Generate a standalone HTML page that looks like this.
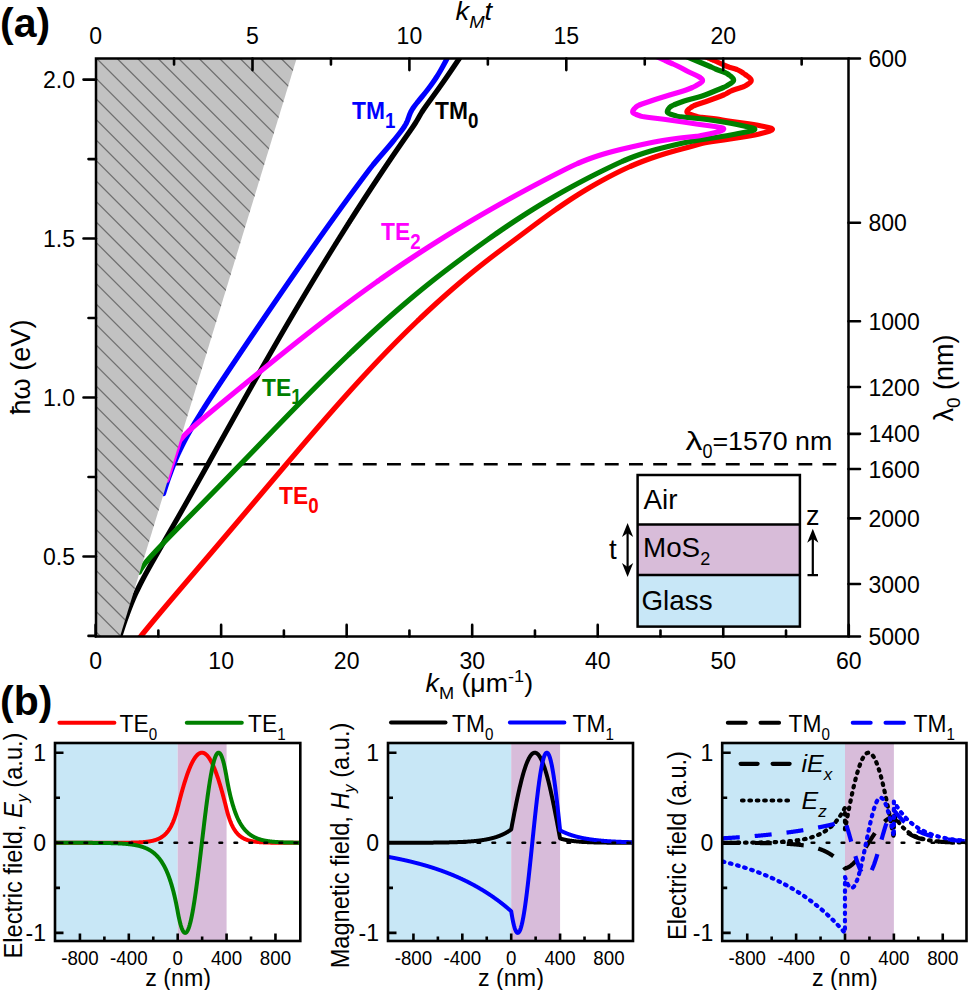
<!DOCTYPE html><html><head><meta charset="utf-8"><style>html,body{margin:0;padding:0;background:#fff;overflow:hidden;}svg{display:block;}text{font-family:"Liberation Sans",sans-serif;}</style></head><body>
<svg width="969" height="990" viewBox="0 0 969 990">
<defs><clipPath id="ca"><rect x="96.0" y="58.5" width="752.5" height="578.0"/></clipPath></defs>
<g clip-path="url(#ca)" fill="none" stroke-width="5.20" stroke-linejoin="round" stroke-linecap="round">
<path d="M96.6,464.2 L836.3,464.2" stroke="#000" stroke-width="2.6" stroke-dasharray="13.9 10.3" stroke-linecap="butt"/>
<path d="M118.71,640.00 L118.86,639.50 L119.02,639.00 L119.18,638.50 L119.33,638.00 L119.49,637.50 L119.65,637.00 L119.81,636.50 L119.96,636.00 L120.12,635.50 L120.28,635.00 L120.44,634.50 L120.60,634.00 L120.76,633.50 L120.92,633.00 L121.08,632.50 L121.24,632.00 L121.40,631.50 L121.57,631.00 L121.73,630.50 L121.89,630.00 L122.05,629.50 L122.22,629.00 L122.38,628.50 L122.54,628.00 L122.71,627.50 L122.87,627.00 L123.04,626.50 L123.21,626.00 L123.37,625.50 L123.54,625.00 L123.71,624.50 L123.88,624.00 L124.04,623.50 L124.21,623.00 L124.38,622.50 L124.55,622.00 L124.73,621.50 L124.90,621.00 L125.07,620.50 L125.24,620.00 L125.42,619.50 L125.59,619.00 L125.76,618.50 L125.94,618.00 L126.12,617.50 L126.29,617.00 L126.47,616.50 L126.65,616.00 L126.83,615.50 L127.01,615.00 L127.19,614.50 L127.37,614.00 L127.56,613.50 L127.74,613.00 L127.92,612.50 L128.11,612.00 L128.30,611.50 L128.48,611.00 L128.67,610.50 L128.86,610.00 L129.05,609.50 L129.24,609.00 L129.43,608.50 L129.63,608.00 L129.82,607.50 L130.02,607.00 L130.21,606.50 L130.41,606.00 L130.61,605.50 L130.81,605.00 L131.01,604.50 L131.21,604.00 L131.42,603.50 L131.62,603.00 L131.83,602.50 L132.03,602.00 L132.24,601.50 L132.45,601.00 L132.66,600.50 L132.87,600.00 L133.09,599.50 L133.30,599.00 L133.52,598.50 L133.74,598.00 L133.95,597.50 L134.17,597.00 L134.40,596.50 L134.62,596.00 L134.84,595.50 L135.07,595.00 L135.29,594.50 L135.52,594.00 L135.75,593.50 L135.98,593.00 L136.22,592.50 L136.45,592.00 L136.68,591.50 L136.92,591.00 L137.16,590.50 L137.40,590.00 L137.64,589.50 L137.88,589.00 L138.12,588.50 L138.36,588.00 L138.61,587.50 L138.85,587.00 L139.10,586.50 L139.35,586.00 L139.60,585.50 L139.85,585.00 L140.10,584.50 L140.36,584.00 L140.61,583.50 L140.87,583.00 L141.12,582.50 L141.38,582.00 L141.64,581.50 L141.90,581.00 L142.16,580.50 L142.42,580.00 L142.69,579.50 L142.95,579.00 L143.22,578.50 L143.48,578.00 L143.75,577.50 L144.01,577.00 L144.28,576.50 L144.55,576.00 L144.82,575.50 L145.09,575.00 L145.36,574.50 L145.64,574.00 L145.91,573.50 L146.18,573.00 L146.46,572.50 L146.73,572.00 L147.01,571.50 L147.28,571.00 L147.56,570.50 L147.84,570.00 L148.12,569.50 L148.39,569.00 L148.67,568.50 L148.95,568.00 L149.23,567.50 L149.51,567.00 L149.79,566.50 L150.07,566.00 L150.36,565.50 L150.64,565.00 L150.92,564.50 L151.20,564.00 L151.49,563.50 L151.77,563.00 L152.05,562.50 L152.34,562.00 L152.62,561.50 L152.91,561.00 L153.19,560.50 L153.48,560.00 L153.76,559.50 L154.05,559.00 L154.33,558.50 L154.62,558.00 L154.91,557.50 L155.19,557.00 L155.48,556.50 L155.77,556.00 L156.05,555.50 L156.34,555.00 L156.63,554.50 L156.92,554.00 L157.20,553.50 L157.49,553.00 L157.78,552.50 L158.07,552.00 L158.36,551.50 L158.64,551.00 L158.93,550.50 L159.22,550.00 L159.51,549.50 L159.80,549.00 L160.09,548.50 L160.37,548.00 L160.66,547.50 L160.95,547.00 L161.24,546.50 L161.53,546.00 L161.82,545.50 L162.11,545.00 L162.39,544.50 L162.68,544.00 L162.97,543.50 L163.26,543.00 L163.55,542.50 L163.84,542.00 L164.13,541.50 L164.42,541.00 L164.70,540.50 L164.99,540.00 L165.28,539.50 L165.57,539.00 L165.86,538.50 L166.15,538.00 L166.44,537.50 L166.72,537.00 L167.01,536.50 L167.30,536.00 L167.59,535.50 L167.88,535.00 L168.17,534.50 L168.45,534.00 L168.74,533.50 L169.03,533.00 L169.32,532.50 L169.61,532.00 L169.89,531.50 L170.18,531.00 L170.47,530.50 L170.76,530.00 L171.04,529.50 L171.33,529.00 L171.62,528.50 L171.91,528.00 L172.19,527.50 L172.48,527.00 L172.77,526.50 L173.05,526.00 L173.34,525.50 L173.63,525.00 L173.91,524.50 L174.20,524.00 L174.49,523.50 L174.77,523.00 L175.06,522.50 L175.35,522.00 L175.63,521.50 L175.92,521.00 L176.21,520.50 L176.49,520.00 L176.78,519.50 L177.06,519.00 L177.35,518.50 L177.64,518.00 L177.92,517.50 L178.21,517.00 L178.49,516.50 L178.78,516.00 L179.06,515.50 L179.35,515.00 L179.63,514.50 L179.92,514.00 L180.20,513.50 L180.49,513.00 L180.77,512.50 L181.06,512.00 L181.34,511.50 L181.63,511.00 L181.91,510.50 L182.20,510.00 L182.48,509.50 L182.77,509.00 L183.05,508.50 L183.33,508.00 L183.62,507.50 L183.90,507.00 L184.19,506.50 L184.47,506.00 L184.75,505.50 L185.04,505.00 L185.32,504.50 L185.60,504.00 L185.89,503.50 L186.17,503.00 L186.45,502.50 L186.74,502.00 L187.02,501.50 L187.30,501.00 L187.59,500.50 L187.87,500.00 L188.15,499.50 L188.43,499.00 L188.72,498.50 L189.00,498.00 L189.28,497.50 L189.57,497.00 L189.85,496.50 L190.13,496.00 L190.41,495.50 L190.69,495.00 L190.98,494.50 L191.26,494.00 L191.54,493.50 L191.82,493.00 L192.10,492.50 L192.39,492.00 L192.67,491.50 L192.95,491.00 L193.23,490.50 L193.51,490.00 L193.80,489.50 L194.08,489.00 L194.36,488.50 L194.64,488.00 L194.92,487.50 L195.20,487.00 L195.48,486.50 L195.76,486.00 L196.05,485.50 L196.33,485.00 L196.61,484.50 L196.89,484.00 L197.17,483.50 L197.45,483.00 L197.73,482.50 L198.01,482.00 L198.29,481.50 L198.57,481.00 L198.85,480.50 L199.13,480.00 L199.41,479.50 L199.69,479.00 L199.98,478.50 L200.26,478.00 L200.54,477.50 L200.82,477.00 L201.10,476.50 L201.38,476.00 L201.66,475.50 L201.94,475.00 L202.22,474.50 L202.50,474.00 L202.78,473.50 L203.06,473.00 L203.34,472.50 L203.62,472.00 L203.90,471.50 L204.18,471.00 L204.46,470.50 L204.74,470.00 L205.02,469.50 L205.30,469.00 L205.58,468.50 L205.85,468.00 L206.13,467.50 L206.41,467.00 L206.69,466.50 L206.97,466.00 L207.25,465.50 L207.53,465.00 L207.81,464.50 L208.09,464.00 L208.37,463.50 L208.65,463.00 L208.93,462.50 L209.21,462.00 L209.49,461.50 L209.77,461.00 L210.05,460.50 L210.33,460.00 L210.60,459.50 L210.88,459.00 L211.16,458.50 L211.44,458.00 L211.72,457.50 L212.00,457.00 L212.28,456.50 L212.56,456.00 L212.84,455.50 L213.12,455.00 L213.40,454.50 L213.68,454.00 L213.95,453.50 L214.23,453.00 L214.51,452.50 L214.79,452.00 L215.07,451.50 L215.35,451.00 L215.63,450.50 L215.91,450.00 L216.19,449.50 L216.47,449.00 L216.74,448.50 L217.02,448.00 L217.30,447.50 L217.58,447.00 L217.86,446.50 L218.14,446.00 L218.42,445.50 L218.70,445.00 L218.98,444.50 L219.25,444.00 L219.53,443.50 L219.81,443.00 L220.09,442.50 L220.37,442.00 L220.65,441.50 L220.93,441.00 L221.21,440.50 L221.49,440.00 L221.77,439.50 L222.04,439.00 L222.32,438.50 L222.60,438.00 L222.88,437.50 L223.16,437.00 L223.44,436.50 L223.72,436.00 L224.00,435.50 L224.28,435.00 L224.56,434.50 L224.83,434.00 L225.11,433.50 L225.39,433.00 L225.67,432.50 L225.95,432.00 L226.23,431.50 L226.51,431.00 L226.79,430.50 L227.07,430.00 L227.35,429.50 L227.63,429.00 L227.91,428.50 L228.18,428.00 L228.46,427.50 L228.74,427.00 L229.02,426.50 L229.30,426.00 L229.58,425.50 L229.86,425.00 L230.14,424.50 L230.42,424.00 L230.70,423.50 L230.98,423.00 L231.26,422.50 L231.54,422.00 L231.82,421.50 L232.10,421.00 L232.38,420.50 L232.66,420.00 L232.94,419.50 L233.21,419.00 L233.49,418.50 L233.77,418.00 L234.05,417.50 L234.33,417.00 L234.61,416.50 L234.89,416.00 L235.17,415.50 L235.45,415.00 L235.73,414.50 L236.01,414.00 L236.29,413.50 L236.57,413.00 L236.85,412.50 L237.13,412.00 L237.41,411.50 L237.69,411.00 L237.97,410.50 L238.25,410.00 L238.53,409.50 L238.81,409.00 L239.10,408.50 L239.38,408.00 L239.66,407.50 L239.94,407.00 L240.22,406.50 L240.50,406.00 L240.78,405.50 L241.06,405.00 L241.34,404.50 L241.62,404.00 L241.90,403.50 L242.18,403.00 L242.46,402.50 L242.74,402.00 L243.02,401.50 L243.31,401.00 L243.59,400.50 L243.87,400.00 L244.15,399.50 L244.43,399.00 L244.71,398.50 L244.99,398.00 L245.27,397.50 L245.55,397.00 L245.84,396.50 L246.12,396.00 L246.40,395.50 L246.68,395.00 L246.96,394.50 L247.24,394.00 L247.53,393.50 L247.81,393.00 L248.09,392.50 L248.37,392.00 L248.65,391.50 L248.93,391.00 L249.22,390.50 L249.50,390.00 L249.78,389.50 L250.06,389.00 L250.35,388.50 L250.63,388.00 L250.91,387.50 L251.19,387.00 L251.47,386.50 L251.76,386.00 L252.04,385.50 L252.32,385.00 L252.61,384.50 L252.89,384.00 L253.17,383.50 L253.45,383.00 L253.74,382.50 L254.02,382.00 L254.30,381.50 L254.59,381.00 L254.87,380.50 L255.15,380.00 L255.44,379.50 L255.72,379.00 L256.00,378.50 L256.29,378.00 L256.57,377.50 L256.85,377.00 L257.14,376.50 L257.42,376.00 L257.70,375.50 L257.99,375.00 L258.27,374.50 L258.56,374.00 L258.84,373.50 L259.12,373.00 L259.41,372.50 L259.69,372.00 L259.98,371.50 L260.26,371.00 L260.55,370.50 L260.83,370.00 L261.11,369.50 L261.40,369.00 L261.68,368.50 L261.97,368.00 L262.25,367.50 L262.54,367.00 L262.82,366.50 L263.11,366.00 L263.39,365.50 L263.68,365.00 L263.96,364.50 L264.25,364.00 L264.54,363.50 L264.82,363.00 L265.11,362.50 L265.39,362.00 L265.68,361.50 L265.96,361.00 L266.25,360.50 L266.54,360.00 L266.82,359.50 L267.11,359.00 L267.39,358.50 L267.68,358.00 L267.97,357.50 L268.25,357.00 L268.54,356.50 L268.83,356.00 L269.11,355.50 L269.40,355.00 L269.69,354.50 L269.97,354.00 L270.26,353.50 L270.55,353.00 L270.84,352.50 L271.12,352.00 L271.41,351.50 L271.70,351.00 L271.98,350.50 L272.27,350.00 L272.56,349.50 L272.85,349.00 L273.14,348.50 L273.42,348.00 L273.71,347.50 L274.00,347.00 L274.29,346.50 L274.58,346.00 L274.86,345.50 L275.15,345.00 L275.44,344.50 L275.73,344.00 L276.02,343.50 L276.31,343.00 L276.60,342.50 L276.89,342.00 L277.17,341.50 L277.46,341.00 L277.75,340.50 L278.04,340.00 L278.33,339.50 L278.62,339.00 L278.91,338.50 L279.20,338.00 L279.49,337.50 L279.78,337.00 L280.07,336.50 L280.36,336.00 L280.65,335.50 L280.94,335.00 L281.23,334.50 L281.52,334.00 L281.81,333.50 L282.10,333.00 L282.39,332.50 L282.68,332.00 L282.97,331.50 L283.27,331.00 L283.56,330.50 L283.85,330.00 L284.14,329.50 L284.43,329.00 L284.72,328.50 L285.01,328.00 L285.30,327.50 L285.60,327.00 L285.89,326.50 L286.18,326.00 L286.47,325.50 L286.76,325.00 L287.06,324.50 L287.35,324.00 L287.64,323.50 L287.93,323.00 L288.23,322.50 L288.52,322.00 L288.81,321.50 L289.10,321.00 L289.40,320.50 L289.69,320.00 L289.98,319.50 L290.28,319.00 L290.57,318.50 L290.86,318.00 L291.16,317.50 L291.45,317.00 L291.75,316.50 L292.04,316.00 L292.33,315.50 L292.63,315.00 L292.92,314.50 L293.22,314.00 L293.51,313.50 L293.81,313.00 L294.10,312.50 L294.39,312.00 L294.69,311.50 L294.98,311.00 L295.28,310.50 L295.57,310.00 L295.87,309.50 L296.17,309.00 L296.46,308.50 L296.76,308.00 L297.05,307.50 L297.35,307.00 L297.64,306.50 L297.94,306.00 L298.24,305.50 L298.53,305.00 L298.83,304.50 L299.13,304.00 L299.42,303.50 L299.72,303.00 L300.02,302.50 L300.31,302.00 L300.61,301.50 L300.91,301.00 L301.20,300.50 L301.50,300.00 L301.80,299.50 L302.10,299.00 L302.39,298.50 L302.69,298.00 L302.99,297.50 L303.29,297.00 L303.59,296.50 L303.88,296.00 L304.18,295.50 L304.48,295.00 L304.78,294.50 L305.08,294.00 L305.38,293.50 L305.68,293.00 L305.98,292.50 L306.27,292.00 L306.57,291.50 L306.87,291.00 L307.17,290.50 L307.47,290.00 L307.77,289.50 L308.07,289.00 L308.37,288.50 L308.67,288.00 L308.97,287.50 L309.27,287.00 L309.57,286.50 L309.87,286.00 L310.17,285.50 L310.47,285.00 L310.78,284.50 L311.08,284.00 L311.38,283.50 L311.68,283.00 L311.98,282.50 L312.28,282.00 L312.58,281.50 L312.89,281.00 L313.19,280.50 L313.49,280.00 L313.79,279.50 L314.09,279.00 L314.40,278.50 L314.70,278.00 L315.00,277.50 L315.30,277.00 L315.61,276.50 L315.91,276.00 L316.21,275.50 L316.52,275.00 L316.82,274.50 L317.12,274.00 L317.43,273.50 L317.73,273.00 L318.03,272.50 L318.34,272.00 L318.64,271.50 L318.95,271.00 L319.25,270.50 L319.55,270.00 L319.86,269.50 L320.16,269.00 L320.47,268.50 L320.77,268.00 L321.08,267.50 L321.38,267.00 L321.69,266.50 L322.00,266.00 L322.30,265.50 L322.61,265.00 L322.91,264.50 L323.22,264.00 L323.52,263.50 L323.83,263.00 L324.14,262.50 L324.44,262.00 L324.75,261.50 L325.06,261.00 L325.36,260.50 L325.67,260.00 L325.98,259.50 L326.29,259.00 L326.59,258.50 L326.90,258.00 L327.21,257.50 L327.52,257.00 L327.82,256.50 L328.13,256.00 L328.44,255.50 L328.75,255.00 L329.06,254.50 L329.36,254.00 L329.67,253.50 L329.98,253.00 L330.29,252.50 L330.60,252.00 L330.91,251.50 L331.22,251.00 L331.53,250.50 L331.84,250.00 L332.15,249.50 L332.46,249.00 L332.77,248.50 L333.08,248.00 L333.39,247.50 L333.70,247.00 L334.01,246.50 L334.32,246.00 L334.63,245.50 L334.94,245.00 L335.25,244.50 L335.56,244.00 L335.88,243.50 L336.19,243.00 L336.50,242.50 L336.81,242.00 L337.12,241.50 L337.43,241.00 L337.75,240.50 L338.06,240.00 L338.37,239.50 L338.68,239.00 L339.00,238.50 L339.31,238.00 L339.62,237.50 L339.94,237.00 L340.25,236.50 L340.56,236.00 L340.88,235.50 L341.19,235.00 L341.50,234.50 L341.82,234.00 L342.13,233.50 L342.45,233.00 L342.76,232.50 L343.08,232.00 L343.39,231.50 L343.71,231.00 L344.02,230.50 L344.34,230.00 L344.65,229.50 L344.97,229.00 L345.28,228.50 L345.60,228.00 L345.91,227.50 L346.23,227.00 L346.55,226.50 L346.86,226.00 L347.18,225.50 L347.49,225.00 L347.81,224.50 L348.13,224.00 L348.45,223.50 L348.76,223.00 L349.08,222.50 L349.40,222.00 L349.72,221.50 L350.03,221.00 L350.35,220.50 L350.67,220.00 L350.99,219.50 L351.31,219.00 L351.62,218.50 L351.94,218.00 L352.26,217.50 L352.58,217.00 L352.90,216.50 L353.22,216.00 L353.54,215.50 L353.86,215.00 L354.18,214.50 L354.50,214.00 L354.82,213.50 L355.14,213.00 L355.46,212.50 L355.78,212.00 L356.10,211.50 L356.42,211.00 L356.74,210.50 L357.06,210.00 L357.38,209.50 L357.70,209.00 L358.03,208.50 L358.35,208.00 L358.67,207.50 L358.99,207.00 L359.31,206.50 L359.64,206.00 L359.96,205.50 L360.28,205.00 L360.60,204.50 L360.93,204.00 L361.25,203.50 L361.57,203.00 L361.90,202.50 L362.22,202.00 L362.54,201.50 L362.87,201.00 L363.19,200.50 L363.52,200.00 L363.84,199.50 L364.16,199.00 L364.49,198.50 L364.81,198.00 L365.14,197.50 L365.46,197.00 L365.79,196.50 L366.11,196.00 L366.44,195.50 L366.77,195.00 L367.09,194.50 L367.42,194.00 L367.74,193.50 L368.07,193.00 L368.40,192.50 L368.72,192.00 L369.05,191.50 L369.38,191.00 L369.71,190.50 L370.03,190.00 L370.36,189.50 L370.69,189.00 L371.02,188.50 L371.34,188.00 L371.67,187.50 L372.00,187.00 L372.33,186.50 L372.66,186.00 L372.99,185.50 L373.32,185.00 L373.65,184.50 L373.98,184.00 L374.31,183.50 L374.64,183.00 L374.97,182.50 L375.30,182.00 L375.63,181.50 L375.96,181.00 L376.29,180.50 L376.62,180.00 L376.95,179.50 L377.28,179.00 L377.61,178.50 L377.94,178.00 L378.27,177.50 L378.61,177.00 L378.94,176.50 L379.27,176.00 L379.60,175.50 L379.94,175.00 L380.27,174.50 L380.60,174.00 L380.94,173.50 L381.27,173.00 L381.60,172.50 L381.94,172.00 L382.27,171.50 L382.60,171.00 L382.94,170.50 L383.27,170.00 L383.61,169.50 L383.94,169.00 L384.28,168.50 L384.61,168.00 L384.95,167.50 L385.29,167.00 L385.62,166.50 L385.96,166.00 L386.29,165.50 L386.63,165.00 L386.97,164.50 L387.30,164.00 L387.64,163.50 L387.98,163.00 L388.32,162.50 L388.65,162.00 L388.99,161.50 L389.33,161.00 L389.67,160.50 L390.01,160.00 L390.35,159.50 L390.68,159.00 L391.02,158.50 L391.36,158.00 L391.70,157.50 L392.04,157.00 L392.38,156.50 L392.72,156.00 L393.06,155.50 L393.41,155.00 L393.75,154.50 L394.09,154.00 L394.43,153.50 L394.77,153.00 L395.11,152.50 L395.45,152.00 L395.80,151.50 L396.14,151.00 L396.48,150.50 L396.83,150.00 L397.17,149.50 L397.51,149.00 L397.86,148.50 L398.20,148.00 L398.55,147.50 L398.89,147.00 L399.24,146.50 L399.58,146.00 L399.93,145.50 L400.27,145.00 L400.62,144.50 L400.96,144.00 L401.31,143.50 L401.66,143.00 L402.00,142.50 L402.35,142.00 L402.70,141.50 L403.05,141.00 L403.39,140.50 L403.74,140.00 L404.09,139.50 L404.44,139.00 L404.79,138.50 L405.14,138.00 L405.49,137.50 L405.83,137.00 L406.18,136.50 L406.53,136.00 L406.88,135.50 L407.23,135.00 L407.58,134.50 L407.93,134.00 L408.28,133.50 L408.63,133.00 L408.98,132.50 L409.33,132.00 L409.68,131.50 L410.03,131.00 L410.37,130.50 L410.72,130.00 L411.07,129.50 L411.41,129.00 L411.76,128.50 L412.10,128.00 L412.45,127.50 L412.79,127.00 L413.13,126.50 L413.46,126.00 L413.80,125.50 L414.13,125.00 L414.46,124.50 L414.78,124.00 L415.11,123.50 L415.43,123.00 L415.74,122.50 L416.06,122.00 L416.36,121.50 L416.67,121.00 L416.97,120.50 L417.26,120.00 L417.55,119.50 L417.84,119.00 L418.13,118.50 L418.41,118.00 L418.69,117.50 L418.98,117.00 L419.26,116.50 L419.54,116.00 L419.83,115.50 L420.11,115.00 L420.40,114.50 L420.70,114.00 L421.00,113.50 L421.30,113.00 L421.61,112.50 L421.93,112.00 L422.25,111.50 L422.57,111.00 L422.90,110.50 L423.23,110.00 L423.57,109.50 L423.91,109.00 L424.25,108.50 L424.60,108.00 L424.95,107.50 L425.30,107.00 L425.66,106.50 L426.01,106.00 L426.37,105.50 L426.73,105.00 L427.09,104.50 L427.45,104.00 L427.81,103.50 L428.17,103.00 L428.53,102.50 L428.90,102.00 L429.26,101.50 L429.62,101.00 L429.99,100.50 L430.35,100.00 L430.71,99.50 L431.08,99.00 L431.44,98.50 L431.80,98.00 L432.17,97.50 L432.53,97.00 L432.89,96.50 L433.25,96.00 L433.61,95.50 L433.98,95.00 L434.34,94.50 L434.70,94.00 L435.06,93.50 L435.42,93.00 L435.78,92.50 L436.14,92.00 L436.50,91.50 L436.86,91.00 L437.22,90.50 L437.58,90.00 L437.93,89.50 L438.29,89.00 L438.65,88.50 L439.01,88.00 L439.36,87.50 L439.72,87.00 L440.07,86.50 L440.43,86.00 L440.79,85.50 L441.14,85.00 L441.49,84.50 L441.85,84.00 L442.20,83.50 L442.55,83.00 L442.90,82.50 L443.26,82.00 L443.61,81.50 L443.96,81.00 L444.31,80.50 L444.66,80.00 L445.01,79.50 L445.35,79.00 L445.70,78.50 L446.05,78.00 L446.40,77.50 L446.74,77.00 L447.09,76.50 L447.43,76.00 L447.78,75.50 L448.12,75.00 L448.46,74.50 L448.81,74.00 L449.15,73.50 L449.49,73.00 L449.83,72.50 L450.17,72.00 L450.51,71.50 L450.85,71.00 L451.19,70.50 L451.53,70.00 L451.87,69.50 L452.21,69.00 L452.55,68.50 L452.88,68.00 L453.22,67.50 L453.56,67.00 L453.89,66.50 L454.23,66.00 L454.57,65.50 L454.90,65.00 L455.24,64.50 L455.58,64.00 L455.91,63.50 L456.25,63.00 L456.59,62.50 L456.92,62.00 L457.26,61.50 L457.60,61.00 L457.94,60.50 L458.27,60.00 L458.61,59.50 L458.95,59.00 L459.29,58.50 L459.63,58.00 L459.97,57.50 L460.31,57.00 L460.66,56.50 L461.00,56.00 L461.34,55.50 L461.69,55.00 L462.03,54.50" stroke="#000000"/>
<path d="M163.54,493.50 L163.69,493.00 L163.85,492.50 L164.00,492.00 L164.16,491.50 L164.31,491.00 L164.47,490.50 L164.63,490.00 L164.79,489.50 L164.95,489.00 L165.11,488.50 L165.27,488.00 L165.43,487.50 L165.59,487.00 L165.75,486.50 L165.91,486.00 L166.08,485.50 L166.24,485.00 L166.41,484.50 L166.57,484.00 L166.74,483.50 L166.90,483.00 L167.07,482.50 L167.24,482.00 L167.41,481.50 L167.58,481.00 L167.75,480.50 L167.92,480.00 L168.09,479.50 L168.27,479.00 L168.44,478.50 L168.61,478.00 L168.79,477.50 L168.96,477.00 L169.14,476.50 L169.32,476.00 L169.50,475.50 L169.68,475.00 L169.86,474.50 L170.04,474.00 L170.22,473.50 L170.40,473.00 L170.59,472.50 L170.77,472.00 L170.96,471.50 L171.14,471.00 L171.33,470.50 L171.52,470.00 L171.71,469.50 L171.90,469.00 L172.09,468.50 L172.28,468.00 L172.48,467.50 L172.67,467.00 L172.87,466.50 L173.06,466.00 L173.26,465.50 L173.46,465.00 L173.66,464.50 L173.86,464.00 L174.06,463.50 L174.27,463.00 L174.47,462.50 L174.68,462.00 L174.89,461.50 L175.09,461.00 L175.30,460.50 L175.51,460.00 L175.73,459.50 L175.94,459.00 L176.15,458.50 L176.37,458.00 L176.59,457.50 L176.80,457.00 L177.02,456.50 L177.24,456.00 L177.47,455.50 L177.69,455.00 L177.91,454.50 L178.14,454.00 L178.37,453.50 L178.60,453.00 L178.82,452.50 L179.06,452.00 L179.29,451.50 L179.52,451.00 L179.76,450.50 L180.00,450.00 L180.23,449.50 L180.47,449.00 L180.71,448.50 L180.96,448.00 L181.20,447.50 L181.44,447.00 L181.69,446.50 L181.94,446.00 L182.19,445.50 L182.44,445.00 L182.69,444.50 L182.94,444.00 L183.20,443.50 L183.45,443.00 L183.71,442.50 L183.97,442.00 L184.23,441.50 L184.49,441.00 L184.75,440.50 L185.02,440.00 L185.28,439.50 L185.55,439.00 L185.81,438.50 L186.08,438.00 L186.35,437.50 L186.62,437.00 L186.90,436.50 L187.17,436.00 L187.44,435.50 L187.72,435.00 L188.00,434.50 L188.28,434.00 L188.55,433.50 L188.84,433.00 L189.12,432.50 L189.40,432.00 L189.68,431.50 L189.97,431.00 L190.25,430.50 L190.54,430.00 L190.83,429.50 L191.12,429.00 L191.41,428.50 L191.70,428.00 L191.99,427.50 L192.28,427.00 L192.58,426.50 L192.87,426.00 L193.17,425.50 L193.47,425.00 L193.76,424.50 L194.06,424.00 L194.36,423.50 L194.66,423.00 L194.96,422.50 L195.26,422.00 L195.56,421.50 L195.87,421.00 L196.17,420.50 L196.48,420.00 L196.78,419.50 L197.09,419.00 L197.39,418.50 L197.70,418.00 L198.01,417.50 L198.32,417.00 L198.63,416.50 L198.94,416.00 L199.25,415.50 L199.56,415.00 L199.87,414.50 L200.18,414.00 L200.50,413.50 L200.81,413.00 L201.12,412.50 L201.44,412.00 L201.75,411.50 L202.07,411.00 L202.39,410.50 L202.70,410.00 L203.02,409.50 L203.34,409.00 L203.65,408.50 L203.97,408.00 L204.29,407.50 L204.61,407.00 L204.93,406.50 L205.25,406.00 L205.57,405.50 L205.89,405.00 L206.21,404.50 L206.53,404.00 L206.86,403.50 L207.18,403.00 L207.50,402.50 L207.82,402.00 L208.15,401.50 L208.47,401.00 L208.80,400.50 L209.12,400.00 L209.44,399.50 L209.77,399.00 L210.10,398.50 L210.42,398.00 L210.75,397.50 L211.07,397.00 L211.40,396.50 L211.73,396.00 L212.05,395.50 L212.38,395.00 L212.71,394.50 L213.03,394.00 L213.36,393.50 L213.69,393.00 L214.02,392.50 L214.35,392.00 L214.67,391.50 L215.00,391.00 L215.33,390.50 L215.66,390.00 L215.99,389.50 L216.32,389.00 L216.65,388.50 L216.98,388.00 L217.31,387.50 L217.64,387.00 L217.97,386.50 L218.30,386.00 L218.63,385.50 L218.96,385.00 L219.29,384.50 L219.63,384.00 L219.96,383.50 L220.29,383.00 L220.62,382.50 L220.95,382.00 L221.28,381.50 L221.62,381.00 L221.95,380.50 L222.28,380.00 L222.61,379.50 L222.94,379.00 L223.28,378.50 L223.61,378.00 L223.94,377.50 L224.28,377.00 L224.61,376.50 L224.94,376.00 L225.28,375.50 L225.61,375.00 L225.94,374.50 L226.28,374.00 L226.61,373.50 L226.94,373.00 L227.28,372.50 L227.61,372.00 L227.94,371.50 L228.28,371.00 L228.61,370.50 L228.95,370.00 L229.28,369.50 L229.62,369.00 L229.95,368.50 L230.28,368.00 L230.62,367.50 L230.95,367.00 L231.29,366.50 L231.62,366.00 L231.96,365.50 L232.29,365.00 L232.63,364.50 L232.96,364.00 L233.30,363.50 L233.63,363.00 L233.97,362.50 L234.31,362.00 L234.64,361.50 L234.98,361.00 L235.31,360.50 L235.65,360.00 L235.98,359.50 L236.32,359.00 L236.66,358.50 L236.99,358.00 L237.33,357.50 L237.66,357.00 L238.00,356.50 L238.34,356.00 L238.67,355.50 L239.01,355.00 L239.34,354.50 L239.68,354.00 L240.02,353.50 L240.35,353.00 L240.69,352.50 L241.03,352.00 L241.36,351.50 L241.70,351.00 L242.04,350.50 L242.37,350.00 L242.71,349.50 L243.05,349.00 L243.38,348.50 L243.72,348.00 L244.06,347.50 L244.40,347.00 L244.73,346.50 L245.07,346.00 L245.41,345.50 L245.74,345.00 L246.08,344.50 L246.42,344.00 L246.76,343.50 L247.09,343.00 L247.43,342.50 L247.77,342.00 L248.11,341.50 L248.45,341.00 L248.78,340.50 L249.12,340.00 L249.46,339.50 L249.80,339.00 L250.13,338.50 L250.47,338.00 L250.81,337.50 L251.15,337.00 L251.49,336.50 L251.83,336.00 L252.16,335.50 L252.50,335.00 L252.84,334.50 L253.18,334.00 L253.52,333.50 L253.86,333.00 L254.19,332.50 L254.53,332.00 L254.87,331.50 L255.21,331.00 L255.55,330.50 L255.89,330.00 L256.23,329.50 L256.57,329.00 L256.91,328.50 L257.24,328.00 L257.58,327.50 L257.92,327.00 L258.26,326.50 L258.60,326.00 L258.94,325.50 L259.28,325.00 L259.62,324.50 L259.96,324.00 L260.30,323.50 L260.64,323.00 L260.98,322.50 L261.32,322.00 L261.66,321.50 L262.00,321.00 L262.34,320.50 L262.68,320.00 L263.02,319.50 L263.36,319.00 L263.70,318.50 L264.04,318.00 L264.38,317.50 L264.72,317.00 L265.06,316.50 L265.40,316.00 L265.74,315.50 L266.08,315.00 L266.42,314.50 L266.76,314.00 L267.10,313.50 L267.44,313.00 L267.78,312.50 L268.13,312.00 L268.47,311.50 L268.81,311.00 L269.15,310.50 L269.49,310.00 L269.83,309.50 L270.17,309.00 L270.51,308.50 L270.86,308.00 L271.20,307.50 L271.54,307.00 L271.88,306.50 L272.22,306.00 L272.56,305.50 L272.91,305.00 L273.25,304.50 L273.59,304.00 L273.93,303.50 L274.27,303.00 L274.62,302.50 L274.96,302.00 L275.30,301.50 L275.64,301.00 L275.99,300.50 L276.33,300.00 L276.67,299.50 L277.01,299.00 L277.36,298.50 L277.70,298.00 L278.04,297.50 L278.38,297.00 L278.73,296.50 L279.07,296.00 L279.41,295.50 L279.76,295.00 L280.10,294.50 L280.44,294.00 L280.79,293.50 L281.13,293.00 L281.47,292.50 L281.82,292.00 L282.16,291.50 L282.51,291.00 L282.85,290.50 L283.19,290.00 L283.54,289.50 L283.88,289.00 L284.23,288.50 L284.57,288.00 L284.92,287.50 L285.26,287.00 L285.60,286.50 L285.95,286.00 L286.29,285.50 L286.64,285.00 L286.98,284.50 L287.33,284.00 L287.67,283.50 L288.02,283.00 L288.36,282.50 L288.71,282.00 L289.06,281.50 L289.40,281.00 L289.75,280.50 L290.09,280.00 L290.44,279.50 L290.78,279.00 L291.13,278.50 L291.48,278.00 L291.82,277.50 L292.17,277.00 L292.51,276.50 L292.86,276.00 L293.21,275.50 L293.55,275.00 L293.90,274.50 L294.25,274.00 L294.59,273.50 L294.94,273.00 L295.29,272.50 L295.63,272.00 L295.98,271.50 L296.33,271.00 L296.68,270.50 L297.02,270.00 L297.37,269.50 L297.72,269.00 L298.07,268.50 L298.41,268.00 L298.76,267.50 L299.11,267.00 L299.46,266.50 L299.81,266.00 L300.16,265.50 L300.50,265.00 L300.85,264.50 L301.20,264.00 L301.55,263.50 L301.90,263.00 L302.25,262.50 L302.60,262.00 L302.95,261.50 L303.29,261.00 L303.64,260.50 L303.99,260.00 L304.34,259.50 L304.69,259.00 L305.04,258.50 L305.39,258.00 L305.74,257.50 L306.09,257.00 L306.44,256.50 L306.79,256.00 L307.14,255.50 L307.49,255.00 L307.84,254.50 L308.19,254.00 L308.54,253.50 L308.90,253.00 L309.25,252.50 L309.60,252.00 L309.95,251.50 L310.30,251.00 L310.65,250.50 L311.00,250.00 L311.35,249.50 L311.71,249.00 L312.06,248.50 L312.41,248.00 L312.76,247.50 L313.11,247.00 L313.47,246.50 L313.82,246.00 L314.17,245.50 L314.52,245.00 L314.88,244.50 L315.23,244.00 L315.58,243.50 L315.93,243.00 L316.29,242.50 L316.64,242.00 L316.99,241.50 L317.35,241.00 L317.70,240.50 L318.06,240.00 L318.41,239.50 L318.76,239.00 L319.12,238.50 L319.47,238.00 L319.83,237.50 L320.18,237.00 L320.53,236.50 L320.89,236.00 L321.24,235.50 L321.60,235.00 L321.95,234.50 L322.31,234.00 L322.66,233.50 L323.02,233.00 L323.38,232.50 L323.73,232.00 L324.09,231.50 L324.44,231.00 L324.80,230.50 L325.15,230.00 L325.51,229.50 L325.87,229.00 L326.22,228.50 L326.58,228.00 L326.94,227.50 L327.29,227.00 L327.65,226.50 L328.01,226.00 L328.37,225.50 L328.72,225.00 L329.08,224.50 L329.44,224.00 L329.80,223.50 L330.15,223.00 L330.51,222.50 L330.87,222.00 L331.23,221.50 L331.59,221.00 L331.95,220.50 L332.30,220.00 L332.66,219.50 L333.02,219.00 L333.38,218.50 L333.74,218.00 L334.10,217.50 L334.46,217.00 L334.82,216.50 L335.18,216.00 L335.54,215.50 L335.90,215.00 L336.26,214.50 L336.62,214.00 L336.98,213.50 L337.34,213.00 L337.70,212.50 L338.06,212.00 L338.42,211.50 L338.79,211.00 L339.15,210.50 L339.51,210.00 L339.87,209.50 L340.23,209.00 L340.59,208.50 L340.96,208.00 L341.32,207.50 L341.68,207.00 L342.04,206.50 L342.41,206.00 L342.77,205.50 L343.13,205.00 L343.50,204.50 L343.86,204.00 L344.22,203.50 L344.59,203.00 L344.95,202.50 L345.31,202.00 L345.68,201.50 L346.04,201.00 L346.41,200.50 L346.77,200.00 L347.14,199.50 L347.50,199.00 L347.87,198.50 L348.23,198.00 L348.60,197.50 L348.96,197.00 L349.33,196.50 L349.70,196.00 L350.06,195.50 L350.43,195.00 L350.80,194.50 L351.16,194.00 L351.53,193.50 L351.90,193.00 L352.26,192.50 L352.63,192.00 L353.00,191.50 L353.37,191.00 L353.74,190.50 L354.10,190.00 L354.47,189.50 L354.84,189.00 L355.21,188.50 L355.58,188.00 L355.95,187.50 L356.32,187.00 L356.69,186.50 L357.06,186.00 L357.43,185.50 L357.80,185.00 L358.17,184.50 L358.54,184.00 L358.91,183.50 L359.28,183.00 L359.65,182.50 L360.02,182.00 L360.39,181.50 L360.77,181.00 L361.14,180.50 L361.51,180.00 L361.88,179.50 L362.26,179.00 L362.63,178.50 L363.00,178.00 L363.38,177.50 L363.75,177.00 L364.12,176.50 L364.50,176.00 L364.87,175.50 L365.25,175.00 L365.62,174.50 L366.00,174.00 L366.37,173.50 L366.75,173.00 L367.13,172.50 L367.50,172.00 L367.88,171.50 L368.25,171.00 L368.63,170.50 L369.01,170.00 L369.39,169.50 L369.77,169.00 L370.16,168.50 L370.54,168.00 L370.94,167.50 L371.33,167.00 L371.73,166.50 L372.13,166.00 L372.53,165.50 L372.93,165.00 L373.34,164.50 L373.75,164.00 L374.16,163.50 L374.57,163.00 L374.99,162.50 L375.40,162.00 L375.82,161.50 L376.24,161.00 L376.66,160.50 L377.09,160.00 L377.51,159.50 L377.94,159.00 L378.37,158.50 L378.79,158.00 L379.22,157.50 L379.65,157.00 L380.08,156.50 L380.52,156.00 L380.95,155.50 L381.38,155.00 L381.81,154.50 L382.25,154.00 L382.68,153.50 L383.11,153.00 L383.55,152.50 L383.98,152.00 L384.42,151.50 L384.85,151.00 L385.28,150.50 L385.72,150.00 L386.15,149.50 L386.58,149.00 L387.01,148.50 L387.44,148.00 L387.87,147.50 L388.30,147.00 L388.72,146.50 L389.15,146.00 L389.57,145.50 L390.00,145.00 L390.42,144.50 L390.84,144.00 L391.25,143.50 L391.67,143.00 L392.08,142.50 L392.49,142.00 L392.90,141.50 L393.31,141.00 L393.71,140.50 L394.12,140.00 L394.52,139.50 L394.92,139.00 L395.32,138.50 L395.72,138.00 L396.11,137.50 L396.51,137.00 L396.91,136.50 L397.31,136.00 L397.71,135.50 L398.11,135.00 L398.50,134.50 L398.89,134.00 L399.29,133.50 L399.68,133.00 L400.06,132.50 L400.45,132.00 L400.83,131.50 L401.21,131.00 L401.59,130.50 L401.96,130.00 L402.32,129.50 L402.68,129.00 L403.04,128.50 L403.38,128.00 L403.72,127.50 L404.06,127.00 L404.38,126.50 L404.70,126.00 L405.00,125.50 L405.30,125.00 L405.59,124.50 L405.86,124.00 L406.13,123.50 L406.38,123.00 L406.63,122.50 L406.86,122.00 L407.09,121.50 L407.30,121.00 L407.51,120.50 L407.70,120.00 L407.89,119.50 L408.08,119.00 L408.26,118.50 L408.43,118.00 L408.61,117.50 L408.78,117.00 L408.96,116.50 L409.13,116.00 L409.31,115.50 L409.50,115.00 L409.69,114.50 L409.89,114.00 L410.10,113.50 L410.31,113.00 L410.54,112.50 L410.78,112.00 L411.03,111.50 L411.29,111.00 L411.57,110.50 L411.86,110.00 L412.15,109.50 L412.46,109.00 L412.79,108.50 L413.12,108.00 L413.46,107.50 L413.81,107.00 L414.17,106.50 L414.53,106.00 L414.91,105.50 L415.29,105.00 L415.67,104.50 L416.07,104.00 L416.46,103.50 L416.86,103.00 L417.26,102.50 L417.67,102.00 L418.08,101.50 L418.48,101.00 L418.89,100.50 L419.31,100.00 L419.72,99.50 L420.13,99.00 L420.54,98.50 L420.95,98.00 L421.36,97.50 L421.77,97.00 L422.18,96.50 L422.59,96.00 L422.99,95.50 L423.40,95.00 L423.80,94.50 L424.21,94.00 L424.61,93.50 L425.01,93.00 L425.40,92.50 L425.80,92.00 L426.19,91.50 L426.58,91.00 L426.97,90.50 L427.36,90.00 L427.74,89.50 L428.13,89.00 L428.51,88.50 L428.89,88.00 L429.26,87.50 L429.64,87.00 L430.01,86.50 L430.38,86.00 L430.75,85.50 L431.11,85.00 L431.47,84.50 L431.83,84.00 L432.19,83.50 L432.55,83.00 L432.90,82.50 L433.25,82.00 L433.60,81.50 L433.94,81.00 L434.28,80.50 L434.62,80.00 L434.96,79.50 L435.29,79.00 L435.62,78.50 L435.95,78.00 L436.27,77.50 L436.60,77.00 L436.92,76.50 L437.23,76.00 L437.55,75.50 L437.86,75.00 L438.17,74.50 L438.48,74.00 L438.78,73.50 L439.08,73.00 L439.38,72.50 L439.68,72.00 L439.97,71.50 L440.26,71.00 L440.55,70.50 L440.84,70.00 L441.13,69.50 L441.41,69.00 L441.69,68.50 L441.97,68.00 L442.25,67.50 L442.53,67.00 L442.81,66.50 L443.08,66.00 L443.36,65.50 L443.63,65.00 L443.90,64.50 L444.17,64.00 L444.44,63.50 L444.71,63.00 L444.97,62.50 L445.24,62.00 L445.50,61.50 L445.76,61.00 L446.02,60.50 L446.27,60.00 L446.52,59.50 L446.76,59.00 L447.00,58.50 L447.22,58.00 L447.44,57.50 L447.65,57.00 L447.85,56.50 L448.03,56.00 L448.21,55.50 L448.37,55.00 L448.52,54.50" stroke="#0000ff"/>
<path d="M137.76,640.00 L138.56,639.00 L139.36,638.00 L140.17,637.00 L140.97,636.00 L141.78,635.00 L142.59,634.00 L143.41,633.00 L144.22,632.00 L145.04,631.00 L145.86,630.00 L146.68,629.00 L147.50,628.00 L148.32,627.00 L149.15,626.00 L149.97,625.00 L150.80,624.00 L151.63,623.00 L152.46,622.00 L153.30,621.00 L154.13,620.00 L154.96,619.00 L155.80,618.00 L156.64,617.00 L157.48,616.00 L158.31,615.00 L159.15,614.00 L159.99,613.00 L160.84,612.00 L161.68,611.00 L162.52,610.00 L163.37,609.00 L164.21,608.00 L165.06,607.00 L165.90,606.00 L166.75,605.00 L167.60,604.00 L168.44,603.00 L169.29,602.00 L170.14,601.00 L170.99,600.00 L171.84,599.00 L172.69,598.00 L173.54,597.00 L174.39,596.00 L175.24,595.00 L176.09,594.00 L176.94,593.00 L177.80,592.00 L178.65,591.00 L179.50,590.00 L180.35,589.00 L181.21,588.00 L182.06,587.00 L182.91,586.00 L183.76,585.00 L184.62,584.00 L185.47,583.00 L186.33,582.00 L187.18,581.00 L188.03,580.00 L188.89,579.00 L189.74,578.00 L190.59,577.00 L191.45,576.00 L192.30,575.00 L193.16,574.00 L194.01,573.00 L194.86,572.00 L195.72,571.00 L196.57,570.00 L197.43,569.00 L198.28,568.00 L199.13,567.00 L199.99,566.00 L200.84,565.00 L201.69,564.00 L202.55,563.00 L203.40,562.00 L204.25,561.00 L205.11,560.00 L205.96,559.00 L206.81,558.00 L207.67,557.00 L208.52,556.00 L209.37,555.00 L210.22,554.00 L211.08,553.00 L211.93,552.00 L212.78,551.00 L213.63,550.00 L214.48,549.00 L215.33,548.00 L216.19,547.00 L217.04,546.00 L217.89,545.00 L218.74,544.00 L219.59,543.00 L220.44,542.00 L221.29,541.00 L222.14,540.00 L222.99,539.00 L223.84,538.00 L224.69,537.00 L225.54,536.00 L226.39,535.00 L227.24,534.00 L228.09,533.00 L228.94,532.00 L229.79,531.00 L230.64,530.00 L231.48,529.00 L232.33,528.00 L233.18,527.00 L234.03,526.00 L234.88,525.00 L235.72,524.00 L236.57,523.00 L237.42,522.00 L238.27,521.00 L239.12,520.00 L239.96,519.00 L240.81,518.00 L241.66,517.00 L242.50,516.00 L243.35,515.00 L244.20,514.00 L245.04,513.00 L245.89,512.00 L246.74,511.00 L247.58,510.00 L248.43,509.00 L249.27,508.00 L250.12,507.00 L250.97,506.00 L251.81,505.00 L252.66,504.00 L253.50,503.00 L254.35,502.00 L255.19,501.00 L256.04,500.00 L256.89,499.00 L257.73,498.00 L258.58,497.00 L259.42,496.00 L260.27,495.00 L261.11,494.00 L261.96,493.00 L262.80,492.00 L263.65,491.00 L264.50,490.00 L265.34,489.00 L266.19,488.00 L267.03,487.00 L267.88,486.00 L268.72,485.00 L269.57,484.00 L270.42,483.00 L271.26,482.00 L272.11,481.00 L272.95,480.00 L273.80,479.00 L274.65,478.00 L275.49,477.00 L276.34,476.00 L277.19,475.00 L278.03,474.00 L278.88,473.00 L279.73,472.00 L280.57,471.00 L281.42,470.00 L282.27,469.00 L283.12,468.00 L283.97,467.00 L284.81,466.00 L285.66,465.00 L286.51,464.00 L287.36,463.00 L288.21,462.00 L289.06,461.00 L289.91,460.00 L290.76,459.00 L291.61,458.00 L292.46,457.00 L293.31,456.00 L294.17,455.00 L295.02,454.00 L295.87,453.00 L296.72,452.00 L297.58,451.00 L298.43,450.00 L299.28,449.00 L300.14,448.00 L300.99,447.00 L301.85,446.00 L302.70,445.00 L303.56,444.00 L304.42,443.00 L305.27,442.00 L306.13,441.00 L306.99,440.00 L307.85,439.00 L308.71,438.00 L309.57,437.00 L310.43,436.00 L311.29,435.00 L312.15,434.00 L313.01,433.00 L313.87,432.00 L314.74,431.00 L315.60,430.00 L316.46,429.00 L317.33,428.00 L318.20,427.00 L319.06,426.00 L319.93,425.00 L320.80,424.00 L321.67,423.00 L322.54,422.00 L323.41,421.00 L324.28,420.00 L325.15,419.00 L326.02,418.00 L326.90,417.00 L327.77,416.00 L328.65,415.00 L329.52,414.00 L330.40,413.00 L331.28,412.00 L332.16,411.00 L333.04,410.00 L333.92,409.00 L334.80,408.00 L335.68,407.00 L336.57,406.00 L337.45,405.00 L338.34,404.00 L339.23,403.00 L340.11,402.00 L341.00,401.00 L341.89,400.00 L342.78,399.00 L343.68,398.00 L344.57,397.00 L345.47,396.00 L346.36,395.00 L347.26,394.00 L348.16,393.00 L349.06,392.00 L349.96,391.00 L350.86,390.00 L351.76,389.00 L352.67,388.00 L353.58,387.00 L354.48,386.00 L355.39,385.00 L356.30,384.00 L357.22,383.00 L358.13,382.00 L359.04,381.00 L359.96,380.00 L360.88,379.00 L361.80,378.00 L362.72,377.00 L363.64,376.00 L364.56,375.00 L365.49,374.00 L366.42,373.00 L367.35,372.00 L368.28,371.00 L369.21,370.00 L370.14,369.00 L371.08,368.00 L372.02,367.00 L372.95,366.00 L373.90,365.00 L374.84,364.00 L375.78,363.00 L376.73,362.00 L377.68,361.00 L378.63,360.00 L379.58,359.00 L380.53,358.00 L381.49,357.00 L382.45,356.00 L383.41,355.00 L384.37,354.00 L385.33,353.00 L386.30,352.00 L387.27,351.00 L388.24,350.00 L389.21,349.00 L390.18,348.00 L391.16,347.00 L392.14,346.00 L393.12,345.00 L394.11,344.00 L395.09,343.00 L396.08,342.00 L397.07,341.00 L398.06,340.00 L399.06,339.00 L400.06,338.00 L401.06,337.00 L402.06,336.00 L403.06,335.00 L404.07,334.00 L405.08,333.00 L406.09,332.00 L407.11,331.00 L408.13,330.00 L409.15,329.00 L410.17,328.00 L411.20,327.00 L412.23,326.00 L413.26,325.00 L414.29,324.00 L415.33,323.00 L416.37,322.00 L417.41,321.00 L418.46,320.00 L419.50,319.00 L420.56,318.00 L421.61,317.00 L422.67,316.00 L423.73,315.00 L424.79,314.00 L425.86,313.00 L426.93,312.00 L428.00,311.00 L429.08,310.00 L430.16,309.00 L431.24,308.00 L432.33,307.00 L433.42,306.00 L434.51,305.00 L435.61,304.00 L436.71,303.00 L437.81,302.00 L438.92,301.00 L440.03,300.00 L441.14,299.00 L442.26,298.00 L443.38,297.00 L444.50,296.00 L445.63,295.00 L446.76,294.00 L447.90,293.00 L449.04,292.00 L450.18,291.00 L451.33,290.00 L452.48,289.00 L453.63,288.00 L454.79,287.00 L455.96,286.00 L457.12,285.00 L458.30,284.00 L459.47,283.00 L460.65,282.00 L461.83,281.00 L463.02,280.00 L464.22,279.00 L465.41,278.00 L466.61,277.00 L467.82,276.00 L469.03,275.00 L470.25,274.00 L471.47,273.00 L472.69,272.00 L473.92,271.00 L475.16,270.00 L476.40,269.00 L477.64,268.00 L478.89,267.00 L480.14,266.00 L481.40,265.00 L482.67,264.00 L483.94,263.00 L485.21,262.00 L486.49,261.00 L487.78,260.00 L489.07,259.00 L490.36,258.00 L491.66,257.00 L492.97,256.00 L494.28,255.00 L495.60,254.00 L496.92,253.00 L498.25,252.00 L499.58,251.00 L500.92,250.00 L502.26,249.00 L503.61,248.00 L504.95,247.00 L506.30,246.00 L507.65,245.00 L509.01,244.00 L510.36,243.00 L511.71,242.00 L513.06,241.00 L514.40,240.00 L514.74,239.75 L515.07,239.50 L515.41,239.25 L515.75,239.00 L516.08,238.75 L516.42,238.50 L516.75,238.25 L517.09,238.00 L517.42,237.75 L517.76,237.50 L518.09,237.25 L518.43,237.00 L518.76,236.75 L519.09,236.50 L519.43,236.25 L519.76,236.00 L520.10,235.75 L520.43,235.50 L520.76,235.25 L521.10,235.00 L521.43,234.75 L521.76,234.50 L522.10,234.25 L522.43,234.00 L522.76,233.75 L523.10,233.50 L523.43,233.25 L523.76,233.00 L524.10,232.75 L524.43,232.50 L524.76,232.25 L525.10,232.00 L525.43,231.75 L525.76,231.50 L526.10,231.25 L526.43,231.00 L526.76,230.75 L527.10,230.50 L527.43,230.25 L527.76,230.00 L528.10,229.75 L528.43,229.50 L528.76,229.25 L529.10,229.00 L529.43,228.75 L529.76,228.50 L530.10,228.25 L530.43,228.00 L530.76,227.75 L531.10,227.50 L531.43,227.25 L531.77,227.00 L532.10,226.75 L532.43,226.50 L532.77,226.25 L533.10,226.00 L533.44,225.75 L533.77,225.50 L534.11,225.25 L534.44,225.00 L534.78,224.75 L535.11,224.50 L535.45,224.25 L535.79,224.00 L536.12,223.75 L536.46,223.50 L536.80,223.25 L537.13,223.00 L537.47,222.75 L537.81,222.50 L538.14,222.25 L538.48,222.00 L538.82,221.75 L539.16,221.50 L539.49,221.25 L539.83,221.00 L540.17,220.75 L540.51,220.50 L540.85,220.25 L541.19,220.00 L541.53,219.75 L541.87,219.50 L542.21,219.25 L542.55,219.00 L542.89,218.75 L543.23,218.50 L543.57,218.25 L543.92,218.00 L544.26,217.75 L544.60,217.50 L544.94,217.25 L545.29,217.00 L545.63,216.75 L545.97,216.50 L546.32,216.25 L546.66,216.00 L547.01,215.75 L547.35,215.50 L547.70,215.25 L548.04,215.00 L548.39,214.75 L548.74,214.50 L549.08,214.25 L549.43,214.00 L549.78,213.75 L550.13,213.50 L550.48,213.25 L550.83,213.00 L551.18,212.75 L551.53,212.50 L551.88,212.25 L552.23,212.00 L552.58,211.75 L552.93,211.50 L553.29,211.25 L553.64,211.00 L553.99,210.75 L554.35,210.50 L554.70,210.25 L555.06,210.00 L555.41,209.75 L555.77,209.50 L556.12,209.25 L556.48,209.00 L556.84,208.75 L557.20,208.50 L557.56,208.25 L557.92,208.00 L558.28,207.75 L558.64,207.50 L559.00,207.25 L559.36,207.00 L559.72,206.75 L560.08,206.50 L560.45,206.25 L560.81,206.00 L561.18,205.75 L561.54,205.50 L561.91,205.25 L562.27,205.00 L562.64,204.75 L563.01,204.50 L563.38,204.25 L563.74,204.00 L564.11,203.75 L564.48,203.50 L564.85,203.25 L565.23,203.00 L565.60,202.75 L565.97,202.50 L566.34,202.25 L566.72,202.00 L567.09,201.75 L567.47,201.50 L567.85,201.25 L568.22,201.00 L568.60,200.75 L568.98,200.50 L569.36,200.25 L569.74,200.00 L570.12,199.75 L570.50,199.50 L570.88,199.25 L571.27,199.00 L571.65,198.75 L572.03,198.50 L572.42,198.25 L572.81,198.00 L573.19,197.75 L573.58,197.50 L573.97,197.25 L574.36,197.00 L574.75,196.75 L575.14,196.50 L575.53,196.25 L575.92,196.00 L576.32,195.75 L576.71,195.50 L577.11,195.25 L577.50,195.00 L577.90,194.75 L578.30,194.50 L578.69,194.25 L579.09,194.00 L579.49,193.75 L579.90,193.50 L580.30,193.25 L580.70,193.00 L581.10,192.75 L581.51,192.50 L581.92,192.25 L582.32,192.00 L582.73,191.75 L583.14,191.50 L583.55,191.25 L583.96,191.00 L584.37,190.75 L584.78,190.50 L585.19,190.25 L585.61,190.00 L586.02,189.75 L586.44,189.50 L586.86,189.25 L587.28,189.00 L587.69,188.75 L588.11,188.50 L588.54,188.25 L588.96,188.00 L589.38,187.75 L589.81,187.50 L590.23,187.25 L590.66,187.00 L591.08,186.75 L591.51,186.50 L591.94,186.25 L592.37,186.00 L592.81,185.75 L593.24,185.50 L593.67,185.25 L594.11,185.00 L594.54,184.75 L594.98,184.50 L595.42,184.25 L595.86,184.00 L596.30,183.75 L596.74,183.50 L597.18,183.25 L597.63,183.00 L598.07,182.75 L598.52,182.50 L598.96,182.25 L599.41,182.00 L599.86,181.75 L600.31,181.50 L600.76,181.25 L601.22,181.00 L601.67,180.75 L602.13,180.50 L602.58,180.25 L603.04,180.00 L603.50,179.75 L603.96,179.50 L604.42,179.25 L604.88,179.00 L605.35,178.75 L605.81,178.50 L606.28,178.25 L606.75,178.00 L607.22,177.75 L607.69,177.50 L608.16,177.25 L608.63,177.00 L609.11,176.75 L609.58,176.50 L610.06,176.25 L610.54,176.00 L611.01,175.75 L611.50,175.50 L611.98,175.25 L612.46,175.00 L612.95,174.75 L613.43,174.50 L613.92,174.25 L614.41,174.00 L614.90,173.75 L615.39,173.50 L615.89,173.25 L616.39,173.00 L616.88,172.75 L617.39,172.50 L617.89,172.25 L618.39,172.00 L618.90,171.75 L619.41,171.50 L619.92,171.25 L620.44,171.00 L620.95,170.75 L621.47,170.50 L621.99,170.25 L622.52,170.00 L623.04,169.75 L623.57,169.50 L624.11,169.25 L624.64,169.00 L625.18,168.75 L625.72,168.50 L626.26,168.25 L626.81,168.00 L627.36,167.75 L627.92,167.50 L628.47,167.25 L629.03,167.00 L629.59,166.75 L630.16,166.50 L630.73,166.25 L631.30,166.00 L631.88,165.75 L632.46,165.50 L633.05,165.25 L633.64,165.00 L634.23,164.75 L634.82,164.50 L635.42,164.25 L636.03,164.00 L636.63,163.75 L637.25,163.50 L637.86,163.25 L638.48,163.00 L639.11,162.75 L639.74,162.50 L640.37,162.25 L641.01,162.00 L641.65,161.75 L642.30,161.50 L642.95,161.25 L643.60,161.00 L644.26,160.75 L644.93,160.50 L645.60,160.25 L646.27,160.00 L646.95,159.75 L647.64,159.50 L648.33,159.25 L649.03,159.00 L649.73,158.75 L650.43,158.50 L651.14,158.25 L651.86,158.00 L652.58,157.75 L653.31,157.50 L654.04,157.25 L654.78,157.00 L655.53,156.75 L656.28,156.50 L657.03,156.25 L657.79,156.00 L658.56,155.75 L659.33,155.50 L660.11,155.25 L660.90,155.00 L661.69,154.75 L662.49,154.50 L663.29,154.25 L664.10,154.00 L664.92,153.75 L665.74,153.50 L666.57,153.25 L667.41,153.00 L668.25,152.75 L669.10,152.50 L669.96,152.25 L670.82,152.00 L671.69,151.75 L672.56,151.50 L673.45,151.25 L674.34,151.00 L675.24,150.75 L676.14,150.50 L677.05,150.25 L677.97,150.00 L678.90,149.75 L679.84,149.50 L680.79,149.25 L681.74,149.00 L682.70,148.75 L683.66,148.50 L684.62,148.25 L685.58,148.00 L686.53,147.75 L687.47,147.50 L688.40,147.25 L689.32,147.00 L690.23,146.75 L691.13,146.50 L692.01,146.25 L692.88,146.00 L693.75,145.75 L694.60,145.50 L695.46,145.25 L696.31,145.00 L697.17,144.75 L698.04,144.50 L698.92,144.25 L699.83,144.00 L700.76,143.75 L701.74,143.50 L702.81,143.25 L703.99,143.00 L705.27,142.75 L706.67,142.50 L708.16,142.25 L709.74,142.00 L711.40,141.75 L713.12,141.50 L714.90,141.25 L716.70,141.00 L718.51,140.75 L720.32,140.50 L722.10,140.25 L723.84,140.00 L725.51,139.75 L727.10,139.50 L728.66,139.25 L730.25,139.00 L731.86,138.75 L733.49,138.50 L735.12,138.25 L736.75,138.00 L738.39,137.75 L740.02,137.50 L741.63,137.25 L743.23,137.00 L744.81,136.75 L746.36,136.50 L747.88,136.25 L749.36,136.00 L750.80,135.75 L752.19,135.50 L753.52,135.25 L754.80,135.00 L756.02,134.75 L757.16,134.50 L758.23,134.25 L759.23,134.00 L760.15,133.75 L761.09,133.50 L762.04,133.25 L762.99,133.00 L763.93,132.75 L764.86,132.50 L765.77,132.25 L766.66,132.00 L767.51,131.75 L768.31,131.50 L769.07,131.25 L769.77,131.00 L770.40,130.75 L770.96,130.50 L771.44,130.25 L771.83,130.00 L772.12,129.75 L772.32,129.50 L772.40,129.25 L772.33,129.00 L772.07,128.75 L771.63,128.50 L771.03,128.25 L770.29,128.00 L769.42,127.75 L768.45,127.50 L767.39,127.25 L766.27,127.00 L765.10,126.75 L763.89,126.50 L762.68,126.25 L761.47,126.00 L760.29,125.75 L759.14,125.50 L757.91,125.25 L756.57,125.00 L755.14,124.75 L753.62,124.50 L752.03,124.25 L750.38,124.00 L748.66,123.75 L746.90,123.50 L745.10,123.25 L743.27,123.00 L741.43,122.75 L739.57,122.50 L737.71,122.25 L735.86,122.00 L734.03,121.75 L732.23,121.50 L730.46,121.25 L728.74,121.00 L727.07,120.75 L725.47,120.50 L723.94,120.25 L722.50,120.00 L721.20,119.75 L720.01,119.50 L718.75,119.25 L717.27,119.00 L715.45,118.75 L713.36,118.50 L711.08,118.25 L708.71,118.00 L706.32,117.75 L704.00,117.50 L701.85,117.25 L699.94,117.00 L698.36,116.75 L697.20,116.50 L696.29,116.25 L695.40,116.00 L694.53,115.75 L693.69,115.50 L692.89,115.25 L692.12,115.00 L691.39,114.75 L690.70,114.50 L690.05,114.25 L689.46,114.00 L688.92,113.75 L688.43,113.50 L688.01,113.25 L687.65,113.00 L687.35,112.75 L687.13,112.50 L686.98,112.25 L686.91,112.00 L686.91,111.75 L686.95,111.50 L687.02,111.25 L687.13,111.00 L687.26,110.75 L687.43,110.50 L687.62,110.25 L687.84,110.00 L688.07,109.75 L688.33,109.50 L688.61,109.25 L688.91,109.00 L689.22,108.75 L689.54,108.50 L689.88,108.25 L690.23,108.00 L690.58,107.75 L690.94,107.50 L691.30,107.25 L691.66,107.00 L692.03,106.75 L692.41,106.50 L692.84,106.25 L693.33,106.00 L693.86,105.75 L694.43,105.50 L695.04,105.25 L695.68,105.00 L696.36,104.75 L697.06,104.50 L697.79,104.25 L698.54,104.00 L699.30,103.75 L700.07,103.50 L700.85,103.25 L701.64,103.00 L702.42,102.75 L703.20,102.50 L703.98,102.25 L704.74,102.00 L705.49,101.75 L706.21,101.50 L706.92,101.25 L707.60,101.00 L708.27,100.75 L708.94,100.50 L709.62,100.25 L710.30,100.00 L710.99,99.75 L711.68,99.50 L712.37,99.25 L713.06,99.00 L713.75,98.75 L714.44,98.50 L715.13,98.25 L715.81,98.00 L716.49,97.75 L717.17,97.50 L717.84,97.25 L718.50,97.00 L719.16,96.75 L719.81,96.50 L720.45,96.25 L721.07,96.00 L721.69,95.75 L722.29,95.50 L722.89,95.25 L723.46,95.00 L724.03,94.75 L724.57,94.50 L725.10,94.25 L725.61,94.00 L726.09,93.75 L726.54,93.50 L726.98,93.25 L727.41,93.00 L727.83,92.75 L728.24,92.50 L728.66,92.25 L729.09,92.00 L729.54,91.75 L729.99,91.50 L730.48,91.25 L730.99,91.00 L731.53,90.75 L732.13,90.50 L732.77,90.25 L733.45,90.00 L734.17,89.75 L734.92,89.50 L735.68,89.25 L736.47,89.00 L737.26,88.75 L738.06,88.50 L738.86,88.25 L739.65,88.00 L740.42,87.75 L741.18,87.50 L741.91,87.25 L742.62,87.00 L743.28,86.75 L743.90,86.50 L744.48,86.25 L745.00,86.00 L745.46,85.75 L745.85,85.50 L746.24,85.25 L746.63,85.00 L747.02,84.75 L747.40,84.50 L747.78,84.25 L748.15,84.00 L748.51,83.75 L748.85,83.50 L749.18,83.25 L749.49,83.00 L749.79,82.75 L750.06,82.50 L750.31,82.25 L750.53,82.00 L750.73,81.75 L750.89,81.50 L751.02,81.25 L751.12,81.00 L751.18,80.75 L751.20,80.50 L751.18,80.25 L751.14,80.00 L751.06,79.75 L750.95,79.50 L750.82,79.25 L750.66,79.00 L750.47,78.75 L750.27,78.50 L750.04,78.25 L749.79,78.00 L749.53,77.75 L749.25,77.50 L748.95,77.25 L748.64,77.00 L748.32,76.75 L747.99,76.50 L747.65,76.25 L747.30,76.00 L746.95,75.75 L746.59,75.50 L746.23,75.25 L745.87,75.00 L745.51,74.75 L745.15,74.50 L744.80,74.25 L744.45,74.00 L744.10,73.75 L743.77,73.50 L743.42,73.25 L743.08,73.00 L742.72,72.75 L742.36,72.50 L741.98,72.25 L741.59,72.00 L741.19,71.75 L740.78,71.50 L740.35,71.25 L739.91,71.00 L739.44,70.75 L738.96,70.50 L738.46,70.25 L737.94,70.00 L737.40,69.75 L736.83,69.50 L736.22,69.25 L735.51,69.00 L734.70,68.75 L733.83,68.50 L732.92,68.25 L732.00,68.00 L731.09,67.75 L730.23,67.50 L729.43,67.25 L728.72,67.00 L728.05,66.75 L727.39,66.50 L726.75,66.25 L726.13,66.00 L725.52,65.75 L724.92,65.50 L724.34,65.25 L723.76,65.00 L723.20,64.75 L722.65,64.50 L722.10,64.25 L721.56,64.00 L721.03,63.75 L720.50,63.50 L719.97,63.25 L719.44,63.00 L718.92,62.75 L718.39,62.50 L717.87,62.25 L717.34,62.00 L716.81,61.75 L716.27,61.50 L715.72,61.25 L715.17,61.00 L714.61,60.75 L714.05,60.50 L713.48,60.25 L712.91,60.00 L712.35,59.75 L711.78,59.50 L711.21,59.25 L710.65,59.00 L710.08,58.75 L709.52,58.50 L708.95,58.25 L708.38,58.00 L707.82,57.75 L707.25,57.50 L706.68,57.25 L706.12,57.00 L705.55,56.75 L704.98,56.50 L704.42,56.25 L703.85,56.00 L703.29,55.75 L702.72,55.50 L702.15,55.25 L701.59,55.00 L701.02,54.75 L700.45,54.50 L699.89,54.25" stroke="#ff0000"/>
<path d="M139.52,572.00 L139.94,571.00 L140.45,570.00 L141.03,569.00 L141.66,568.00 L142.34,567.00 L143.05,566.00 L143.79,565.00 L144.56,564.00 L145.35,563.00 L146.16,562.00 L146.99,561.00 L147.83,560.00 L148.68,559.00 L149.55,558.00 L150.43,557.00 L151.32,556.00 L152.22,555.00 L153.12,554.00 L154.04,553.00 L154.96,552.00 L155.88,551.00 L156.82,550.00 L157.75,549.00 L158.69,548.00 L159.64,547.00 L160.59,546.00 L161.55,545.00 L162.50,544.00 L163.46,543.00 L164.43,542.00 L165.39,541.00 L166.36,540.00 L167.33,539.00 L168.30,538.00 L169.28,537.00 L170.25,536.00 L171.23,535.00 L172.21,534.00 L173.19,533.00 L174.17,532.00 L175.15,531.00 L176.13,530.00 L177.11,529.00 L178.10,528.00 L179.08,527.00 L180.06,526.00 L181.05,525.00 L182.03,524.00 L183.02,523.00 L184.00,522.00 L184.99,521.00 L185.98,520.00 L186.96,519.00 L187.95,518.00 L188.93,517.00 L189.92,516.00 L190.91,515.00 L191.89,514.00 L192.88,513.00 L193.86,512.00 L194.85,511.00 L195.83,510.00 L196.82,509.00 L197.80,508.00 L198.78,507.00 L199.77,506.00 L200.75,505.00 L201.73,504.00 L202.72,503.00 L203.70,502.00 L204.68,501.00 L205.66,500.00 L206.64,499.00 L207.62,498.00 L208.60,497.00 L209.58,496.00 L210.56,495.00 L211.54,494.00 L212.52,493.00 L213.50,492.00 L214.47,491.00 L215.45,490.00 L216.43,489.00 L217.40,488.00 L218.38,487.00 L219.36,486.00 L220.33,485.00 L221.31,484.00 L222.28,483.00 L223.25,482.00 L224.23,481.00 L225.20,480.00 L226.17,479.00 L227.15,478.00 L228.12,477.00 L229.09,476.00 L230.06,475.00 L231.03,474.00 L232.00,473.00 L232.97,472.00 L233.94,471.00 L234.91,470.00 L235.88,469.00 L236.85,468.00 L237.82,467.00 L238.79,466.00 L239.76,465.00 L240.72,464.00 L241.69,463.00 L242.66,462.00 L243.63,461.00 L244.59,460.00 L245.56,459.00 L246.53,458.00 L247.50,457.00 L248.46,456.00 L249.43,455.00 L250.39,454.00 L251.36,453.00 L252.33,452.00 L253.29,451.00 L254.26,450.00 L255.22,449.00 L256.19,448.00 L257.16,447.00 L258.12,446.00 L259.09,445.00 L260.05,444.00 L261.02,443.00 L261.99,442.00 L262.95,441.00 L263.92,440.00 L264.88,439.00 L265.85,438.00 L266.82,437.00 L267.78,436.00 L268.75,435.00 L269.72,434.00 L270.68,433.00 L271.65,432.00 L272.62,431.00 L273.59,430.00 L274.55,429.00 L275.52,428.00 L276.49,427.00 L277.46,426.00 L278.43,425.00 L279.40,424.00 L280.37,423.00 L281.34,422.00 L282.31,421.00 L283.28,420.00 L284.25,419.00 L285.23,418.00 L286.20,417.00 L287.17,416.00 L288.14,415.00 L289.12,414.00 L290.09,413.00 L291.07,412.00 L292.04,411.00 L293.02,410.00 L294.00,409.00 L294.97,408.00 L295.95,407.00 L296.93,406.00 L297.91,405.00 L298.89,404.00 L299.87,403.00 L300.85,402.00 L301.84,401.00 L302.82,400.00 L303.80,399.00 L304.79,398.00 L305.78,397.00 L306.76,396.00 L307.75,395.00 L308.74,394.00 L309.73,393.00 L310.72,392.00 L311.71,391.00 L312.70,390.00 L313.70,389.00 L314.69,388.00 L315.69,387.00 L316.68,386.00 L317.68,385.00 L318.68,384.00 L319.68,383.00 L320.68,382.00 L321.68,381.00 L322.69,380.00 L323.69,379.00 L324.70,378.00 L325.70,377.00 L326.71,376.00 L327.72,375.00 L328.73,374.00 L329.75,373.00 L330.76,372.00 L331.78,371.00 L332.79,370.00 L333.81,369.00 L334.83,368.00 L335.85,367.00 L336.87,366.00 L337.90,365.00 L338.93,364.00 L339.95,363.00 L340.98,362.00 L342.01,361.00 L343.05,360.00 L344.08,359.00 L345.12,358.00 L346.15,357.00 L347.19,356.00 L348.23,355.00 L349.28,354.00 L350.32,353.00 L351.37,352.00 L352.42,351.00 L353.47,350.00 L354.52,349.00 L355.58,348.00 L356.63,347.00 L357.69,346.00 L358.75,345.00 L359.82,344.00 L360.88,343.00 L361.95,342.00 L363.02,341.00 L364.09,340.00 L365.16,339.00 L366.24,338.00 L367.32,337.00 L368.40,336.00 L369.48,335.00 L370.56,334.00 L371.65,333.00 L372.74,332.00 L373.83,331.00 L374.93,330.00 L376.03,329.00 L377.13,328.00 L378.23,327.00 L379.33,326.00 L380.44,325.00 L381.55,324.00 L382.66,323.00 L383.78,322.00 L384.90,321.00 L386.02,320.00 L387.14,319.00 L388.27,318.00 L389.40,317.00 L390.53,316.00 L391.67,315.00 L392.81,314.00 L393.95,313.00 L395.09,312.00 L396.24,311.00 L397.39,310.00 L398.54,309.00 L399.70,308.00 L400.86,307.00 L402.02,306.00 L403.19,305.00 L404.36,304.00 L405.53,303.00 L406.71,302.00 L407.89,301.00 L409.07,300.00 L410.26,299.00 L411.44,298.00 L412.64,297.00 L413.83,296.00 L415.04,295.00 L416.24,294.00 L417.45,293.00 L418.66,292.00 L419.88,291.00 L421.10,290.00 L422.32,289.00 L423.55,288.00 L424.78,287.00 L426.02,286.00 L427.26,285.00 L428.51,284.00 L429.76,283.00 L431.02,282.00 L432.28,281.00 L433.54,280.00 L434.82,279.00 L436.09,278.00 L437.37,277.00 L438.65,276.00 L439.94,275.00 L441.23,274.00 L442.53,273.00 L443.83,272.00 L445.14,271.00 L446.44,270.00 L447.76,269.00 L449.07,268.00 L450.39,267.00 L451.72,266.00 L453.04,265.00 L454.37,264.00 L455.70,263.00 L457.04,262.00 L458.37,261.00 L459.72,260.00 L461.06,259.00 L462.40,258.00 L463.75,257.00 L465.10,256.00 L466.45,255.00 L467.81,254.00 L469.17,253.00 L470.53,252.00 L471.89,251.00 L473.26,250.00 L474.63,249.00 L476.00,248.00 L477.38,247.00 L478.76,246.00 L480.14,245.00 L481.53,244.00 L482.92,243.00 L484.32,242.00 L485.72,241.00 L487.13,240.00 L487.48,239.75 L487.83,239.50 L488.18,239.25 L488.54,239.00 L488.89,238.75 L489.24,238.50 L489.60,238.25 L489.95,238.00 L490.30,237.75 L490.66,237.50 L491.01,237.25 L491.37,237.00 L491.72,236.75 L492.08,236.50 L492.44,236.25 L492.79,236.00 L493.15,235.75 L493.51,235.50 L493.86,235.25 L494.22,235.00 L494.58,234.75 L494.94,234.50 L495.29,234.25 L495.65,234.00 L496.01,233.75 L496.37,233.50 L496.73,233.25 L497.09,233.00 L497.45,232.75 L497.81,232.50 L498.18,232.25 L498.54,232.00 L498.90,231.75 L499.26,231.50 L499.62,231.25 L499.99,231.00 L500.35,230.75 L500.71,230.50 L501.08,230.25 L501.44,230.00 L501.81,229.75 L502.17,229.50 L502.54,229.25 L502.90,229.00 L503.27,228.75 L503.64,228.50 L504.00,228.25 L504.37,228.00 L504.74,227.75 L505.11,227.50 L505.48,227.25 L505.84,227.00 L506.21,226.75 L506.58,226.50 L506.95,226.25 L507.32,226.00 L507.70,225.75 L508.07,225.50 L508.44,225.25 L508.81,225.00 L509.18,224.75 L509.56,224.50 L509.93,224.25 L510.30,224.00 L510.68,223.75 L511.05,223.50 L511.43,223.25 L511.80,223.00 L512.18,222.75 L512.55,222.50 L512.93,222.25 L513.31,222.00 L513.68,221.75 L514.06,221.50 L514.44,221.25 L514.82,221.00 L515.20,220.75 L515.58,220.50 L515.96,220.25 L516.34,220.00 L516.72,219.75 L517.10,219.50 L517.48,219.25 L517.87,219.00 L518.25,218.75 L518.63,218.50 L519.01,218.25 L519.40,218.00 L519.78,217.75 L520.17,217.50 L520.55,217.25 L520.94,217.00 L521.33,216.75 L521.71,216.50 L522.10,216.25 L522.49,216.00 L522.88,215.75 L523.27,215.50 L523.65,215.25 L524.04,215.00 L524.43,214.75 L524.83,214.50 L525.22,214.25 L525.61,214.00 L526.00,213.75 L526.39,213.50 L526.79,213.25 L527.18,213.00 L527.57,212.75 L527.97,212.50 L528.36,212.25 L528.76,212.00 L529.16,211.75 L529.55,211.50 L529.95,211.25 L530.35,211.00 L530.75,210.75 L531.14,210.50 L531.54,210.25 L531.94,210.00 L532.34,209.75 L532.74,209.50 L533.15,209.25 L533.55,209.00 L533.95,208.75 L534.35,208.50 L534.76,208.25 L535.16,208.00 L535.57,207.75 L535.97,207.50 L536.38,207.25 L536.78,207.00 L537.19,206.75 L537.60,206.50 L538.00,206.25 L538.41,206.00 L538.82,205.75 L539.23,205.50 L539.64,205.25 L540.05,205.00 L540.46,204.75 L540.87,204.50 L541.29,204.25 L541.70,204.00 L542.11,203.75 L542.53,203.50 L542.94,203.25 L543.36,203.00 L543.77,202.75 L544.19,202.50 L544.61,202.25 L545.02,202.00 L545.44,201.75 L545.86,201.50 L546.28,201.25 L546.70,201.00 L547.12,200.75 L547.54,200.50 L547.96,200.25 L548.39,200.00 L548.81,199.75 L549.23,199.50 L549.66,199.25 L550.08,199.00 L550.51,198.75 L550.93,198.50 L551.36,198.25 L551.79,198.00 L552.21,197.75 L552.64,197.50 L553.07,197.25 L553.50,197.00 L553.93,196.75 L554.36,196.50 L554.79,196.25 L555.23,196.00 L555.66,195.75 L556.09,195.50 L556.53,195.25 L556.96,195.00 L557.40,194.75 L557.83,194.50 L558.27,194.25 L558.71,194.00 L559.15,193.75 L559.58,193.50 L560.02,193.25 L560.46,193.00 L560.90,192.75 L561.35,192.50 L561.79,192.25 L562.23,192.00 L562.67,191.75 L563.12,191.50 L563.56,191.25 L564.01,191.00 L564.45,190.75 L564.90,190.50 L565.35,190.25 L565.80,190.00 L566.24,189.75 L566.69,189.50 L567.14,189.25 L567.59,189.00 L568.05,188.75 L568.50,188.50 L568.95,188.25 L569.41,188.00 L569.86,187.75 L570.31,187.50 L570.77,187.25 L571.23,187.00 L571.68,186.75 L572.14,186.50 L572.60,186.25 L573.06,186.00 L573.52,185.75 L573.98,185.50 L574.44,185.25 L574.90,185.00 L575.37,184.75 L575.83,184.50 L576.29,184.25 L576.76,184.00 L577.23,183.75 L577.69,183.50 L578.16,183.25 L578.63,183.00 L579.10,182.75 L579.57,182.50 L580.04,182.25 L580.51,182.00 L580.98,181.75 L581.45,181.50 L581.92,181.25 L582.40,181.00 L582.87,180.75 L583.35,180.50 L583.83,180.25 L584.30,180.00 L584.78,179.75 L585.26,179.50 L585.74,179.25 L586.22,179.00 L586.70,178.75 L587.18,178.50 L587.66,178.25 L588.15,178.00 L588.63,177.75 L589.12,177.50 L589.60,177.25 L590.09,177.00 L590.57,176.75 L591.06,176.50 L591.55,176.25 L592.04,176.00 L592.53,175.75 L593.02,175.50 L593.51,175.25 L594.01,175.00 L594.50,174.75 L595.00,174.50 L595.49,174.25 L595.99,174.00 L596.48,173.75 L596.98,173.50 L597.48,173.25 L597.98,173.00 L598.48,172.75 L598.98,172.50 L599.48,172.25 L599.98,172.00 L600.49,171.75 L600.99,171.50 L601.50,171.25 L602.00,171.00 L602.51,170.75 L603.02,170.50 L603.53,170.25 L604.04,170.00 L604.55,169.75 L605.06,169.50 L605.57,169.25 L606.08,169.00 L606.59,168.75 L607.11,168.50 L607.62,168.25 L608.14,168.00 L608.66,167.75 L609.18,167.50 L609.69,167.25 L610.21,167.00 L610.73,166.75 L611.26,166.50 L611.78,166.25 L612.30,166.00 L612.82,165.75 L613.35,165.50 L613.88,165.25 L614.40,165.00 L614.93,164.75 L615.46,164.50 L615.99,164.25 L616.53,164.00 L617.07,163.75 L617.60,163.50 L618.14,163.25 L618.69,163.00 L619.23,162.75 L619.78,162.50 L620.33,162.25 L620.89,162.00 L621.45,161.75 L622.01,161.50 L622.58,161.25 L623.14,161.00 L623.72,160.75 L624.30,160.50 L624.88,160.25 L625.46,160.00 L626.05,159.75 L626.65,159.50 L627.25,159.25 L627.86,159.00 L628.47,158.75 L629.08,158.50 L629.70,158.25 L630.33,158.00 L630.96,157.75 L631.60,157.50 L632.25,157.25 L632.90,157.00 L633.56,156.75 L634.22,156.50 L634.89,156.25 L635.57,156.00 L636.26,155.75 L636.95,155.50 L637.65,155.25 L638.36,155.00 L639.07,154.75 L639.79,154.50 L640.53,154.25 L641.26,154.00 L642.01,153.75 L642.77,153.50 L643.53,153.25 L644.31,153.00 L645.09,152.75 L645.88,152.50 L646.68,152.25 L647.49,152.00 L648.31,151.75 L649.14,151.50 L649.98,151.25 L650.83,151.00 L651.69,150.75 L652.56,150.50 L653.44,150.25 L654.34,150.00 L655.24,149.75 L656.17,149.50 L657.11,149.25 L658.06,149.00 L659.03,148.75 L660.02,148.50 L661.01,148.25 L662.02,148.00 L663.03,147.75 L664.05,147.50 L665.08,147.25 L666.11,147.00 L667.14,146.75 L668.17,146.50 L669.21,146.25 L670.24,146.00 L671.28,145.75 L672.32,145.50 L673.36,145.25 L674.40,145.00 L675.45,144.75 L676.50,144.50 L677.56,144.25 L678.64,144.00 L679.72,143.75 L680.83,143.50 L681.96,143.25 L683.12,143.00 L684.31,142.75 L685.53,142.50 L686.79,142.25 L688.07,142.00 L689.39,141.75 L690.74,141.50 L692.12,141.25 L693.53,141.00 L694.96,140.75 L696.42,140.50 L697.90,140.25 L699.40,140.00 L700.93,139.75 L702.56,139.50 L704.26,139.25 L705.96,139.00 L707.63,138.75 L709.23,138.50 L710.82,138.25 L712.41,138.00 L714.01,137.75 L715.60,137.50 L717.19,137.25 L718.77,137.00 L720.34,136.75 L721.90,136.50 L723.44,136.25 L724.96,136.00 L726.45,135.75 L727.92,135.50 L729.35,135.25 L730.75,135.00 L732.11,134.75 L733.43,134.50 L734.70,134.25 L735.92,134.00 L737.12,133.75 L738.35,133.50 L739.63,133.25 L740.94,133.00 L742.26,132.75 L743.58,132.50 L744.88,132.25 L746.17,132.00 L747.41,131.75 L748.60,131.50 L749.73,131.25 L750.77,131.00 L751.73,130.75 L752.58,130.50 L753.31,130.25 L753.91,130.00 L754.37,129.75 L754.67,129.50 L754.80,129.25 L754.73,129.00 L754.46,128.75 L754.01,128.50 L753.39,128.25 L752.63,128.00 L751.74,127.75 L750.76,127.50 L749.69,127.25 L748.55,127.00 L747.38,126.75 L746.18,126.50 L744.98,126.25 L743.80,126.00 L742.66,125.75 L741.57,125.50 L740.46,125.25 L739.32,125.00 L738.15,124.75 L736.95,124.50 L735.72,124.25 L734.45,124.00 L733.16,123.75 L731.83,123.50 L730.48,123.25 L729.09,123.00 L727.68,122.75 L726.24,122.50 L724.77,122.25 L723.28,122.00 L721.75,121.75 L720.20,121.50 L718.63,121.25 L717.03,121.00 L715.40,120.75 L713.75,120.50 L712.07,120.25 L710.37,120.00 L708.65,119.75 L706.88,119.50 L704.89,119.25 L702.69,119.00 L700.32,118.75 L697.82,118.50 L695.25,118.25 L692.65,118.00 L690.07,117.75 L687.56,117.50 L685.17,117.25 L682.94,117.00 L680.92,116.75 L679.16,116.50 L677.70,116.25 L676.60,116.00 L675.70,115.75 L674.82,115.50 L673.96,115.25 L673.13,115.00 L672.34,114.75 L671.58,114.50 L670.87,114.25 L670.21,114.00 L669.61,113.75 L669.06,113.50 L668.58,113.25 L668.16,113.00 L667.83,112.75 L667.57,112.50 L667.39,112.25 L667.31,112.00 L667.30,111.75 L667.33,111.50 L667.37,111.25 L667.43,111.00 L667.51,110.75 L667.60,110.50 L667.71,110.25 L667.83,110.00 L667.97,109.75 L668.11,109.50 L668.27,109.25 L668.44,109.00 L668.61,108.75 L668.79,108.50 L668.98,108.25 L669.17,108.00 L669.36,107.75 L669.57,107.50 L669.82,107.25 L670.12,107.00 L670.45,106.75 L670.82,106.50 L671.22,106.25 L671.66,106.00 L672.13,105.75 L672.63,105.50 L673.15,105.25 L673.70,105.00 L674.27,104.75 L674.86,104.50 L675.48,104.25 L676.10,104.00 L676.74,103.75 L677.40,103.50 L678.06,103.25 L678.73,103.00 L679.40,102.75 L680.08,102.50 L680.77,102.25 L681.45,102.00 L682.13,101.75 L682.80,101.50 L683.49,101.25 L684.23,101.00 L685.01,100.75 L685.83,100.50 L686.68,100.25 L687.56,100.00 L688.46,99.75 L689.38,99.50 L690.32,99.25 L691.27,99.00 L692.23,98.75 L693.19,98.50 L694.15,98.25 L695.11,98.00 L696.06,97.75 L696.99,97.50 L697.91,97.25 L698.81,97.00 L699.68,96.75 L700.52,96.50 L701.33,96.25 L702.10,96.00 L702.84,95.75 L703.55,95.50 L704.26,95.25 L704.94,95.00 L705.62,94.75 L706.28,94.50 L706.94,94.25 L707.58,94.00 L708.21,93.75 L708.84,93.50 L709.46,93.25 L710.07,93.00 L710.68,92.75 L711.28,92.50 L711.88,92.25 L712.48,92.00 L713.07,91.75 L713.67,91.50 L714.26,91.25 L714.86,91.00 L715.46,90.75 L716.07,90.50 L716.69,90.25 L717.31,90.00 L717.93,89.75 L718.56,89.50 L719.18,89.25 L719.81,89.00 L720.43,88.75 L721.04,88.50 L721.64,88.25 L722.24,88.00 L722.82,87.75 L723.40,87.50 L723.95,87.25 L724.49,87.00 L725.01,86.75 L725.51,86.50 L725.98,86.25 L726.43,86.00 L726.86,85.75 L727.26,85.50 L727.66,85.25 L728.07,85.00 L728.48,84.75 L728.90,84.50 L729.31,84.25 L729.72,84.00 L730.12,83.75 L730.52,83.50 L730.90,83.25 L731.27,83.00 L731.62,82.75 L731.95,82.50 L732.26,82.25 L732.54,82.00 L732.80,81.75 L733.03,81.50 L733.22,81.25 L733.37,81.00 L733.49,80.75 L733.57,80.50 L733.60,80.25 L733.59,80.00 L733.56,79.75 L733.49,79.50 L733.41,79.25 L733.29,79.00 L733.16,78.75 L733.00,78.50 L732.83,78.25 L732.63,78.00 L732.42,77.75 L732.18,77.50 L731.93,77.25 L731.67,77.00 L731.39,76.75 L731.10,76.50 L730.79,76.25 L730.48,76.00 L730.15,75.75 L729.82,75.50 L729.47,75.25 L729.13,75.00 L728.77,74.75 L728.41,74.50 L728.05,74.25 L727.69,74.00 L727.32,73.75 L726.95,73.50 L726.52,73.25 L726.04,73.00 L725.50,72.75 L724.92,72.50 L724.30,72.25 L723.64,72.00 L722.96,71.75 L722.26,71.50 L721.55,71.25 L720.83,71.00 L720.11,70.75 L719.39,70.50 L718.69,70.25 L718.01,70.00 L717.36,69.75 L716.74,69.50 L716.15,69.25 L715.58,69.00 L715.02,68.75 L714.47,68.50 L713.93,68.25 L713.39,68.00 L712.84,67.75 L712.30,67.50 L711.74,67.25 L711.17,67.00 L710.60,66.75 L710.03,66.50 L709.45,66.25 L708.87,66.00 L708.29,65.75 L707.70,65.50 L707.11,65.25 L706.53,65.00 L705.93,64.75 L705.34,64.50 L704.75,64.25 L704.16,64.00 L703.56,63.75 L702.96,63.50 L702.37,63.25 L701.77,63.00 L701.17,62.75 L700.58,62.50 L699.98,62.25 L699.38,62.00 L698.79,61.75 L698.19,61.50 L697.60,61.25 L697.01,61.00 L696.42,60.75 L695.83,60.50 L695.24,60.25 L694.65,60.00 L694.06,59.75 L693.47,59.50 L692.88,59.25 L692.29,59.00 L691.70,58.75 L691.11,58.50 L690.52,58.25 L689.93,58.00 L689.34,57.75 L688.75,57.50 L688.16,57.25 L687.57,57.00 L686.98,56.75 L686.39,56.50 L685.80,56.25 L685.21,56.00 L684.62,55.75 L684.03,55.50 L683.44,55.25 L682.85,55.00 L682.26,54.75 L681.67,54.50 L681.08,54.25" stroke="#008000"/>
<path d="M166.97,480.00 L167.29,479.00 L167.62,478.00 L167.94,477.00 L168.27,476.00 L168.59,475.00 L168.91,474.00 L169.24,473.00 L169.56,472.00 L169.89,471.00 L170.21,470.00 L170.54,469.00 L170.86,468.00 L171.19,467.00 L171.51,466.00 L171.84,465.00 L172.16,464.00 L172.49,463.00 L172.81,462.00 L173.14,461.00 L173.46,460.00 L173.79,459.00 L174.11,458.00 L174.44,457.00 L174.76,456.00 L175.09,455.00 L175.41,454.00 L175.74,453.00 L176.06,452.00 L176.39,451.00 L176.71,450.00 L177.04,449.00 L177.36,448.00 L177.69,447.00 L178.01,446.00 L178.34,445.00 L178.66,444.00 L178.99,443.00 L179.31,442.00 L179.75,441.00 L180.37,440.00 L181.10,439.00 L181.92,438.00 L182.79,437.00 L183.71,436.00 L184.67,435.00 L185.66,434.00 L186.67,433.00 L187.71,432.00 L188.78,431.00 L189.85,430.00 L190.95,429.00 L192.05,428.00 L193.17,427.00 L194.30,426.00 L195.44,425.00 L196.58,424.00 L197.74,423.00 L198.90,422.00 L200.06,421.00 L201.24,420.00 L202.41,419.00 L203.59,418.00 L204.78,417.00 L205.97,416.00 L207.16,415.00 L208.36,414.00 L209.55,413.00 L210.75,412.00 L211.96,411.00 L213.16,410.00 L214.37,409.00 L215.58,408.00 L216.79,407.00 L218.00,406.00 L219.21,405.00 L220.43,404.00 L221.64,403.00 L222.86,402.00 L224.08,401.00 L225.30,400.00 L226.52,399.00 L227.74,398.00 L228.96,397.00 L230.18,396.00 L231.40,395.00 L232.62,394.00 L233.85,393.00 L235.07,392.00 L236.29,391.00 L237.52,390.00 L238.74,389.00 L239.97,388.00 L241.20,387.00 L242.42,386.00 L243.65,385.00 L244.88,384.00 L246.10,383.00 L247.33,382.00 L248.56,381.00 L249.79,380.00 L251.02,379.00 L252.25,378.00 L253.48,377.00 L254.71,376.00 L255.95,375.00 L257.18,374.00 L258.41,373.00 L259.64,372.00 L260.88,371.00 L262.11,370.00 L263.35,369.00 L264.58,368.00 L265.82,367.00 L267.06,366.00 L268.30,365.00 L269.53,364.00 L270.77,363.00 L272.01,362.00 L273.25,361.00 L274.50,360.00 L275.74,359.00 L276.98,358.00 L278.23,357.00 L279.47,356.00 L280.72,355.00 L281.97,354.00 L283.22,353.00 L284.46,352.00 L285.72,351.00 L286.97,350.00 L288.22,349.00 L289.47,348.00 L290.73,347.00 L291.99,346.00 L293.24,345.00 L294.50,344.00 L295.76,343.00 L297.02,342.00 L298.29,341.00 L299.55,340.00 L300.82,339.00 L302.09,338.00 L303.35,337.00 L304.63,336.00 L305.90,335.00 L307.17,334.00 L308.45,333.00 L309.72,332.00 L311.00,331.00 L312.28,330.00 L313.57,329.00 L314.85,328.00 L316.14,327.00 L317.43,326.00 L318.72,325.00 L320.01,324.00 L321.30,323.00 L322.60,322.00 L323.90,321.00 L325.20,320.00 L326.50,319.00 L327.80,318.00 L329.11,317.00 L330.42,316.00 L331.73,315.00 L333.04,314.00 L334.36,313.00 L335.68,312.00 L337.00,311.00 L338.32,310.00 L339.65,309.00 L340.98,308.00 L342.31,307.00 L343.64,306.00 L344.98,305.00 L346.32,304.00 L347.66,303.00 L349.01,302.00 L350.35,301.00 L351.70,300.00 L353.06,299.00 L354.41,298.00 L355.77,297.00 L357.14,296.00 L358.50,295.00 L359.87,294.00 L361.24,293.00 L362.62,292.00 L364.00,291.00 L365.38,290.00 L366.76,289.00 L368.15,288.00 L369.54,287.00 L370.94,286.00 L372.34,285.00 L373.74,284.00 L375.15,283.00 L376.56,282.00 L377.98,281.00 L379.39,280.00 L380.82,279.00 L382.24,278.00 L383.67,277.00 L385.11,276.00 L386.55,275.00 L387.99,274.00 L389.44,273.00 L390.89,272.00 L392.34,271.00 L393.80,270.00 L395.27,269.00 L396.74,268.00 L398.21,267.00 L399.68,266.00 L401.17,265.00 L402.65,264.00 L404.14,263.00 L405.63,262.00 L407.13,261.00 L408.63,260.00 L410.14,259.00 L411.65,258.00 L413.17,257.00 L414.69,256.00 L416.21,255.00 L417.74,254.00 L419.27,253.00 L420.81,252.00 L422.35,251.00 L423.90,250.00 L425.45,249.00 L427.00,248.00 L428.56,247.00 L430.13,246.00 L431.70,245.00 L433.27,244.00 L434.85,243.00 L436.44,242.00 L438.02,241.00 L439.62,240.00 L440.02,239.75 L440.42,239.50 L440.82,239.25 L441.22,239.00 L441.62,238.75 L442.02,238.50 L442.42,238.25 L442.82,238.00 L443.22,237.75 L443.62,237.50 L444.02,237.25 L444.43,237.00 L444.83,236.75 L445.23,236.50 L445.64,236.25 L446.04,236.00 L446.44,235.75 L446.85,235.50 L447.25,235.25 L447.66,235.00 L448.06,234.75 L448.47,234.50 L448.87,234.25 L449.28,234.00 L449.69,233.75 L450.09,233.50 L450.50,233.25 L450.91,233.00 L451.31,232.75 L451.72,232.50 L452.13,232.25 L452.54,232.00 L452.95,231.75 L453.36,231.50 L453.77,231.25 L454.18,231.00 L454.59,230.75 L455.00,230.50 L455.41,230.25 L455.82,230.00 L456.23,229.75 L456.64,229.50 L457.05,229.25 L457.46,229.00 L457.88,228.75 L458.29,228.50 L458.70,228.25 L459.12,228.00 L459.53,227.75 L459.94,227.50 L460.36,227.25 L460.77,227.00 L461.19,226.75 L461.60,226.50 L462.02,226.25 L462.44,226.00 L462.85,225.75 L463.27,225.50 L463.69,225.25 L464.10,225.00 L464.52,224.75 L464.94,224.50 L465.36,224.25 L465.77,224.00 L466.19,223.75 L466.61,223.50 L467.03,223.25 L467.45,223.00 L467.87,222.75 L468.29,222.50 L468.71,222.25 L469.13,222.00 L469.55,221.75 L469.98,221.50 L470.40,221.25 L470.82,221.00 L471.24,220.75 L471.67,220.50 L472.09,220.25 L472.51,220.00 L472.94,219.75 L473.36,219.50 L473.79,219.25 L474.21,219.00 L474.64,218.75 L475.06,218.50 L475.49,218.25 L475.91,218.00 L476.34,217.75 L476.77,217.50 L477.19,217.25 L477.62,217.00 L478.05,216.75 L478.48,216.50 L478.90,216.25 L479.33,216.00 L479.76,215.75 L480.19,215.50 L480.62,215.25 L481.05,215.00 L481.48,214.75 L481.91,214.50 L482.34,214.25 L482.77,214.00 L483.21,213.75 L483.64,213.50 L484.07,213.25 L484.50,213.00 L484.94,212.75 L485.37,212.50 L485.80,212.25 L486.24,212.00 L486.67,211.75 L487.10,211.50 L487.54,211.25 L487.97,211.00 L488.41,210.75 L488.85,210.50 L489.28,210.25 L489.72,210.00 L490.16,209.75 L490.59,209.50 L491.03,209.25 L491.47,209.00 L491.91,208.75 L492.34,208.50 L492.78,208.25 L493.22,208.00 L493.66,207.75 L494.10,207.50 L494.54,207.25 L494.98,207.00 L495.42,206.75 L495.86,206.50 L496.31,206.25 L496.75,206.00 L497.19,205.75 L497.63,205.50 L498.08,205.25 L498.52,205.00 L498.96,204.75 L499.41,204.50 L499.85,204.25 L500.29,204.00 L500.74,203.75 L501.18,203.50 L501.63,203.25 L502.08,203.00 L502.52,202.75 L502.97,202.50 L503.42,202.25 L503.86,202.00 L504.31,201.75 L504.76,201.50 L505.21,201.25 L505.66,201.00 L506.10,200.75 L506.55,200.50 L507.00,200.25 L507.45,200.00 L507.90,199.75 L508.35,199.50 L508.80,199.25 L509.26,199.00 L509.71,198.75 L510.16,198.50 L510.61,198.25 L511.06,198.00 L511.52,197.75 L511.97,197.50 L512.42,197.25 L512.88,197.00 L513.33,196.75 L513.79,196.50 L514.24,196.25 L514.70,196.00 L515.15,195.75 L515.61,195.50 L516.07,195.25 L516.52,195.00 L516.98,194.75 L517.44,194.50 L517.90,194.25 L518.35,194.00 L518.81,193.75 L519.27,193.50 L519.73,193.25 L520.19,193.00 L520.65,192.75 L521.11,192.50 L521.57,192.25 L522.03,192.00 L522.49,191.75 L522.95,191.50 L523.42,191.25 L523.88,191.00 L524.34,190.75 L524.80,190.50 L525.27,190.25 L525.73,190.00 L526.20,189.75 L526.66,189.50 L527.12,189.25 L527.59,189.00 L528.06,188.75 L528.52,188.50 L528.99,188.25 L529.45,188.00 L529.92,187.75 L530.39,187.50 L530.86,187.25 L531.32,187.00 L531.79,186.75 L532.26,186.50 L532.73,186.25 L533.20,186.00 L533.67,185.75 L534.14,185.50 L534.61,185.25 L535.08,185.00 L535.55,184.75 L536.02,184.50 L536.49,184.25 L536.97,184.00 L537.44,183.75 L537.91,183.50 L538.39,183.25 L538.86,183.00 L539.33,182.75 L539.81,182.50 L540.28,182.25 L540.76,182.00 L541.23,181.75 L541.71,181.50 L542.18,181.25 L542.66,181.00 L543.14,180.75 L543.61,180.50 L544.09,180.25 L544.57,180.00 L545.05,179.75 L545.53,179.50 L546.01,179.25 L546.49,179.00 L546.97,178.75 L547.45,178.50 L547.93,178.25 L548.41,178.00 L548.89,177.75 L549.37,177.50 L549.85,177.25 L550.33,177.00 L550.82,176.75 L551.30,176.50 L551.78,176.25 L552.27,176.00 L552.75,175.75 L553.24,175.50 L553.72,175.25 L554.21,175.00 L554.69,174.75 L555.18,174.50 L555.66,174.25 L556.15,174.00 L556.64,173.75 L557.12,173.50 L557.61,173.25 L558.10,173.00 L558.59,172.75 L559.08,172.50 L559.57,172.25 L560.06,172.00 L560.55,171.75 L561.04,171.50 L561.53,171.25 L562.02,171.00 L562.51,170.75 L563.00,170.50 L563.50,170.25 L563.99,170.00 L564.49,169.75 L564.98,169.50 L565.48,169.25 L565.98,169.00 L566.48,168.75 L566.99,168.50 L567.49,168.25 L568.00,168.00 L568.51,167.75 L569.02,167.50 L569.54,167.25 L570.05,167.00 L570.57,166.75 L571.10,166.50 L571.62,166.25 L572.15,166.00 L572.68,165.75 L573.22,165.50 L573.76,165.25 L574.30,165.00 L574.84,164.75 L575.39,164.50 L575.95,164.25 L576.51,164.00 L577.07,163.75 L577.64,163.50 L578.21,163.25 L578.78,163.00 L579.37,162.75 L579.95,162.50 L580.54,162.25 L581.14,162.00 L581.74,161.75 L582.35,161.50 L582.96,161.25 L583.58,161.00 L584.20,160.75 L584.83,160.50 L585.47,160.25 L586.11,160.00 L586.76,159.75 L587.42,159.50 L588.08,159.25 L588.75,159.00 L589.42,158.75 L590.11,158.50 L590.80,158.25 L591.50,158.00 L592.20,157.75 L592.91,157.50 L593.63,157.25 L594.36,157.00 L595.10,156.75 L595.84,156.50 L596.59,156.25 L597.35,156.00 L598.12,155.75 L598.90,155.50 L599.69,155.25 L600.48,155.00 L601.29,154.75 L602.10,154.50 L602.92,154.25 L603.75,154.00 L604.59,153.75 L605.45,153.50 L606.31,153.25 L607.18,153.00 L608.06,152.75 L608.95,152.50 L609.85,152.25 L610.76,152.00 L611.68,151.75 L612.62,151.50 L613.56,151.25 L614.52,151.00 L615.48,150.75 L616.46,150.50 L617.45,150.25 L618.45,150.00 L619.46,149.75 L620.49,149.50 L621.53,149.25 L622.58,149.00 L623.63,148.75 L624.70,148.50 L625.78,148.25 L626.86,148.00 L627.94,147.75 L629.03,147.50 L630.12,147.25 L631.22,147.00 L632.32,146.75 L633.42,146.50 L634.52,146.25 L635.63,146.00 L636.74,145.75 L637.85,145.50 L638.97,145.25 L640.09,145.00 L641.21,144.75 L642.35,144.50 L643.49,144.25 L644.64,144.00 L645.80,143.75 L646.97,143.50 L648.16,143.25 L649.36,143.00 L650.58,142.75 L651.82,142.50 L653.08,142.25 L654.36,142.00 L655.67,141.75 L657.01,141.50 L658.37,141.25 L659.77,141.00 L661.21,140.75 L662.71,140.50 L664.25,140.25 L665.85,140.00 L667.49,139.75 L669.17,139.50 L670.88,139.25 L672.64,139.00 L674.42,138.75 L676.25,138.50 L678.11,138.25 L680.00,138.00 L682.05,137.75 L684.31,137.50 L686.72,137.25 L689.19,137.00 L691.65,136.75 L694.01,136.50 L696.19,136.25 L698.12,136.00 L699.73,135.75 L701.06,135.50 L702.38,135.25 L703.68,135.00 L704.97,134.75 L706.25,134.50 L707.50,134.25 L708.73,134.00 L709.94,133.75 L711.11,133.50 L712.25,133.25 L713.36,133.00 L714.42,132.75 L715.45,132.50 L716.43,132.25 L717.36,132.00 L718.24,131.75 L719.07,131.50 L719.84,131.25 L720.54,131.00 L721.19,130.75 L721.77,130.50 L722.28,130.25 L722.71,130.00 L723.07,129.75 L723.36,129.50 L723.56,129.25 L723.67,129.00 L723.69,128.75 L723.51,128.50 L723.08,128.25 L722.42,128.00 L721.55,127.75 L720.49,127.50 L719.26,127.25 L717.88,127.00 L716.36,126.75 L714.73,126.50 L713.00,126.25 L711.19,126.00 L709.33,125.75 L707.43,125.50 L705.51,125.25 L703.58,125.00 L701.68,124.75 L699.81,124.50 L698.00,124.25 L696.26,124.00 L694.62,123.75 L693.04,123.50 L691.43,123.25 L689.80,123.00 L688.15,122.75 L686.48,122.50 L684.79,122.25 L683.08,122.00 L681.36,121.75 L679.63,121.50 L677.89,121.25 L676.14,121.00 L674.38,120.75 L672.62,120.50 L670.86,120.25 L669.11,120.00 L667.35,119.75 L665.59,119.50 L663.71,119.25 L661.73,119.00 L659.66,118.75 L657.54,118.50 L655.41,118.25 L653.29,118.00 L651.21,117.75 L649.21,117.50 L647.31,117.25 L645.55,117.00 L643.96,116.75 L642.57,116.50 L641.40,116.25 L640.50,116.00 L639.75,115.75 L639.01,115.50 L638.29,115.25 L637.59,115.00 L636.93,114.75 L636.30,114.50 L635.70,114.25 L635.14,114.00 L634.64,113.75 L634.18,113.50 L633.77,113.25 L633.43,113.00 L633.14,112.75 L632.92,112.50 L632.78,112.25 L632.71,112.00 L632.70,111.75 L632.73,111.50 L632.78,111.25 L632.85,111.00 L632.94,110.75 L633.06,110.50 L633.19,110.25 L633.34,110.00 L633.50,109.75 L633.68,109.50 L633.87,109.25 L634.08,109.00 L634.30,108.75 L634.53,108.50 L634.77,108.25 L635.02,108.00 L635.27,107.75 L635.53,107.50 L635.80,107.25 L636.07,107.00 L636.34,106.75 L636.64,106.50 L636.98,106.25 L637.38,106.00 L637.82,105.75 L638.31,105.50 L638.84,105.25 L639.41,105.00 L640.01,104.75 L640.64,104.50 L641.29,104.25 L641.97,104.00 L642.68,103.75 L643.40,103.50 L644.13,103.25 L644.87,103.00 L645.62,102.75 L646.38,102.50 L647.13,102.25 L647.88,102.00 L648.63,101.75 L649.37,101.50 L650.09,101.25 L650.80,101.00 L651.51,100.75 L652.22,100.50 L652.95,100.25 L653.69,100.00 L654.44,99.75 L655.20,99.50 L655.97,99.25 L656.75,99.00 L657.53,98.75 L658.32,98.50 L659.11,98.25 L659.91,98.00 L660.71,97.75 L661.52,97.50 L662.33,97.25 L663.14,97.00 L663.95,96.75 L664.76,96.50 L665.57,96.25 L666.37,96.00 L667.18,95.75 L667.98,95.50 L668.78,95.25 L669.60,95.00 L670.43,94.75 L671.27,94.50 L672.12,94.25 L672.98,94.00 L673.84,93.75 L674.71,93.50 L675.58,93.25 L676.44,93.00 L677.31,92.75 L678.17,92.50 L679.03,92.25 L679.87,92.00 L680.71,91.75 L681.53,91.50 L682.34,91.25 L683.13,91.00 L683.90,90.75 L684.66,90.50 L685.38,90.25 L686.09,90.00 L686.77,89.75 L687.42,89.50 L688.08,89.25 L688.72,89.00 L689.35,88.75 L689.98,88.50 L690.59,88.25 L691.20,88.00 L691.78,87.75 L692.36,87.50 L692.92,87.25 L693.46,87.00 L693.98,86.75 L694.48,86.50 L694.96,86.25 L695.42,86.00 L695.85,85.75 L696.26,85.50 L696.68,85.25 L697.10,85.00 L697.53,84.75 L697.97,84.50 L698.39,84.25 L698.82,84.00 L699.24,83.75 L699.64,83.50 L700.04,83.25 L700.41,83.00 L700.76,82.75 L701.09,82.50 L701.40,82.25 L701.67,82.00 L701.91,81.75 L702.11,81.50 L702.28,81.25 L702.40,81.00 L702.47,80.75 L702.50,80.50 L702.48,80.25 L702.42,80.00 L702.33,79.75 L702.20,79.50 L702.04,79.25 L701.84,79.00 L701.61,78.75 L701.36,78.50 L701.07,78.25 L700.76,78.00 L700.42,77.75 L700.06,77.50 L699.68,77.25 L699.27,77.00 L698.85,76.75 L698.41,76.50 L697.95,76.25 L697.47,76.00 L696.98,75.75 L696.48,75.50 L695.97,75.25 L695.45,75.00 L694.92,74.75 L694.38,74.50 L693.84,74.25 L693.29,74.00 L692.74,73.75 L692.19,73.50 L691.64,73.25 L691.09,73.00 L690.54,72.75 L690.00,72.50 L689.47,72.25 L688.94,72.00 L688.42,71.75 L687.91,71.50 L687.41,71.25 L686.93,71.00 L686.46,70.75 L686.00,70.50 L685.55,70.25 L685.10,70.00 L684.65,69.75 L684.19,69.50 L683.73,69.25 L683.27,69.00 L682.80,68.75 L682.33,68.50 L681.85,68.25 L681.37,68.00 L680.89,67.75 L680.41,67.50 L679.91,67.25 L679.42,67.00 L678.92,66.75 L678.42,66.50 L677.91,66.25 L677.39,66.00 L676.87,65.75 L676.34,65.50 L675.81,65.25 L675.26,65.00 L674.72,64.75 L674.16,64.50 L673.60,64.25 L673.04,64.00 L672.47,63.75 L671.90,63.50 L671.33,63.25 L670.76,63.00 L670.18,62.75 L669.61,62.50 L669.03,62.25 L668.46,62.00 L667.88,61.75 L667.31,61.50 L666.74,61.25 L666.18,61.00 L665.61,60.75 L665.05,60.50 L664.49,60.25 L663.93,60.00 L663.37,59.75 L662.81,59.50 L662.25,59.25 L661.69,59.00 L661.13,58.75 L660.57,58.50 L660.01,58.25 L659.45,58.00 L658.89,57.75 L658.33,57.50 L657.77,57.25 L657.21,57.00 L656.65,56.75 L656.09,56.50 L655.53,56.25 L654.97,56.00 L654.41,55.75 L653.85,55.50 L653.29,55.25 L652.73,55.00 L652.17,54.75 L651.61,54.50 L651.05,54.25" stroke="#ff00ff"/>
</g>
<defs><clipPath id="cg"><path d="M96.00,58.50 L296.63,58.50 L120.05,636.50 L96.00,636.50 Z"/></clipPath></defs>
<path d="M96.00,58.50 L296.63,58.50 L120.05,636.50 L96.00,636.50 Z" fill="#c2c2c2"/>
<path clip-path="url(#cg)" d="M-604.00,-970.10 L896.00,529.90 M-604.00,-949.60 L896.00,550.40 M-604.00,-929.10 L896.00,570.90 M-604.00,-908.60 L896.00,591.40 M-604.00,-888.10 L896.00,611.90 M-604.00,-867.60 L896.00,632.40 M-604.00,-847.10 L896.00,652.90 M-604.00,-826.60 L896.00,673.40 M-604.00,-806.10 L896.00,693.90 M-604.00,-785.60 L896.00,714.40 M-604.00,-765.10 L896.00,734.90 M-604.00,-744.60 L896.00,755.40 M-604.00,-724.10 L896.00,775.90 M-604.00,-703.60 L896.00,796.40 M-604.00,-683.10 L896.00,816.90 M-604.00,-662.60 L896.00,837.40 M-604.00,-642.10 L896.00,857.90 M-604.00,-621.60 L896.00,878.40 M-604.00,-601.10 L896.00,898.90 M-604.00,-580.60 L896.00,919.40 M-604.00,-560.10 L896.00,939.90 M-604.00,-539.60 L896.00,960.40 M-604.00,-519.10 L896.00,980.90 M-604.00,-498.60 L896.00,1001.40 M-604.00,-478.10 L896.00,1021.90 M-604.00,-457.60 L896.00,1042.40 M-604.00,-437.10 L896.00,1062.90 M-604.00,-416.60 L896.00,1083.40 M-604.00,-396.10 L896.00,1103.90 M-604.00,-375.60 L896.00,1124.40 M-604.00,-355.10 L896.00,1144.90 M-604.00,-334.60 L896.00,1165.40 M-604.00,-314.10 L896.00,1185.90 M-604.00,-293.60 L896.00,1206.40 M-604.00,-273.10 L896.00,1226.90 M-604.00,-252.60 L896.00,1247.40 M-604.00,-232.10 L896.00,1267.90 M-604.00,-211.60 L896.00,1288.40 M-604.00,-191.10 L896.00,1308.90 M-604.00,-170.60 L896.00,1329.40 M-604.00,-150.10 L896.00,1349.90 M-604.00,-129.60 L896.00,1370.40 M-604.00,-109.10 L896.00,1390.90 M-604.00,-88.60 L896.00,1411.40 M-604.00,-68.10 L896.00,1431.90" stroke="#707070" stroke-width="1.3" fill="none"/>
<g stroke="#000" stroke-width="2.50" fill="none" stroke-linecap="square">
<path d="M96.00,58.50 L848.50,58.50 L848.50,636.50 L96.00,636.50 Z" stroke-linejoin="miter"/>
</g>
<path d="M96.00,556.45 L83.50,556.45 M96.00,397.50 L83.50,397.50 M96.00,238.55 L83.50,238.55 M96.00,79.60 L83.50,79.60 M96.00,635.92 L88.50,635.92 M96.00,476.98 L88.50,476.98 M96.00,318.02 L88.50,318.02 M96.00,159.08 L88.50,159.08 M95.60,636.50 L95.60,624.90 M221.13,636.50 L221.13,624.90 M346.66,636.50 L346.66,624.90 M472.19,636.50 L472.19,624.90 M597.72,636.50 L597.72,624.90 M723.25,636.50 L723.25,624.90 M848.78,636.50 L848.78,624.90 M158.37,636.50 L158.37,630.50 M283.89,636.50 L283.89,630.50 M409.43,636.50 L409.43,630.50 M534.96,636.50 L534.96,630.50 M660.49,636.50 L660.49,630.50 M786.02,636.50 L786.02,630.50 M252.50,58.50 L252.50,70.10 M409.40,58.50 L409.40,70.10 M566.30,58.50 L566.30,70.10 M723.20,58.50 L723.20,70.10 M174.05,58.50 L174.05,64.50 M330.95,58.50 L330.95,64.50 M487.85,58.50 L487.85,64.50 M644.75,58.50 L644.75,64.50 M801.65,58.50 L801.65,64.50 M848.50,58.49 L860.00,58.49 M848.50,222.72 L860.00,222.72 M848.50,321.25 L860.00,321.25 M848.50,386.95 L860.00,386.95 M848.50,433.87 L860.00,433.87 M848.50,469.06 L860.00,469.06 M848.50,518.33 L860.00,518.33 M848.50,584.02 L860.00,584.02 M848.50,636.57 L860.00,636.57" stroke="#000" stroke-width="2.6" stroke-linecap="round" fill="none"/>
<g transform="translate(75.00,565.05)" fill="#000"><text xml:space="preserve" transform="translate(-32.03,0.00) scale(0.960,1)" font-size="24.00">0.5</text></g>
<g transform="translate(75.00,406.10)" fill="#000"><text xml:space="preserve" transform="translate(-32.03,0.00) scale(0.960,1)" font-size="24.00">1.0</text></g>
<g transform="translate(75.00,247.15)" fill="#000"><text xml:space="preserve" transform="translate(-32.03,0.00) scale(0.960,1)" font-size="24.00">1.5</text></g>
<g transform="translate(75.00,88.20)" fill="#000"><text xml:space="preserve" transform="translate(-32.03,0.00) scale(0.960,1)" font-size="24.00">2.0</text></g>
<g transform="translate(95.60,669.30)" fill="#000"><text xml:space="preserve" transform="translate(-6.41,0.00) scale(0.960,1)" font-size="24.00">0</text></g>
<g transform="translate(221.13,669.30)" fill="#000"><text xml:space="preserve" transform="translate(-12.81,0.00) scale(0.960,1)" font-size="24.00">10</text></g>
<g transform="translate(346.66,669.30)" fill="#000"><text xml:space="preserve" transform="translate(-12.81,0.00) scale(0.960,1)" font-size="24.00">20</text></g>
<g transform="translate(472.19,669.30)" fill="#000"><text xml:space="preserve" transform="translate(-12.81,0.00) scale(0.960,1)" font-size="24.00">30</text></g>
<g transform="translate(597.72,669.30)" fill="#000"><text xml:space="preserve" transform="translate(-12.81,0.00) scale(0.960,1)" font-size="24.00">40</text></g>
<g transform="translate(723.25,669.30)" fill="#000"><text xml:space="preserve" transform="translate(-12.81,0.00) scale(0.960,1)" font-size="24.00">50</text></g>
<g transform="translate(848.78,669.30)" fill="#000"><text xml:space="preserve" transform="translate(-12.81,0.00) scale(0.960,1)" font-size="24.00">60</text></g>
<g transform="translate(95.60,43.80)" fill="#000"><text xml:space="preserve" transform="translate(-6.41,0.00) scale(0.960,1)" font-size="24.00">0</text></g>
<g transform="translate(252.50,43.80)" fill="#000"><text xml:space="preserve" transform="translate(-6.41,0.00) scale(0.960,1)" font-size="24.00">5</text></g>
<g transform="translate(409.40,43.80)" fill="#000"><text xml:space="preserve" transform="translate(-12.81,0.00) scale(0.960,1)" font-size="24.00">10</text></g>
<g transform="translate(566.30,43.80)" fill="#000"><text xml:space="preserve" transform="translate(-12.81,0.00) scale(0.960,1)" font-size="24.00">15</text></g>
<g transform="translate(723.20,43.80)" fill="#000"><text xml:space="preserve" transform="translate(-12.81,0.00) scale(0.960,1)" font-size="24.00">20</text></g>
<g transform="translate(868.50,67.09)" fill="#000"><text xml:space="preserve" transform="translate(0.00,0.00) scale(0.960,1)" font-size="24.00">600</text></g>
<g transform="translate(868.50,231.32)" fill="#000"><text xml:space="preserve" transform="translate(0.00,0.00) scale(0.960,1)" font-size="24.00">800</text></g>
<g transform="translate(868.50,329.85)" fill="#000"><text xml:space="preserve" transform="translate(0.00,0.00) scale(0.960,1)" font-size="24.00">1000</text></g>
<g transform="translate(868.50,395.55)" fill="#000"><text xml:space="preserve" transform="translate(0.00,0.00) scale(0.960,1)" font-size="24.00">1200</text></g>
<g transform="translate(868.50,442.47)" fill="#000"><text xml:space="preserve" transform="translate(0.00,0.00) scale(0.960,1)" font-size="24.00">1400</text></g>
<g transform="translate(868.50,477.66)" fill="#000"><text xml:space="preserve" transform="translate(0.00,0.00) scale(0.960,1)" font-size="24.00">1600</text></g>
<g transform="translate(868.50,526.93)" fill="#000"><text xml:space="preserve" transform="translate(0.00,0.00) scale(0.960,1)" font-size="24.00">2000</text></g>
<g transform="translate(868.50,592.62)" fill="#000"><text xml:space="preserve" transform="translate(0.00,0.00) scale(0.960,1)" font-size="24.00">3000</text></g>
<g transform="translate(868.50,645.17)" fill="#000"><text xml:space="preserve" transform="translate(0.00,0.00) scale(0.960,1)" font-size="24.00">5000</text></g>
<g transform="translate(455.50,19.50)" fill="#000"><text xml:space="preserve" transform="translate(0.00,0.00) scale(1.090,1)" font-size="25.00" font-style="italic">k</text><text xml:space="preserve" transform="translate(13.63,8.00) scale(1.090,1)" font-size="17.00" font-style="italic">M</text><text xml:space="preserve" transform="translate(29.06,0.00) scale(1.090,1)" font-size="25.00" font-style="italic">t</text></g>
<g transform="translate(425.50,692.00)" fill="#000"><text xml:space="preserve" transform="translate(0.00,0.00) scale(1.070,1)" font-size="25.00" font-style="italic">k</text><text xml:space="preserve" transform="translate(13.38,7.00) scale(1.070,1)" font-size="17.00">M</text><text xml:space="preserve" transform="translate(28.53,0.00) scale(1.070,1)" font-size="25.00"> (μm</text><text xml:space="preserve" transform="translate(82.57,-10.00) scale(1.070,1)" font-size="17.00">-1</text><text xml:space="preserve" transform="translate(98.74,0.00) scale(1.070,1)" font-size="25.00">)</text></g>
<g transform="translate(29.80,367.00) rotate(-90)" fill="#000"><text xml:space="preserve" transform="translate(-47.45,0.00) scale(0.957,1)" font-size="28.30">ħω (eV)</text></g>
<g transform="translate(952.50,378.00) rotate(-90)" fill="#000"><text xml:space="preserve" transform="translate(-43.53,0.00) scale(1.000,1)" font-size="27.00">λ</text><text xml:space="preserve" transform="translate(-30.03,7.00) scale(1.000,1)" font-size="19.00">0</text><text xml:space="preserve" transform="translate(-19.46,0.00) scale(1.000,1)" font-size="27.00"> (nm)</text></g>
<g transform="translate(0.00,36.50)" fill="#000"><text xml:space="preserve" transform="translate(0.00,0.00) scale(1.000,1)" font-size="41.00" font-weight="bold">(a)</text></g>
<g transform="translate(352.00,119.00)" fill="#0000ff"><text xml:space="preserve" transform="translate(0.00,0.00) scale(0.950,1)" font-size="24.00" font-weight="bold">TM</text><text xml:space="preserve" transform="translate(32.92,8.50) scale(0.870,1)" font-size="21.50" font-weight="bold">1</text></g>
<g transform="translate(435.00,119.00)" fill="#000"><text xml:space="preserve" transform="translate(0.00,0.00) scale(0.950,1)" font-size="24.00" font-weight="bold">TM</text><text xml:space="preserve" transform="translate(32.92,8.50) scale(0.870,1)" font-size="21.50" font-weight="bold">0</text></g>
<g transform="translate(381.00,240.00)" fill="#ff00ff"><text xml:space="preserve" transform="translate(0.00,0.00) scale(0.950,1)" font-size="24.00" font-weight="bold">TE</text><text xml:space="preserve" transform="translate(29.14,8.50) scale(0.870,1)" font-size="21.50" font-weight="bold">2</text></g>
<g transform="translate(262.00,395.50)" fill="#008000"><text xml:space="preserve" transform="translate(0.00,0.00) scale(0.950,1)" font-size="24.00" font-weight="bold">TE</text><text xml:space="preserve" transform="translate(29.14,8.50) scale(0.870,1)" font-size="21.50" font-weight="bold">1</text></g>
<g transform="translate(279.00,504.00)" fill="#ff0000"><text xml:space="preserve" transform="translate(0.00,0.00) scale(0.950,1)" font-size="24.00" font-weight="bold">TE</text><text xml:space="preserve" transform="translate(29.14,8.50) scale(0.870,1)" font-size="21.50" font-weight="bold">0</text></g>
<g transform="translate(685.50,449.50)" fill="#000"><text xml:space="preserve" transform="translate(0.00,0.00) scale(1.300,1)" font-size="26.00">λ</text><text xml:space="preserve" transform="translate(16.90,8.00) scale(0.900,1)" font-size="20.00">0</text><text xml:space="preserve" transform="translate(26.91,0.00) scale(1.030,1)" font-size="26.00">=1570 nm</text></g>
<rect x="637.60" y="524.60" width="162.30" height="50.50" fill="#d8bcd9"/>
<rect x="637.60" y="575.10" width="162.30" height="51.50" fill="#c8e7f7"/>
<rect x="637.60" y="475.00" width="162.30" height="151.60" fill="none" stroke="#000" stroke-width="2.5"/>
<path d="M637.60,524.60 L799.90,524.60 M637.60,575.10 L799.90,575.10" stroke="#000" stroke-width="2.5"/>
<g transform="translate(643.50,509.30)" fill="#000"><text xml:space="preserve" transform="translate(0.00,0.00) scale(1.030,1)" font-size="27.00">Air</text></g>
<g transform="translate(643.00,556.80)" fill="#000"><text xml:space="preserve" transform="translate(0.00,0.00) scale(1.030,1)" font-size="27.00">MoS</text><text xml:space="preserve" transform="translate(57.18,8.00) scale(1.000,1)" font-size="18.00">2</text></g>
<g transform="translate(641.50,610.20)" fill="#000"><text xml:space="preserve" transform="translate(0.00,0.00) scale(1.030,1)" font-size="27.00">Glass</text></g>
<g transform="translate(609.00,559.30)" fill="#000"><text xml:space="preserve" transform="translate(0.00,0.00) scale(1.030,1)" font-size="27.00">t</text></g>
<g transform="translate(806.00,524.80)" fill="#000"><text xml:space="preserve" transform="translate(0.00,0.00) scale(1.000,1)" font-size="27.00">z</text></g>
<path d="M627.6,530 L627.6,570" stroke="#000" stroke-width="2.2"/>
<path d="M627.6,523 L622,537 L627.6,533 L633.2,537 Z M627.6,577 L622,563 L627.6,567 L633.2,563 Z" fill="#000"/>
<path d="M812.8,535 L812.8,575.1 M807.5,575.1 L818,575.1" stroke="#000" stroke-width="2.2"/>
<path d="M812.8,528.7 L807.2,542.7 L812.8,538.7 L818.4,542.7 Z" fill="#000"/>
<defs><clipPath id="cb0"><rect x="55.00" y="743.00" width="245.30" height="198.00"/></clipPath></defs>
<rect x="55.00" y="743.00" width="122.70" height="198.00" fill="#c8e7f6"/>
<rect x="177.70" y="743.00" width="48.88" height="198.00" fill="#d8bcda"/>
<defs><clipPath id="cb1"><rect x="388.00" y="743.00" width="245.00" height="198.00"/></clipPath></defs>
<rect x="388.00" y="743.00" width="123.20" height="198.00" fill="#c8e7f6"/>
<rect x="511.20" y="743.00" width="48.88" height="198.00" fill="#d8bcda"/>
<defs><clipPath id="cb2"><rect x="722.20" y="743.00" width="244.30" height="198.00"/></clipPath></defs>
<rect x="722.20" y="743.00" width="122.80" height="198.00" fill="#c8e7f6"/>
<rect x="845.00" y="743.00" width="48.88" height="198.00" fill="#d8bcda"/>
<path clip-path="url(#cb0)" d="M55.50,842.80 L55.74,842.80 L55.99,842.80 L56.23,842.80 L56.48,842.80 L56.72,842.80 L56.97,842.80 L57.21,842.80 L57.46,842.80 L57.70,842.80 L57.94,842.80 L58.19,842.80 L58.43,842.80 L58.68,842.80 L58.92,842.80 L59.17,842.80 L59.41,842.80 L59.65,842.80 L59.90,842.80 L60.14,842.80 L60.39,842.80 L60.63,842.80 L60.88,842.80 L61.12,842.80 L61.37,842.80 L61.61,842.80 L61.85,842.80 L62.10,842.80 L62.34,842.80 L62.59,842.80 L62.83,842.80 L63.08,842.80 L63.32,842.80 L63.57,842.80 L63.81,842.80 L64.05,842.80 L64.30,842.80 L64.54,842.80 L64.79,842.80 L65.03,842.80 L65.28,842.80 L65.52,842.80 L65.76,842.80 L66.01,842.80 L66.25,842.80 L66.50,842.80 L66.74,842.80 L66.99,842.80 L67.23,842.80 L67.48,842.80 L67.72,842.80 L67.96,842.80 L68.21,842.80 L68.45,842.80 L68.70,842.80 L68.94,842.80 L69.19,842.80 L69.43,842.80 L69.68,842.80 L69.92,842.80 L70.16,842.80 L70.41,842.80 L70.65,842.80 L70.90,842.80 L71.14,842.80 L71.39,842.80 L71.63,842.80 L71.87,842.80 L72.12,842.80 L72.36,842.80 L72.61,842.80 L72.85,842.80 L73.10,842.80 L73.34,842.80 L73.59,842.80 L73.83,842.80 L74.07,842.80 L74.32,842.80 L74.56,842.80 L74.81,842.80 L75.05,842.80 L75.30,842.80 L75.54,842.80 L75.79,842.80 L76.03,842.80 L76.27,842.80 L76.52,842.80 L76.76,842.80 L77.01,842.80 L77.25,842.80 L77.50,842.80 L77.74,842.80 L77.98,842.80 L78.23,842.80 L78.47,842.80 L78.72,842.80 L78.96,842.80 L79.21,842.80 L79.45,842.80 L79.70,842.80 L79.94,842.80 L80.18,842.80 L80.43,842.80 L80.67,842.80 L80.92,842.80 L81.16,842.80 L81.41,842.80 L81.65,842.80 L81.90,842.80 L82.14,842.80 L82.38,842.80 L82.63,842.80 L82.87,842.80 L83.12,842.80 L83.36,842.80 L83.61,842.80 L83.85,842.80 L84.09,842.80 L84.34,842.80 L84.58,842.80 L84.83,842.80 L85.07,842.80 L85.32,842.80 L85.56,842.80 L85.81,842.80 L86.05,842.80 L86.29,842.80 L86.54,842.80 L86.78,842.80 L87.03,842.80 L87.27,842.80 L87.52,842.80 L87.76,842.80 L88.01,842.80 L88.25,842.80 L88.49,842.80 L88.74,842.80 L88.98,842.80 L89.23,842.80 L89.47,842.80 L89.72,842.80 L89.96,842.80 L90.20,842.80 L90.45,842.80 L90.69,842.80 L90.94,842.80 L91.18,842.80 L91.43,842.80 L91.67,842.80 L91.92,842.80 L92.16,842.80 L92.40,842.80 L92.65,842.80 L92.89,842.80 L93.14,842.80 L93.38,842.80 L93.63,842.80 L93.87,842.80 L94.12,842.80 L94.36,842.80 L94.60,842.80 L94.85,842.80 L95.09,842.80 L95.34,842.80 L95.58,842.80 L95.83,842.80 L96.07,842.80 L96.31,842.80 L96.56,842.80 L96.80,842.80 L97.05,842.80 L97.29,842.80 L97.54,842.80 L97.78,842.80 L98.03,842.80 L98.27,842.80 L98.51,842.80 L98.76,842.80 L99.00,842.80 L99.25,842.80 L99.49,842.80 L99.74,842.80 L99.98,842.79 L100.23,842.79 L100.47,842.79 L100.71,842.79 L100.96,842.79 L101.20,842.79 L101.45,842.79 L101.69,842.79 L101.94,842.79 L102.18,842.79 L102.42,842.79 L102.67,842.79 L102.91,842.79 L103.16,842.79 L103.40,842.79 L103.65,842.79 L103.89,842.79 L104.14,842.79 L104.38,842.79 L104.62,842.79 L104.87,842.79 L105.11,842.79 L105.36,842.79 L105.60,842.79 L105.85,842.79 L106.09,842.79 L106.34,842.79 L106.58,842.79 L106.82,842.79 L107.07,842.79 L107.31,842.79 L107.56,842.79 L107.80,842.79 L108.05,842.79 L108.29,842.79 L108.53,842.79 L108.78,842.79 L109.02,842.79 L109.27,842.79 L109.51,842.78 L109.76,842.78 L110.00,842.78 L110.25,842.78 L110.49,842.78 L110.73,842.78 L110.98,842.78 L111.22,842.78 L111.47,842.78 L111.71,842.78 L111.96,842.78 L112.20,842.78 L112.45,842.78 L112.69,842.78 L112.93,842.78 L113.18,842.78 L113.42,842.78 L113.67,842.78 L113.91,842.78 L114.16,842.77 L114.40,842.77 L114.64,842.77 L114.89,842.77 L115.13,842.77 L115.38,842.77 L115.62,842.77 L115.87,842.77 L116.11,842.77 L116.36,842.77 L116.60,842.77 L116.84,842.77 L117.09,842.76 L117.33,842.76 L117.58,842.76 L117.82,842.76 L118.07,842.76 L118.31,842.76 L118.56,842.76 L118.80,842.76 L119.04,842.76 L119.29,842.75 L119.53,842.75 L119.78,842.75 L120.02,842.75 L120.27,842.75 L120.51,842.75 L120.75,842.75 L121.00,842.74 L121.24,842.74 L121.49,842.74 L121.73,842.74 L121.98,842.74 L122.22,842.74 L122.47,842.73 L122.71,842.73 L122.95,842.73 L123.20,842.73 L123.44,842.73 L123.69,842.72 L123.93,842.72 L124.18,842.72 L124.42,842.72 L124.67,842.72 L124.91,842.71 L125.15,842.71 L125.40,842.71 L125.64,842.71 L125.89,842.70 L126.13,842.70 L126.38,842.70 L126.62,842.69 L126.86,842.69 L127.11,842.69 L127.35,842.69 L127.60,842.68 L127.84,842.68 L128.09,842.68 L128.33,842.67 L128.58,842.67 L128.82,842.66 L129.06,842.66 L129.31,842.66 L129.55,842.65 L129.80,842.65 L130.04,842.64 L130.29,842.64 L130.53,842.64 L130.78,842.63 L131.02,842.63 L131.26,842.62 L131.51,842.62 L131.75,842.61 L132.00,842.61 L132.24,842.60 L132.49,842.59 L132.73,842.59 L132.97,842.58 L133.22,842.58 L133.46,842.57 L133.71,842.56 L133.95,842.56 L134.20,842.55 L134.44,842.54 L134.69,842.54 L134.93,842.53 L135.17,842.52 L135.42,842.51 L135.66,842.50 L135.91,842.50 L136.15,842.49 L136.40,842.48 L136.64,842.47 L136.89,842.46 L137.13,842.45 L137.37,842.44 L137.62,842.43 L137.86,842.42 L138.11,842.41 L138.35,842.40 L138.60,842.39 L138.84,842.38 L139.08,842.36 L139.33,842.35 L139.57,842.34 L139.82,842.33 L140.06,842.31 L140.31,842.30 L140.55,842.28 L140.80,842.27 L141.04,842.26 L141.28,842.24 L141.53,842.22 L141.77,842.21 L142.02,842.19 L142.26,842.17 L142.51,842.16 L142.75,842.14 L143.00,842.12 L143.24,842.10 L143.48,842.08 L143.73,842.06 L143.97,842.04 L144.22,842.02 L144.46,842.00 L144.71,841.97 L144.95,841.95 L145.19,841.93 L145.44,841.90 L145.68,841.88 L145.93,841.85 L146.17,841.82 L146.42,841.80 L146.66,841.77 L146.91,841.74 L147.15,841.71 L147.39,841.68 L147.64,841.65 L147.88,841.61 L148.13,841.58 L148.37,841.55 L148.62,841.51 L148.86,841.48 L149.11,841.44 L149.35,841.40 L149.59,841.36 L149.84,841.32 L150.08,841.28 L150.33,841.23 L150.57,841.19 L150.82,841.15 L151.06,841.10 L151.30,841.05 L151.55,841.00 L151.79,840.95 L152.04,840.90 L152.28,840.84 L152.53,840.79 L152.77,840.73 L153.02,840.67 L153.26,840.62 L153.50,840.55 L153.75,840.49 L153.99,840.43 L154.24,840.36 L154.48,840.29 L154.73,840.22 L154.97,840.15 L155.22,840.07 L155.46,839.99 L155.70,839.92 L155.95,839.83 L156.19,839.75 L156.44,839.66 L156.68,839.58 L156.93,839.49 L157.17,839.39 L157.41,839.30 L157.66,839.20 L157.90,839.10 L158.15,838.99 L158.39,838.88 L158.64,838.77 L158.88,838.66 L159.13,838.54 L159.37,838.42 L159.61,838.30 L159.86,838.17 L160.10,838.04 L160.35,837.91 L160.59,837.77 L160.84,837.63 L161.08,837.48 L161.33,837.33 L161.57,837.18 L161.81,837.02 L162.06,836.86 L162.30,836.69 L162.55,836.52 L162.79,836.34 L163.04,836.16 L163.28,835.97 L163.52,835.78 L163.77,835.58 L164.01,835.38 L164.26,835.17 L164.50,834.95 L164.75,834.73 L164.99,834.51 L165.24,834.27 L165.48,834.03 L165.72,833.78 L165.97,833.53 L166.21,833.27 L166.46,833.00 L166.70,832.72 L166.95,832.44 L167.19,832.15 L167.44,831.85 L167.68,831.54 L167.92,831.22 L168.17,830.90 L168.41,830.56 L168.66,830.22 L168.90,829.86 L169.15,829.50 L169.39,829.12 L169.63,828.74 L169.88,828.34 L170.12,827.93 L170.37,827.51 L170.61,827.08 L170.86,826.64 L171.10,826.19 L171.35,825.72 L171.59,825.24 L171.83,824.74 L172.08,824.23 L172.32,823.71 L172.57,823.17 L172.81,822.62 L173.06,822.05 L173.30,821.46 L173.55,820.86 L173.79,820.24 L174.03,819.61 L174.28,818.95 L174.52,818.28 L174.77,817.59 L175.01,816.88 L175.26,816.15 L175.50,815.40 L175.74,814.63 L175.99,813.83 L176.23,813.02 L176.48,812.18 L176.72,811.32 L176.97,810.43 L177.21,809.52 L177.46,808.58 L177.52,808.34 L177.58,808.10 L177.64,807.86 L177.70,807.61 L177.76,807.37 L177.82,807.13 L177.94,806.64 L178.19,805.67 L178.43,804.70 L178.68,803.74 L178.92,802.79 L179.17,801.84 L179.41,800.90 L179.66,799.96 L179.90,799.03 L180.14,798.10 L180.39,797.18 L180.63,796.27 L180.88,795.36 L181.12,794.46 L181.37,793.57 L181.61,792.69 L181.85,791.81 L182.10,790.93 L182.34,790.07 L182.59,789.21 L182.83,788.36 L183.08,787.52 L183.32,786.68 L183.57,785.86 L183.81,785.04 L184.05,784.23 L184.30,783.42 L184.54,782.63 L184.79,781.84 L185.03,781.06 L185.28,780.29 L185.52,779.53 L185.77,778.78 L186.01,778.04 L186.25,777.31 L186.50,776.58 L186.74,775.86 L186.99,775.16 L187.23,774.46 L187.48,773.77 L187.72,773.10 L187.96,772.43 L188.21,771.77 L188.45,771.12 L188.70,770.48 L188.94,769.85 L189.19,769.24 L189.43,768.63 L189.68,768.03 L189.92,767.44 L190.16,766.86 L190.41,766.30 L190.65,765.74 L190.90,765.20 L191.14,764.66 L191.39,764.14 L191.63,763.63 L191.88,763.13 L192.12,762.64 L192.36,762.16 L192.61,761.69 L192.85,761.23 L193.10,760.79 L193.34,760.35 L193.59,759.93 L193.83,759.52 L194.07,759.12 L194.32,758.73 L194.56,758.35 L194.81,757.99 L195.05,757.64 L195.30,757.30 L195.54,756.97 L195.79,756.65 L196.03,756.35 L196.27,756.05 L196.52,755.77 L196.76,755.50 L197.01,755.25 L197.25,755.00 L197.50,754.77 L197.74,754.55 L197.99,754.34 L198.23,754.14 L198.47,753.96 L198.72,753.79 L198.96,753.63 L199.21,753.49 L199.45,753.35 L199.70,753.23 L199.94,753.12 L200.18,753.03 L200.43,752.94 L200.67,752.87 L200.92,752.81 L201.16,752.76 L201.41,752.73 L201.65,752.71 L201.90,752.70 L202.14,752.70 L202.38,752.72 L202.63,752.75 L202.87,752.79 L203.12,752.84 L203.36,752.91 L203.61,752.99 L203.85,753.08 L204.10,753.18 L204.34,753.30 L204.58,753.43 L204.83,753.57 L205.07,753.72 L205.32,753.89 L205.56,754.07 L205.81,754.26 L206.05,754.46 L206.29,754.67 L206.54,754.90 L206.78,755.14 L207.03,755.39 L207.27,755.66 L207.52,755.93 L207.76,756.22 L208.01,756.52 L208.25,756.83 L208.49,757.16 L208.74,757.49 L208.98,757.84 L209.23,758.20 L209.47,758.57 L209.72,758.95 L209.96,759.35 L210.21,759.75 L210.45,760.17 L210.69,760.60 L210.94,761.04 L211.18,761.49 L211.43,761.96 L211.67,762.43 L211.92,762.92 L212.16,763.41 L212.40,763.92 L212.65,764.44 L212.89,764.97 L213.14,765.51 L213.38,766.06 L213.63,766.62 L213.87,767.20 L214.12,767.78 L214.36,768.37 L214.60,768.98 L214.85,769.59 L215.09,770.22 L215.34,770.85 L215.58,771.49 L215.83,772.15 L216.07,772.81 L216.32,773.49 L216.56,774.17 L216.80,774.86 L217.05,775.57 L217.29,776.28 L217.54,777.00 L217.78,777.73 L218.03,778.47 L218.27,779.22 L218.51,779.97 L218.76,780.74 L219.00,781.51 L219.25,782.30 L219.49,783.09 L219.74,783.89 L219.98,784.69 L220.23,785.51 L220.47,786.33 L220.71,787.17 L220.96,788.01 L221.20,788.85 L221.45,789.71 L221.69,790.57 L221.94,791.44 L222.18,792.31 L222.43,793.20 L222.67,794.09 L222.91,794.98 L223.16,795.89 L223.40,796.80 L223.65,797.71 L223.89,798.64 L224.14,799.57 L224.38,800.50 L224.62,801.44 L224.87,802.39 L225.11,803.34 L225.36,804.30 L225.60,805.26 L225.85,806.23 L226.09,807.20 L226.34,808.18 L226.40,808.43 L226.46,808.67 L226.52,808.92 L226.58,809.16 L226.64,809.41 L226.70,809.65 L226.76,809.89 L226.82,810.13 L227.07,811.08 L227.31,811.99 L227.56,812.88 L227.80,813.75 L228.05,814.59 L228.29,815.40 L228.54,816.19 L228.78,816.96 L229.02,817.71 L229.27,818.43 L229.51,819.13 L229.76,819.82 L230.00,820.48 L230.25,821.12 L230.49,821.75 L230.73,822.36 L230.98,822.95 L231.22,823.52 L231.47,824.08 L231.71,824.62 L231.96,825.14 L232.20,825.65 L232.45,826.15 L232.69,826.63 L232.93,827.10 L233.18,827.55 L233.42,827.99 L233.67,828.42 L233.91,828.83 L234.16,829.24 L234.40,829.63 L234.65,830.01 L234.89,830.38 L235.13,830.74 L235.38,831.08 L235.62,831.42 L235.87,831.75 L236.11,832.07 L236.36,832.38 L236.60,832.68 L236.84,832.97 L237.09,833.26 L237.33,833.53 L237.58,833.80 L237.82,834.06 L238.07,834.31 L238.31,834.56 L238.56,834.79 L238.80,835.03 L239.04,835.25 L239.29,835.47 L239.53,835.68 L239.78,835.89 L240.02,836.08 L240.27,836.28 L240.51,836.47 L240.76,836.65 L241.00,836.83 L241.24,837.00 L241.49,837.17 L241.73,837.33 L241.98,837.49 L242.22,837.64 L242.47,837.79 L242.71,837.93 L242.95,838.08 L243.20,838.21 L243.44,838.34 L243.69,838.47 L243.93,838.60 L244.18,838.72 L244.42,838.84 L244.67,838.95 L244.91,839.06 L245.15,839.17 L245.40,839.28 L245.64,839.38 L245.89,839.48 L246.13,839.57 L246.38,839.66 L246.62,839.76 L246.87,839.84 L247.11,839.93 L247.35,840.01 L247.60,840.09 L247.84,840.17 L248.09,840.25 L248.33,840.32 L248.58,840.39 L248.82,840.46 L249.06,840.53 L249.31,840.59 L249.55,840.66 L249.80,840.72 L250.04,840.78 L250.29,840.84 L250.53,840.89 L250.78,840.95 L251.02,841.00 L251.26,841.06 L251.51,841.11 L251.75,841.15 L252.00,841.20 L252.24,841.25 L252.49,841.29 L252.73,841.34 L252.98,841.38 L253.22,841.42 L253.46,841.46 L253.71,841.50 L253.95,841.54 L254.20,841.57 L254.44,841.61 L254.69,841.64 L254.93,841.68 L255.17,841.71 L255.42,841.74 L255.66,841.77 L255.91,841.80 L256.15,841.83 L256.40,841.86 L256.64,841.88 L256.89,841.91 L257.13,841.94 L257.37,841.96 L257.62,841.99 L257.86,842.01 L258.11,842.03 L258.35,842.05 L258.60,842.08 L258.84,842.10 L259.09,842.12 L259.33,842.14 L259.57,842.16 L259.82,842.17 L260.06,842.19 L260.31,842.21 L260.55,842.23 L260.80,842.24 L261.04,842.26 L261.28,842.28 L261.53,842.29 L261.77,842.30 L262.02,842.32 L262.26,842.33 L262.51,842.35 L262.75,842.36 L263.00,842.37 L263.24,842.38 L263.48,842.40 L263.73,842.41 L263.97,842.42 L264.22,842.43 L264.46,842.44 L264.71,842.45 L264.95,842.46 L265.20,842.47 L265.44,842.48 L265.68,842.49 L265.93,842.50 L266.17,842.51 L266.42,842.52 L266.66,842.52 L266.91,842.53 L267.15,842.54 L267.39,842.55 L267.64,842.55 L267.88,842.56 L268.13,842.57 L268.37,842.58 L268.62,842.58 L268.86,842.59 L269.11,842.59 L269.35,842.60 L269.59,842.61 L269.84,842.61 L270.08,842.62 L270.33,842.62 L270.57,842.63 L270.82,842.63 L271.06,842.64 L271.31,842.64 L271.55,842.65 L271.79,842.65 L272.04,842.66 L272.28,842.66 L272.53,842.66 L272.77,842.67 L273.02,842.67 L273.26,842.68 L273.50,842.68 L273.75,842.68 L273.99,842.69 L274.24,842.69 L274.48,842.69 L274.73,842.70 L274.97,842.70 L275.22,842.70 L275.46,842.70 L275.70,842.71 L275.95,842.71 L276.19,842.71 L276.44,842.71 L276.68,842.72 L276.93,842.72 L277.17,842.72 L277.42,842.72 L277.66,842.73 L277.90,842.73 L278.15,842.73 L278.39,842.73 L278.64,842.73 L278.88,842.74 L279.13,842.74 L279.37,842.74 L279.61,842.74 L279.86,842.74 L280.10,842.74 L280.35,842.75 L280.59,842.75 L280.84,842.75 L281.08,842.75 L281.33,842.75 L281.57,842.75 L281.81,842.76 L282.06,842.76 L282.30,842.76 L282.55,842.76 L282.79,842.76 L283.04,842.76 L283.28,842.76 L283.53,842.76 L283.77,842.76 L284.01,842.77 L284.26,842.77 L284.50,842.77 L284.75,842.77 L284.99,842.77 L285.24,842.77 L285.48,842.77 L285.72,842.77 L285.97,842.77 L286.21,842.77 L286.46,842.77 L286.70,842.78 L286.95,842.78 L287.19,842.78 L287.44,842.78 L287.68,842.78 L287.92,842.78 L288.17,842.78 L288.41,842.78 L288.66,842.78 L288.90,842.78 L289.15,842.78 L289.39,842.78 L289.64,842.78 L289.88,842.78 L290.12,842.78 L290.37,842.78 L290.61,842.78 L290.86,842.78 L291.10,842.79 L291.35,842.79 L291.59,842.79 L291.83,842.79 L292.08,842.79 L292.32,842.79 L292.57,842.79 L292.81,842.79 L293.06,842.79 L293.30,842.79 L293.55,842.79 L293.79,842.79 L294.03,842.79 L294.28,842.79 L294.52,842.79 L294.77,842.79 L295.01,842.79 L295.26,842.79 L295.50,842.79 L295.75,842.79 L295.99,842.79 L296.23,842.79 L296.48,842.79 L296.72,842.79 L296.97,842.79 L297.21,842.79 L297.46,842.79 L297.70,842.79 L297.94,842.79 L298.19,842.79 L298.43,842.79 L298.68,842.79 L298.92,842.79 L299.17,842.79 L299.41,842.79 L299.66,842.79 L299.90,842.79" fill="none" stroke="#ff0000" stroke-width="4.00" stroke-linejoin="round" stroke-linecap="round"/>
<path clip-path="url(#cb0)" d="M55.50,842.80 L55.74,842.80 L55.99,842.80 L56.23,842.80 L56.48,842.80 L56.72,842.80 L56.97,842.80 L57.21,842.80 L57.46,842.80 L57.70,842.80 L57.94,842.80 L58.19,842.80 L58.43,842.80 L58.68,842.81 L58.92,842.81 L59.17,842.81 L59.41,842.81 L59.65,842.81 L59.90,842.81 L60.14,842.81 L60.39,842.81 L60.63,842.81 L60.88,842.81 L61.12,842.81 L61.37,842.81 L61.61,842.81 L61.85,842.81 L62.10,842.81 L62.34,842.81 L62.59,842.81 L62.83,842.81 L63.08,842.81 L63.32,842.81 L63.57,842.81 L63.81,842.81 L64.05,842.81 L64.30,842.81 L64.54,842.81 L64.79,842.81 L65.03,842.81 L65.28,842.81 L65.52,842.81 L65.76,842.81 L66.01,842.81 L66.25,842.81 L66.50,842.81 L66.74,842.81 L66.99,842.81 L67.23,842.81 L67.48,842.81 L67.72,842.81 L67.96,842.81 L68.21,842.81 L68.45,842.81 L68.70,842.81 L68.94,842.81 L69.19,842.81 L69.43,842.81 L69.68,842.81 L69.92,842.81 L70.16,842.81 L70.41,842.81 L70.65,842.81 L70.90,842.81 L71.14,842.81 L71.39,842.81 L71.63,842.81 L71.87,842.81 L72.12,842.81 L72.36,842.82 L72.61,842.82 L72.85,842.82 L73.10,842.82 L73.34,842.82 L73.59,842.82 L73.83,842.82 L74.07,842.82 L74.32,842.82 L74.56,842.82 L74.81,842.82 L75.05,842.82 L75.30,842.82 L75.54,842.82 L75.79,842.82 L76.03,842.82 L76.27,842.82 L76.52,842.82 L76.76,842.82 L77.01,842.82 L77.25,842.82 L77.50,842.82 L77.74,842.82 L77.98,842.82 L78.23,842.82 L78.47,842.82 L78.72,842.83 L78.96,842.83 L79.21,842.83 L79.45,842.83 L79.70,842.83 L79.94,842.83 L80.18,842.83 L80.43,842.83 L80.67,842.83 L80.92,842.83 L81.16,842.83 L81.41,842.83 L81.65,842.83 L81.90,842.83 L82.14,842.83 L82.38,842.83 L82.63,842.83 L82.87,842.83 L83.12,842.84 L83.36,842.84 L83.61,842.84 L83.85,842.84 L84.09,842.84 L84.34,842.84 L84.58,842.84 L84.83,842.84 L85.07,842.84 L85.32,842.84 L85.56,842.84 L85.81,842.84 L86.05,842.84 L86.29,842.85 L86.54,842.85 L86.78,842.85 L87.03,842.85 L87.27,842.85 L87.52,842.85 L87.76,842.85 L88.01,842.85 L88.25,842.85 L88.49,842.85 L88.74,842.86 L88.98,842.86 L89.23,842.86 L89.47,842.86 L89.72,842.86 L89.96,842.86 L90.20,842.86 L90.45,842.86 L90.69,842.87 L90.94,842.87 L91.18,842.87 L91.43,842.87 L91.67,842.87 L91.92,842.87 L92.16,842.87 L92.40,842.87 L92.65,842.88 L92.89,842.88 L93.14,842.88 L93.38,842.88 L93.63,842.88 L93.87,842.88 L94.12,842.89 L94.36,842.89 L94.60,842.89 L94.85,842.89 L95.09,842.89 L95.34,842.89 L95.58,842.90 L95.83,842.90 L96.07,842.90 L96.31,842.90 L96.56,842.90 L96.80,842.91 L97.05,842.91 L97.29,842.91 L97.54,842.91 L97.78,842.91 L98.03,842.92 L98.27,842.92 L98.51,842.92 L98.76,842.92 L99.00,842.93 L99.25,842.93 L99.49,842.93 L99.74,842.93 L99.98,842.94 L100.23,842.94 L100.47,842.94 L100.71,842.95 L100.96,842.95 L101.20,842.95 L101.45,842.95 L101.69,842.96 L101.94,842.96 L102.18,842.96 L102.42,842.97 L102.67,842.97 L102.91,842.97 L103.16,842.98 L103.40,842.98 L103.65,842.98 L103.89,842.99 L104.14,842.99 L104.38,842.99 L104.62,843.00 L104.87,843.00 L105.11,843.01 L105.36,843.01 L105.60,843.01 L105.85,843.02 L106.09,843.02 L106.34,843.03 L106.58,843.03 L106.82,843.04 L107.07,843.04 L107.31,843.05 L107.56,843.05 L107.80,843.06 L108.05,843.06 L108.29,843.07 L108.53,843.07 L108.78,843.08 L109.02,843.08 L109.27,843.09 L109.51,843.09 L109.76,843.10 L110.00,843.11 L110.25,843.11 L110.49,843.12 L110.73,843.12 L110.98,843.13 L111.22,843.14 L111.47,843.14 L111.71,843.15 L111.96,843.16 L112.20,843.16 L112.45,843.17 L112.69,843.18 L112.93,843.19 L113.18,843.19 L113.42,843.20 L113.67,843.21 L113.91,843.22 L114.16,843.23 L114.40,843.23 L114.64,843.24 L114.89,843.25 L115.13,843.26 L115.38,843.27 L115.62,843.28 L115.87,843.29 L116.11,843.30 L116.36,843.31 L116.60,843.32 L116.84,843.33 L117.09,843.34 L117.33,843.35 L117.58,843.36 L117.82,843.37 L118.07,843.38 L118.31,843.39 L118.56,843.41 L118.80,843.42 L119.04,843.43 L119.29,843.44 L119.53,843.45 L119.78,843.47 L120.02,843.48 L120.27,843.49 L120.51,843.51 L120.75,843.52 L121.00,843.54 L121.24,843.55 L121.49,843.57 L121.73,843.58 L121.98,843.60 L122.22,843.61 L122.47,843.63 L122.71,843.64 L122.95,843.66 L123.20,843.68 L123.44,843.70 L123.69,843.71 L123.93,843.73 L124.18,843.75 L124.42,843.77 L124.67,843.79 L124.91,843.81 L125.15,843.83 L125.40,843.85 L125.64,843.87 L125.89,843.89 L126.13,843.91 L126.38,843.93 L126.62,843.95 L126.86,843.98 L127.11,844.00 L127.35,844.02 L127.60,844.05 L127.84,844.07 L128.09,844.10 L128.33,844.12 L128.58,844.15 L128.82,844.18 L129.06,844.20 L129.31,844.23 L129.55,844.26 L129.80,844.29 L130.04,844.32 L130.29,844.35 L130.53,844.38 L130.78,844.41 L131.02,844.44 L131.26,844.47 L131.51,844.51 L131.75,844.54 L132.00,844.57 L132.24,844.61 L132.49,844.65 L132.73,844.68 L132.97,844.72 L133.22,844.76 L133.46,844.80 L133.71,844.83 L133.95,844.87 L134.20,844.92 L134.44,844.96 L134.69,845.00 L134.93,845.04 L135.17,845.09 L135.42,845.13 L135.66,845.18 L135.91,845.23 L136.15,845.27 L136.40,845.32 L136.64,845.37 L136.89,845.42 L137.13,845.48 L137.37,845.53 L137.62,845.58 L137.86,845.64 L138.11,845.69 L138.35,845.75 L138.60,845.81 L138.84,845.87 L139.08,845.93 L139.33,845.99 L139.57,846.05 L139.82,846.12 L140.06,846.18 L140.31,846.25 L140.55,846.32 L140.80,846.39 L141.04,846.46 L141.28,846.53 L141.53,846.60 L141.77,846.68 L142.02,846.76 L142.26,846.83 L142.51,846.91 L142.75,846.99 L143.00,847.08 L143.24,847.16 L143.48,847.25 L143.73,847.34 L143.97,847.42 L144.22,847.52 L144.46,847.61 L144.71,847.70 L144.95,847.80 L145.19,847.90 L145.44,848.00 L145.68,848.10 L145.93,848.21 L146.17,848.31 L146.42,848.42 L146.66,848.53 L146.91,848.65 L147.15,848.76 L147.39,848.88 L147.64,849.00 L147.88,849.12 L148.13,849.25 L148.37,849.38 L148.62,849.50 L148.86,849.64 L149.11,849.77 L149.35,849.91 L149.59,850.05 L149.84,850.19 L150.08,850.34 L150.33,850.49 L150.57,850.64 L150.82,850.79 L151.06,850.95 L151.30,851.11 L151.55,851.28 L151.79,851.44 L152.04,851.62 L152.28,851.79 L152.53,851.97 L152.77,852.15 L153.02,852.33 L153.26,852.52 L153.50,852.71 L153.75,852.91 L153.99,853.11 L154.24,853.31 L154.48,853.52 L154.73,853.73 L154.97,853.95 L155.22,854.17 L155.46,854.39 L155.70,854.62 L155.95,854.85 L156.19,855.09 L156.44,855.33 L156.68,855.58 L156.93,855.83 L157.17,856.09 L157.41,856.35 L157.66,856.62 L157.90,856.89 L158.15,857.17 L158.39,857.46 L158.64,857.74 L158.88,858.04 L159.13,858.34 L159.37,858.65 L159.61,858.96 L159.86,859.28 L160.10,859.60 L160.35,859.94 L160.59,860.27 L160.84,860.62 L161.08,860.97 L161.33,861.33 L161.57,861.70 L161.81,862.07 L162.06,862.45 L162.30,862.84 L162.55,863.23 L162.79,863.64 L163.04,864.05 L163.28,864.47 L163.52,864.89 L163.77,865.33 L164.01,865.78 L164.26,866.23 L164.50,866.69 L164.75,867.16 L164.99,867.64 L165.24,868.13 L165.48,868.63 L165.72,869.14 L165.97,869.66 L166.21,870.19 L166.46,870.74 L166.70,871.29 L166.95,871.85 L167.19,872.42 L167.44,873.01 L167.68,873.60 L167.92,874.21 L168.17,874.83 L168.41,875.46 L168.66,876.11 L168.90,876.77 L169.15,877.44 L169.39,878.12 L169.63,878.82 L169.88,879.53 L170.12,880.25 L170.37,880.99 L170.61,881.75 L170.86,882.52 L171.10,883.30 L171.35,884.10 L171.59,884.92 L171.83,885.75 L172.08,886.59 L172.32,887.46 L172.57,888.34 L172.81,889.24 L173.06,890.16 L173.30,891.09 L173.55,892.04 L173.79,893.02 L174.03,894.01 L174.28,895.02 L174.52,896.05 L174.77,897.10 L175.01,898.17 L175.26,899.27 L175.50,900.38 L175.74,901.52 L175.99,902.68 L176.23,903.86 L176.48,905.06 L176.72,906.29 L176.97,907.55 L177.21,908.82 L177.46,910.13 L177.52,910.46 L177.58,910.79 L177.64,911.12 L177.70,911.46 L177.76,911.79 L177.82,912.12 L177.94,912.78 L178.19,914.07 L178.43,915.32 L178.68,916.53 L178.92,917.70 L179.17,918.83 L179.41,919.92 L179.66,920.97 L179.90,921.98 L180.14,922.95 L180.39,923.88 L180.63,924.76 L180.88,925.60 L181.12,926.39 L181.37,927.15 L181.61,927.85 L181.85,928.51 L182.10,929.13 L182.34,929.70 L182.59,930.22 L182.83,930.70 L183.08,931.13 L183.32,931.52 L183.57,931.86 L183.81,932.15 L184.05,932.39 L184.30,932.59 L184.54,932.74 L184.79,932.84 L185.03,932.89 L185.28,932.90 L185.52,932.85 L185.77,932.77 L186.01,932.63 L186.25,932.44 L186.50,932.21 L186.74,931.93 L186.99,931.61 L187.23,931.23 L187.48,930.81 L187.72,930.34 L187.96,929.83 L188.21,929.27 L188.45,928.67 L188.70,928.02 L188.94,927.32 L189.19,926.58 L189.43,925.80 L189.68,924.97 L189.92,924.09 L190.16,923.18 L190.41,922.22 L190.65,921.22 L190.90,920.18 L191.14,919.10 L191.39,917.98 L191.63,916.81 L191.88,915.61 L192.12,914.37 L192.36,913.09 L192.61,911.78 L192.85,910.43 L193.10,909.04 L193.34,907.62 L193.59,906.16 L193.83,904.67 L194.07,903.15 L194.32,901.59 L194.56,900.01 L194.81,898.39 L195.05,896.75 L195.30,895.07 L195.54,893.37 L195.79,891.64 L196.03,889.89 L196.27,888.11 L196.52,886.30 L196.76,884.48 L197.01,882.63 L197.25,880.76 L197.50,878.87 L197.74,876.96 L197.99,875.04 L198.23,873.09 L198.47,871.13 L198.72,869.16 L198.96,867.17 L199.21,865.17 L199.45,863.15 L199.70,861.13 L199.94,859.09 L200.18,857.05 L200.43,855.00 L200.67,852.95 L200.92,850.88 L201.16,848.82 L201.41,846.75 L201.65,844.68 L201.90,842.60 L202.14,840.53 L202.38,838.46 L202.63,836.39 L202.87,834.33 L203.12,832.27 L203.36,830.21 L203.61,828.16 L203.85,826.12 L204.10,824.09 L204.34,822.07 L204.58,820.05 L204.83,818.05 L205.07,816.07 L205.32,814.10 L205.56,812.14 L205.81,810.20 L206.05,808.28 L206.29,806.37 L206.54,804.48 L206.78,802.62 L207.03,800.77 L207.27,798.95 L207.52,797.15 L207.76,795.38 L208.01,793.63 L208.25,791.91 L208.49,790.21 L208.74,788.54 L208.98,786.90 L209.23,785.29 L209.47,783.71 L209.72,782.16 L209.96,780.64 L210.21,779.16 L210.45,777.71 L210.69,776.29 L210.94,774.91 L211.18,773.57 L211.43,772.26 L211.67,770.99 L211.92,769.76 L212.16,768.56 L212.40,767.41 L212.65,766.29 L212.89,765.22 L213.14,764.19 L213.38,763.19 L213.63,762.24 L213.87,761.34 L214.12,760.47 L214.36,759.65 L214.60,758.88 L214.85,758.14 L215.09,757.46 L215.34,756.82 L215.58,756.22 L215.83,755.67 L216.07,755.16 L216.32,754.71 L216.56,754.29 L216.80,753.93 L217.05,753.61 L217.29,753.34 L217.54,753.12 L217.78,752.94 L218.03,752.81 L218.27,752.73 L218.51,752.70 L218.76,752.72 L219.00,752.78 L219.25,752.89 L219.49,753.05 L219.74,753.25 L219.98,753.50 L220.23,753.80 L220.47,754.15 L220.71,754.54 L220.96,754.98 L221.20,755.47 L221.45,756.00 L221.69,756.58 L221.94,757.21 L222.18,757.88 L222.43,758.59 L222.67,759.35 L222.91,760.16 L223.16,761.00 L223.40,761.89 L223.65,762.83 L223.89,763.80 L224.14,764.82 L224.38,765.88 L224.62,766.98 L224.87,768.12 L225.11,769.30 L225.36,770.52 L225.60,771.77 L225.85,773.07 L226.09,774.40 L226.34,775.76 L226.40,776.11 L226.46,776.46 L226.52,776.81 L226.58,777.17 L226.64,777.52 L226.70,777.87 L226.76,778.22 L226.82,778.57 L227.07,779.95 L227.31,781.29 L227.56,782.61 L227.80,783.90 L228.05,785.16 L228.29,786.39 L228.54,787.60 L228.78,788.78 L229.02,789.93 L229.27,791.07 L229.51,792.17 L229.76,793.26 L230.00,794.32 L230.25,795.36 L230.49,796.37 L230.73,797.36 L230.98,798.34 L231.22,799.29 L231.47,800.22 L231.71,801.13 L231.96,802.02 L232.20,802.90 L232.45,803.75 L232.69,804.59 L232.93,805.40 L233.18,806.20 L233.42,806.99 L233.67,807.75 L233.91,808.50 L234.16,809.24 L234.40,809.96 L234.65,810.66 L234.89,811.35 L235.13,812.02 L235.38,812.68 L235.62,813.32 L235.87,813.95 L236.11,814.57 L236.36,815.18 L236.60,815.77 L236.84,816.35 L237.09,816.91 L237.33,817.47 L237.58,818.01 L237.82,818.54 L238.07,819.06 L238.31,819.57 L238.56,820.06 L238.80,820.55 L239.04,821.03 L239.29,821.49 L239.53,821.95 L239.78,822.39 L240.02,822.83 L240.27,823.26 L240.51,823.68 L240.76,824.09 L241.00,824.49 L241.24,824.88 L241.49,825.26 L241.73,825.64 L241.98,826.00 L242.22,826.36 L242.47,826.72 L242.71,827.06 L242.95,827.40 L243.20,827.73 L243.44,828.05 L243.69,828.36 L243.93,828.67 L244.18,828.98 L244.42,829.27 L244.67,829.56 L244.91,829.84 L245.15,830.12 L245.40,830.39 L245.64,830.66 L245.89,830.92 L246.13,831.17 L246.38,831.42 L246.62,831.67 L246.87,831.90 L247.11,832.14 L247.35,832.37 L247.60,832.59 L247.84,832.81 L248.09,833.02 L248.33,833.23 L248.58,833.43 L248.82,833.64 L249.06,833.83 L249.31,834.02 L249.55,834.21 L249.80,834.40 L250.04,834.58 L250.29,834.75 L250.53,834.92 L250.78,835.09 L251.02,835.26 L251.26,835.42 L251.51,835.58 L251.75,835.73 L252.00,835.88 L252.24,836.03 L252.49,836.18 L252.73,836.32 L252.98,836.46 L253.22,836.59 L253.46,836.72 L253.71,836.85 L253.95,836.98 L254.20,837.11 L254.44,837.23 L254.69,837.35 L254.93,837.46 L255.17,837.58 L255.42,837.69 L255.66,837.80 L255.91,837.91 L256.15,838.01 L256.40,838.11 L256.64,838.21 L256.89,838.31 L257.13,838.41 L257.37,838.50 L257.62,838.59 L257.86,838.68 L258.11,838.77 L258.35,838.86 L258.60,838.94 L258.84,839.03 L259.09,839.11 L259.33,839.19 L259.57,839.26 L259.82,839.34 L260.06,839.41 L260.31,839.48 L260.55,839.56 L260.80,839.63 L261.04,839.69 L261.28,839.76 L261.53,839.82 L261.77,839.89 L262.02,839.95 L262.26,840.01 L262.51,840.07 L262.75,840.13 L263.00,840.19 L263.24,840.24 L263.48,840.30 L263.73,840.35 L263.97,840.40 L264.22,840.45 L264.46,840.50 L264.71,840.55 L264.95,840.60 L265.20,840.65 L265.44,840.70 L265.68,840.74 L265.93,840.78 L266.17,840.83 L266.42,840.87 L266.66,840.91 L266.91,840.95 L267.15,840.99 L267.39,841.03 L267.64,841.07 L267.88,841.10 L268.13,841.14 L268.37,841.18 L268.62,841.21 L268.86,841.25 L269.11,841.28 L269.35,841.31 L269.59,841.34 L269.84,841.37 L270.08,841.40 L270.33,841.43 L270.57,841.46 L270.82,841.49 L271.06,841.52 L271.31,841.55 L271.55,841.57 L271.79,841.60 L272.04,841.63 L272.28,841.65 L272.53,841.68 L272.77,841.70 L273.02,841.72 L273.26,841.75 L273.50,841.77 L273.75,841.79 L273.99,841.81 L274.24,841.83 L274.48,841.85 L274.73,841.87 L274.97,841.89 L275.22,841.91 L275.46,841.93 L275.70,841.95 L275.95,841.97 L276.19,841.99 L276.44,842.00 L276.68,842.02 L276.93,842.04 L277.17,842.05 L277.42,842.07 L277.66,842.09 L277.90,842.10 L278.15,842.12 L278.39,842.13 L278.64,842.15 L278.88,842.16 L279.13,842.17 L279.37,842.19 L279.61,842.20 L279.86,842.21 L280.10,842.23 L280.35,842.24 L280.59,842.25 L280.84,842.26 L281.08,842.27 L281.33,842.28 L281.57,842.30 L281.81,842.31 L282.06,842.32 L282.30,842.33 L282.55,842.34 L282.79,842.35 L283.04,842.36 L283.28,842.37 L283.53,842.38 L283.77,842.38 L284.01,842.39 L284.26,842.40 L284.50,842.41 L284.75,842.42 L284.99,842.43 L285.24,842.44 L285.48,842.44 L285.72,842.45 L285.97,842.46 L286.21,842.47 L286.46,842.47 L286.70,842.48 L286.95,842.49 L287.19,842.49 L287.44,842.50 L287.68,842.51 L287.92,842.51 L288.17,842.52 L288.41,842.52 L288.66,842.53 L288.90,842.54 L289.15,842.54 L289.39,842.55 L289.64,842.55 L289.88,842.56 L290.12,842.56 L290.37,842.57 L290.61,842.57 L290.86,842.58 L291.10,842.58 L291.35,842.59 L291.59,842.59 L291.83,842.60 L292.08,842.60 L292.32,842.61 L292.57,842.61 L292.81,842.61 L293.06,842.62 L293.30,842.62 L293.55,842.63 L293.79,842.63 L294.03,842.63 L294.28,842.64 L294.52,842.64 L294.77,842.64 L295.01,842.65 L295.26,842.65 L295.50,842.65 L295.75,842.66 L295.99,842.66 L296.23,842.66 L296.48,842.67 L296.72,842.67 L296.97,842.67 L297.21,842.67 L297.46,842.68 L297.70,842.68 L297.94,842.68 L298.19,842.68 L298.43,842.69 L298.68,842.69 L298.92,842.69 L299.17,842.69 L299.41,842.70 L299.66,842.70 L299.90,842.70" fill="none" stroke="#008000" stroke-width="4.00" stroke-linejoin="round" stroke-linecap="round"/>
<path clip-path="url(#cb1)" d="M389.00,842.79 L389.24,842.79 L389.49,842.78 L389.73,842.78 L389.98,842.78 L390.22,842.78 L390.47,842.78 L390.71,842.78 L390.96,842.78 L391.20,842.78 L391.44,842.78 L391.69,842.78 L391.93,842.78 L392.18,842.78 L392.42,842.78 L392.67,842.78 L392.91,842.78 L393.15,842.78 L393.40,842.78 L393.64,842.78 L393.89,842.78 L394.13,842.78 L394.38,842.78 L394.62,842.78 L394.87,842.78 L395.11,842.78 L395.35,842.78 L395.60,842.78 L395.84,842.78 L396.09,842.78 L396.33,842.78 L396.58,842.78 L396.82,842.78 L397.07,842.78 L397.31,842.78 L397.55,842.78 L397.80,842.78 L398.04,842.78 L398.29,842.78 L398.53,842.77 L398.78,842.77 L399.02,842.77 L399.26,842.77 L399.51,842.77 L399.75,842.77 L400.00,842.77 L400.24,842.77 L400.49,842.77 L400.73,842.77 L400.98,842.77 L401.22,842.77 L401.46,842.77 L401.71,842.77 L401.95,842.77 L402.20,842.77 L402.44,842.77 L402.69,842.77 L402.93,842.77 L403.18,842.77 L403.42,842.77 L403.66,842.77 L403.91,842.77 L404.15,842.77 L404.40,842.77 L404.64,842.76 L404.89,842.76 L405.13,842.76 L405.37,842.76 L405.62,842.76 L405.86,842.76 L406.11,842.76 L406.35,842.76 L406.60,842.76 L406.84,842.76 L407.09,842.76 L407.33,842.76 L407.57,842.76 L407.82,842.76 L408.06,842.76 L408.31,842.76 L408.55,842.76 L408.80,842.76 L409.04,842.75 L409.29,842.75 L409.53,842.75 L409.77,842.75 L410.02,842.75 L410.26,842.75 L410.51,842.75 L410.75,842.75 L411.00,842.75 L411.24,842.75 L411.48,842.75 L411.73,842.75 L411.97,842.75 L412.22,842.75 L412.46,842.75 L412.71,842.74 L412.95,842.74 L413.20,842.74 L413.44,842.74 L413.68,842.74 L413.93,842.74 L414.17,842.74 L414.42,842.74 L414.66,842.74 L414.91,842.74 L415.15,842.74 L415.40,842.74 L415.64,842.73 L415.88,842.73 L416.13,842.73 L416.37,842.73 L416.62,842.73 L416.86,842.73 L417.11,842.73 L417.35,842.73 L417.59,842.73 L417.84,842.73 L418.08,842.73 L418.33,842.72 L418.57,842.72 L418.82,842.72 L419.06,842.72 L419.31,842.72 L419.55,842.72 L419.79,842.72 L420.04,842.72 L420.28,842.72 L420.53,842.71 L420.77,842.71 L421.02,842.71 L421.26,842.71 L421.51,842.71 L421.75,842.71 L421.99,842.71 L422.24,842.71 L422.48,842.70 L422.73,842.70 L422.97,842.70 L423.22,842.70 L423.46,842.70 L423.70,842.70 L423.95,842.70 L424.19,842.70 L424.44,842.69 L424.68,842.69 L424.93,842.69 L425.17,842.69 L425.42,842.69 L425.66,842.69 L425.90,842.68 L426.15,842.68 L426.39,842.68 L426.64,842.68 L426.88,842.68 L427.13,842.68 L427.37,842.67 L427.62,842.67 L427.86,842.67 L428.10,842.67 L428.35,842.67 L428.59,842.67 L428.84,842.66 L429.08,842.66 L429.33,842.66 L429.57,842.66 L429.81,842.66 L430.06,842.65 L430.30,842.65 L430.55,842.65 L430.79,842.65 L431.04,842.65 L431.28,842.64 L431.53,842.64 L431.77,842.64 L432.01,842.64 L432.26,842.64 L432.50,842.63 L432.75,842.63 L432.99,842.63 L433.24,842.63 L433.48,842.62 L433.73,842.62 L433.97,842.62 L434.21,842.62 L434.46,842.61 L434.70,842.61 L434.95,842.61 L435.19,842.61 L435.44,842.60 L435.68,842.60 L435.92,842.60 L436.17,842.60 L436.41,842.59 L436.66,842.59 L436.90,842.59 L437.15,842.58 L437.39,842.58 L437.64,842.58 L437.88,842.58 L438.12,842.57 L438.37,842.57 L438.61,842.57 L438.86,842.56 L439.10,842.56 L439.35,842.56 L439.59,842.55 L439.84,842.55 L440.08,842.55 L440.32,842.54 L440.57,842.54 L440.81,842.54 L441.06,842.53 L441.30,842.53 L441.55,842.52 L441.79,842.52 L442.03,842.52 L442.28,842.51 L442.52,842.51 L442.77,842.50 L443.01,842.50 L443.26,842.50 L443.50,842.49 L443.75,842.49 L443.99,842.48 L444.23,842.48 L444.48,842.48 L444.72,842.47 L444.97,842.47 L445.21,842.46 L445.46,842.46 L445.70,842.45 L445.95,842.45 L446.19,842.44 L446.43,842.44 L446.68,842.43 L446.92,842.43 L447.17,842.42 L447.41,842.42 L447.66,842.41 L447.90,842.41 L448.14,842.40 L448.39,842.40 L448.63,842.39 L448.88,842.38 L449.12,842.38 L449.37,842.37 L449.61,842.37 L449.86,842.36 L450.10,842.36 L450.34,842.35 L450.59,842.34 L450.83,842.34 L451.08,842.33 L451.32,842.32 L451.57,842.32 L451.81,842.31 L452.06,842.30 L452.30,842.30 L452.54,842.29 L452.79,842.28 L453.03,842.28 L453.28,842.27 L453.52,842.26 L453.77,842.26 L454.01,842.25 L454.25,842.24 L454.50,842.23 L454.74,842.22 L454.99,842.22 L455.23,842.21 L455.48,842.20 L455.72,842.19 L455.97,842.18 L456.21,842.18 L456.45,842.17 L456.70,842.16 L456.94,842.15 L457.19,842.14 L457.43,842.13 L457.68,842.12 L457.92,842.11 L458.17,842.10 L458.41,842.09 L458.65,842.08 L458.90,842.07 L459.14,842.06 L459.39,842.05 L459.63,842.04 L459.88,842.03 L460.12,842.02 L460.36,842.01 L460.61,842.00 L460.85,841.99 L461.10,841.98 L461.34,841.97 L461.59,841.96 L461.83,841.95 L462.08,841.93 L462.32,841.92 L462.56,841.91 L462.81,841.90 L463.05,841.89 L463.30,841.87 L463.54,841.86 L463.79,841.85 L464.03,841.83 L464.28,841.82 L464.52,841.81 L464.76,841.79 L465.01,841.78 L465.25,841.77 L465.50,841.75 L465.74,841.74 L465.99,841.72 L466.23,841.71 L466.47,841.69 L466.72,841.68 L466.96,841.66 L467.21,841.65 L467.45,841.63 L467.70,841.62 L467.94,841.60 L468.19,841.58 L468.43,841.57 L468.67,841.55 L468.92,841.53 L469.16,841.52 L469.41,841.50 L469.65,841.48 L469.90,841.46 L470.14,841.44 L470.39,841.42 L470.63,841.41 L470.87,841.39 L471.12,841.37 L471.36,841.35 L471.61,841.33 L471.85,841.31 L472.10,841.29 L472.34,841.27 L472.58,841.25 L472.83,841.22 L473.07,841.20 L473.32,841.18 L473.56,841.16 L473.81,841.14 L474.05,841.11 L474.30,841.09 L474.54,841.07 L474.78,841.04 L475.03,841.02 L475.27,840.99 L475.52,840.97 L475.76,840.94 L476.01,840.92 L476.25,840.89 L476.50,840.87 L476.74,840.84 L476.98,840.81 L477.23,840.79 L477.47,840.76 L477.72,840.73 L477.96,840.70 L478.21,840.67 L478.45,840.64 L478.69,840.61 L478.94,840.58 L479.18,840.55 L479.43,840.52 L479.67,840.49 L479.92,840.46 L480.16,840.43 L480.41,840.40 L480.65,840.36 L480.89,840.33 L481.14,840.30 L481.38,840.26 L481.63,840.23 L481.87,840.19 L482.12,840.16 L482.36,840.12 L482.61,840.08 L482.85,840.05 L483.09,840.01 L483.34,839.97 L483.58,839.93 L483.83,839.89 L484.07,839.85 L484.32,839.81 L484.56,839.77 L484.80,839.73 L485.05,839.69 L485.29,839.64 L485.54,839.60 L485.78,839.56 L486.03,839.51 L486.27,839.47 L486.52,839.42 L486.76,839.38 L487.00,839.33 L487.25,839.28 L487.49,839.23 L487.74,839.18 L487.98,839.13 L488.23,839.08 L488.47,839.03 L488.72,838.98 L488.96,838.93 L489.20,838.88 L489.45,838.82 L489.69,838.77 L489.94,838.71 L490.18,838.66 L490.43,838.60 L490.67,838.54 L490.91,838.48 L491.16,838.42 L491.40,838.36 L491.65,838.30 L491.89,838.24 L492.14,838.18 L492.38,838.12 L492.63,838.05 L492.87,837.99 L493.11,837.92 L493.36,837.85 L493.60,837.79 L493.85,837.72 L494.09,837.65 L494.34,837.58 L494.58,837.51 L494.83,837.43 L495.07,837.36 L495.31,837.28 L495.56,837.21 L495.80,837.13 L496.05,837.05 L496.29,836.98 L496.54,836.90 L496.78,836.82 L497.02,836.73 L497.27,836.65 L497.51,836.57 L497.76,836.48 L498.00,836.39 L498.25,836.31 L498.49,836.22 L498.74,836.13 L498.98,836.04 L499.22,835.94 L499.47,835.85 L499.71,835.75 L499.96,835.66 L500.20,835.56 L500.45,835.46 L500.69,835.36 L500.94,835.26 L501.18,835.15 L501.42,835.05 L501.67,834.94 L501.91,834.83 L502.16,834.73 L502.40,834.61 L502.65,834.50 L502.89,834.39 L503.13,834.27 L503.38,834.16 L503.62,834.04 L503.87,833.92 L504.11,833.80 L504.36,833.67 L504.60,833.55 L504.85,833.42 L505.09,833.29 L505.33,833.16 L505.58,833.03 L505.82,832.90 L506.07,832.76 L506.31,832.62 L506.56,832.48 L506.80,832.34 L507.05,832.20 L507.29,832.05 L507.53,831.91 L507.78,831.76 L508.02,831.60 L508.27,831.45 L508.51,831.30 L508.76,831.14 L509.00,830.98 L509.24,830.82 L509.49,830.65 L509.73,830.48 L509.98,830.32 L510.22,830.14 L510.47,829.97 L510.71,829.80 L510.96,829.62 L511.02,829.57 L511.08,829.53 L511.14,829.48 L511.20,829.44 L511.26,829.11 L511.32,828.78 L511.44,828.13 L511.69,826.82 L511.93,825.51 L512.18,824.21 L512.42,822.92 L512.67,821.63 L512.91,820.34 L513.16,819.06 L513.40,817.78 L513.64,816.51 L513.89,815.24 L514.13,813.98 L514.38,812.73 L514.62,811.48 L514.87,810.24 L515.11,809.01 L515.35,807.78 L515.60,806.56 L515.84,805.35 L516.09,804.15 L516.33,802.96 L516.58,801.77 L516.82,800.59 L517.07,799.43 L517.31,798.27 L517.55,797.12 L517.80,795.98 L518.04,794.85 L518.29,793.73 L518.53,792.63 L518.78,791.53 L519.02,790.45 L519.27,789.37 L519.51,788.31 L519.75,787.26 L520.00,786.22 L520.24,785.19 L520.49,784.18 L520.73,783.18 L520.98,782.19 L521.22,781.22 L521.46,780.25 L521.71,779.31 L521.95,778.37 L522.20,777.45 L522.44,776.55 L522.69,775.65 L522.93,774.78 L523.18,773.91 L523.42,773.07 L523.66,772.23 L523.91,771.42 L524.15,770.61 L524.40,769.83 L524.64,769.06 L524.89,768.30 L525.13,767.57 L525.38,766.84 L525.62,766.14 L525.86,765.45 L526.11,764.78 L526.35,764.12 L526.60,763.49 L526.84,762.86 L527.09,762.26 L527.33,761.67 L527.57,761.11 L527.82,760.56 L528.06,760.02 L528.31,759.51 L528.55,759.01 L528.80,758.53 L529.04,758.07 L529.29,757.63 L529.53,757.21 L529.77,756.80 L530.02,756.42 L530.26,756.05 L530.51,755.70 L530.75,755.37 L531.00,755.06 L531.24,754.77 L531.49,754.49 L531.73,754.24 L531.97,754.00 L532.22,753.79 L532.46,753.59 L532.71,753.42 L532.95,753.26 L533.20,753.12 L533.44,753.00 L533.68,752.90 L533.93,752.82 L534.17,752.76 L534.42,752.72 L534.66,752.70 L534.91,752.70 L535.15,752.72 L535.40,752.76 L535.64,752.81 L535.88,752.89 L536.13,752.99 L536.37,753.10 L536.62,753.24 L536.86,753.39 L537.11,753.57 L537.35,753.76 L537.60,753.97 L537.84,754.20 L538.08,754.46 L538.33,754.73 L538.57,755.02 L538.82,755.32 L539.06,755.65 L539.31,756.00 L539.55,756.36 L539.79,756.75 L540.04,757.15 L540.28,757.57 L540.53,758.01 L540.77,758.47 L541.02,758.94 L541.26,759.44 L541.51,759.95 L541.75,760.48 L541.99,761.03 L542.24,761.59 L542.48,762.18 L542.73,762.78 L542.97,763.40 L543.22,764.03 L543.46,764.68 L543.71,765.35 L543.95,766.04 L544.19,766.74 L544.44,767.46 L544.68,768.20 L544.93,768.95 L545.17,769.72 L545.42,770.50 L545.66,771.30 L545.90,772.12 L546.15,772.95 L546.39,773.79 L546.64,774.65 L546.88,775.53 L547.13,776.42 L547.37,777.32 L547.62,778.24 L547.86,779.17 L548.10,780.12 L548.35,781.08 L548.59,782.05 L548.84,783.04 L549.08,784.04 L549.33,785.05 L549.57,786.07 L549.82,787.11 L550.06,788.16 L550.30,789.22 L550.55,790.29 L550.79,791.38 L551.04,792.47 L551.28,793.58 L551.53,794.69 L551.77,795.82 L552.01,796.96 L552.26,798.10 L552.50,799.26 L552.75,800.43 L552.99,801.60 L553.24,802.79 L553.48,803.98 L553.73,805.18 L553.97,806.39 L554.21,807.61 L554.46,808.83 L554.70,810.07 L554.95,811.30 L555.19,812.55 L555.44,813.80 L555.68,815.06 L555.93,816.33 L556.17,817.60 L556.41,818.88 L556.66,820.16 L556.90,821.44 L557.15,822.73 L557.39,824.03 L557.64,825.33 L557.88,826.63 L558.12,827.94 L558.37,829.25 L558.61,830.56 L558.86,831.88 L559.10,833.20 L559.35,834.52 L559.59,835.84 L559.84,837.16 L559.90,837.49 L559.96,837.82 L560.02,838.16 L560.08,838.49 L560.14,838.50 L560.20,838.52 L560.26,838.54 L560.32,838.56 L560.57,838.63 L560.81,838.70 L561.06,838.77 L561.30,838.83 L561.55,838.90 L561.79,838.97 L562.04,839.03 L562.28,839.09 L562.52,839.16 L562.77,839.22 L563.01,839.28 L563.26,839.33 L563.50,839.39 L563.75,839.45 L563.99,839.51 L564.23,839.56 L564.48,839.61 L564.72,839.67 L564.97,839.72 L565.21,839.77 L565.46,839.82 L565.70,839.87 L565.95,839.92 L566.19,839.97 L566.43,840.02 L566.68,840.06 L566.92,840.11 L567.17,840.15 L567.41,840.20 L567.66,840.24 L567.90,840.28 L568.15,840.33 L568.39,840.37 L568.63,840.41 L568.88,840.45 L569.12,840.49 L569.37,840.53 L569.61,840.56 L569.86,840.60 L570.10,840.64 L570.34,840.67 L570.59,840.71 L570.83,840.74 L571.08,840.78 L571.32,840.81 L571.57,840.84 L571.81,840.88 L572.06,840.91 L572.30,840.94 L572.54,840.97 L572.79,841.00 L573.03,841.03 L573.28,841.06 L573.52,841.09 L573.77,841.12 L574.01,841.15 L574.26,841.18 L574.50,841.20 L574.74,841.23 L574.99,841.26 L575.23,841.28 L575.48,841.31 L575.72,841.33 L575.97,841.36 L576.21,841.38 L576.45,841.40 L576.70,841.43 L576.94,841.45 L577.19,841.47 L577.43,841.49 L577.68,841.52 L577.92,841.54 L578.17,841.56 L578.41,841.58 L578.65,841.60 L578.90,841.62 L579.14,841.64 L579.39,841.66 L579.63,841.68 L579.88,841.70 L580.12,841.72 L580.37,841.73 L580.61,841.75 L580.85,841.77 L581.10,841.79 L581.34,841.80 L581.59,841.82 L581.83,841.84 L582.08,841.85 L582.32,841.87 L582.56,841.88 L582.81,841.90 L583.05,841.91 L583.30,841.93 L583.54,841.94 L583.79,841.96 L584.03,841.97 L584.28,841.99 L584.52,842.00 L584.76,842.01 L585.01,842.03 L585.25,842.04 L585.50,842.05 L585.74,842.06 L585.99,842.08 L586.23,842.09 L586.48,842.10 L586.72,842.11 L586.96,842.12 L587.21,842.13 L587.45,842.15 L587.70,842.16 L587.94,842.17 L588.19,842.18 L588.43,842.19 L588.67,842.20 L588.92,842.21 L589.16,842.22 L589.41,842.23 L589.65,842.24 L589.90,842.25 L590.14,842.26 L590.39,842.27 L590.63,842.27 L590.87,842.28 L591.12,842.29 L591.36,842.30 L591.61,842.31 L591.85,842.32 L592.10,842.32 L592.34,842.33 L592.59,842.34 L592.83,842.35 L593.07,842.36 L593.32,842.36 L593.56,842.37 L593.81,842.38 L594.05,842.38 L594.30,842.39 L594.54,842.40 L594.78,842.41 L595.03,842.41 L595.27,842.42 L595.52,842.42 L595.76,842.43 L596.01,842.44 L596.25,842.44 L596.50,842.45 L596.74,842.45 L596.98,842.46 L597.23,842.47 L597.47,842.47 L597.72,842.48 L597.96,842.48 L598.21,842.49 L598.45,842.49 L598.70,842.50 L598.94,842.50 L599.18,842.51 L599.43,842.51 L599.67,842.52 L599.92,842.52 L600.16,842.53 L600.41,842.53 L600.65,842.54 L600.89,842.54 L601.14,842.55 L601.38,842.55 L601.63,842.55 L601.87,842.56 L602.12,842.56 L602.36,842.57 L602.61,842.57 L602.85,842.57 L603.09,842.58 L603.34,842.58 L603.58,842.58 L603.83,842.59 L604.07,842.59 L604.32,842.60 L604.56,842.60 L604.81,842.60 L605.05,842.61 L605.29,842.61 L605.54,842.61 L605.78,842.61 L606.03,842.62 L606.27,842.62 L606.52,842.62 L606.76,842.63 L607.00,842.63 L607.25,842.63 L607.49,842.64 L607.74,842.64 L607.98,842.64 L608.23,842.64 L608.47,842.65 L608.72,842.65 L608.96,842.65 L609.20,842.65 L609.45,842.66 L609.69,842.66 L609.94,842.66 L610.18,842.66 L610.43,842.67 L610.67,842.67 L610.92,842.67 L611.16,842.67 L611.40,842.67 L611.65,842.68 L611.89,842.68 L612.14,842.68 L612.38,842.68 L612.63,842.68 L612.87,842.69 L613.11,842.69 L613.36,842.69 L613.60,842.69 L613.85,842.69 L614.09,842.70 L614.34,842.70 L614.58,842.70 L614.83,842.70 L615.07,842.70 L615.31,842.70 L615.56,842.71 L615.80,842.71 L616.05,842.71 L616.29,842.71 L616.54,842.71 L616.78,842.71 L617.03,842.71 L617.27,842.72 L617.51,842.72 L617.76,842.72 L618.00,842.72 L618.25,842.72 L618.49,842.72 L618.74,842.72 L618.98,842.73 L619.22,842.73 L619.47,842.73 L619.71,842.73 L619.96,842.73 L620.20,842.73 L620.45,842.73 L620.69,842.73 L620.94,842.73 L621.18,842.74 L621.42,842.74 L621.67,842.74 L621.91,842.74 L622.16,842.74 L622.40,842.74 L622.65,842.74 L622.89,842.74 L623.14,842.74 L623.38,842.74 L623.62,842.75 L623.87,842.75 L624.11,842.75 L624.36,842.75 L624.60,842.75 L624.85,842.75 L625.09,842.75 L625.33,842.75 L625.58,842.75 L625.82,842.75 L626.07,842.75 L626.31,842.75 L626.56,842.76 L626.80,842.76 L627.05,842.76 L627.29,842.76 L627.53,842.76 L627.78,842.76 L628.02,842.76 L628.27,842.76 L628.51,842.76 L628.76,842.76 L629.00,842.76 L629.25,842.76 L629.49,842.76 L629.73,842.76 L629.98,842.77 L630.22,842.77 L630.47,842.77 L630.71,842.77 L630.96,842.77 L631.20,842.77 L631.44,842.77 L631.69,842.77 L631.93,842.77 L632.18,842.77 L632.42,842.77 L632.67,842.77 L632.91,842.77 L633.16,842.77 L633.40,842.77" fill="none" stroke="#000000" stroke-width="4.00" stroke-linejoin="round" stroke-linecap="round"/>
<path clip-path="url(#cb1)" d="M389.00,857.01 L389.24,857.06 L389.49,857.10 L389.73,857.15 L389.98,857.19 L390.22,857.24 L390.47,857.28 L390.71,857.33 L390.96,857.37 L391.20,857.42 L391.44,857.47 L391.69,857.51 L391.93,857.56 L392.18,857.61 L392.42,857.65 L392.67,857.70 L392.91,857.75 L393.15,857.79 L393.40,857.84 L393.64,857.89 L393.89,857.93 L394.13,857.98 L394.38,858.03 L394.62,858.08 L394.87,858.13 L395.11,858.17 L395.35,858.22 L395.60,858.27 L395.84,858.32 L396.09,858.37 L396.33,858.42 L396.58,858.47 L396.82,858.52 L397.07,858.57 L397.31,858.62 L397.55,858.66 L397.80,858.71 L398.04,858.76 L398.29,858.82 L398.53,858.87 L398.78,858.92 L399.02,858.97 L399.26,859.02 L399.51,859.07 L399.75,859.12 L400.00,859.17 L400.24,859.22 L400.49,859.27 L400.73,859.33 L400.98,859.38 L401.22,859.43 L401.46,859.48 L401.71,859.54 L401.95,859.59 L402.20,859.64 L402.44,859.69 L402.69,859.75 L402.93,859.80 L403.18,859.85 L403.42,859.91 L403.66,859.96 L403.91,860.02 L404.15,860.07 L404.40,860.12 L404.64,860.18 L404.89,860.23 L405.13,860.29 L405.37,860.34 L405.62,860.40 L405.86,860.45 L406.11,860.51 L406.35,860.57 L406.60,860.62 L406.84,860.68 L407.09,860.73 L407.33,860.79 L407.57,860.85 L407.82,860.90 L408.06,860.96 L408.31,861.02 L408.55,861.07 L408.80,861.13 L409.04,861.19 L409.29,861.25 L409.53,861.31 L409.77,861.36 L410.02,861.42 L410.26,861.48 L410.51,861.54 L410.75,861.60 L411.00,861.66 L411.24,861.72 L411.48,861.78 L411.73,861.84 L411.97,861.90 L412.22,861.96 L412.46,862.02 L412.71,862.08 L412.95,862.14 L413.20,862.20 L413.44,862.26 L413.68,862.32 L413.93,862.38 L414.17,862.44 L414.42,862.51 L414.66,862.57 L414.91,862.63 L415.15,862.69 L415.40,862.76 L415.64,862.82 L415.88,862.88 L416.13,862.94 L416.37,863.01 L416.62,863.07 L416.86,863.13 L417.11,863.20 L417.35,863.26 L417.59,863.33 L417.84,863.39 L418.08,863.46 L418.33,863.52 L418.57,863.59 L418.82,863.65 L419.06,863.72 L419.31,863.78 L419.55,863.85 L419.79,863.92 L420.04,863.98 L420.28,864.05 L420.53,864.12 L420.77,864.18 L421.02,864.25 L421.26,864.32 L421.51,864.39 L421.75,864.45 L421.99,864.52 L422.24,864.59 L422.48,864.66 L422.73,864.73 L422.97,864.80 L423.22,864.87 L423.46,864.94 L423.70,865.01 L423.95,865.08 L424.19,865.15 L424.44,865.22 L424.68,865.29 L424.93,865.36 L425.17,865.43 L425.42,865.50 L425.66,865.57 L425.90,865.64 L426.15,865.71 L426.39,865.79 L426.64,865.86 L426.88,865.93 L427.13,866.00 L427.37,866.08 L427.62,866.15 L427.86,866.22 L428.10,866.30 L428.35,866.37 L428.59,866.45 L428.84,866.52 L429.08,866.59 L429.33,866.67 L429.57,866.74 L429.81,866.82 L430.06,866.90 L430.30,866.97 L430.55,867.05 L430.79,867.12 L431.04,867.20 L431.28,867.28 L431.53,867.35 L431.77,867.43 L432.01,867.51 L432.26,867.59 L432.50,867.66 L432.75,867.74 L432.99,867.82 L433.24,867.90 L433.48,867.98 L433.73,868.06 L433.97,868.14 L434.21,868.22 L434.46,868.30 L434.70,868.38 L434.95,868.46 L435.19,868.54 L435.44,868.62 L435.68,868.70 L435.92,868.78 L436.17,868.86 L436.41,868.95 L436.66,869.03 L436.90,869.11 L437.15,869.19 L437.39,869.28 L437.64,869.36 L437.88,869.44 L438.12,869.53 L438.37,869.61 L438.61,869.70 L438.86,869.78 L439.10,869.87 L439.35,869.95 L439.59,870.04 L439.84,870.12 L440.08,870.21 L440.32,870.29 L440.57,870.38 L440.81,870.47 L441.06,870.56 L441.30,870.64 L441.55,870.73 L441.79,870.82 L442.03,870.91 L442.28,870.99 L442.52,871.08 L442.77,871.17 L443.01,871.26 L443.26,871.35 L443.50,871.44 L443.75,871.53 L443.99,871.62 L444.23,871.71 L444.48,871.80 L444.72,871.89 L444.97,871.99 L445.21,872.08 L445.46,872.17 L445.70,872.26 L445.95,872.36 L446.19,872.45 L446.43,872.54 L446.68,872.64 L446.92,872.73 L447.17,872.82 L447.41,872.92 L447.66,873.01 L447.90,873.11 L448.14,873.20 L448.39,873.30 L448.63,873.39 L448.88,873.49 L449.12,873.59 L449.37,873.68 L449.61,873.78 L449.86,873.88 L450.10,873.98 L450.34,874.07 L450.59,874.17 L450.83,874.27 L451.08,874.37 L451.32,874.47 L451.57,874.57 L451.81,874.67 L452.06,874.77 L452.30,874.87 L452.54,874.97 L452.79,875.07 L453.03,875.17 L453.28,875.28 L453.52,875.38 L453.77,875.48 L454.01,875.58 L454.25,875.69 L454.50,875.79 L454.74,875.89 L454.99,876.00 L455.23,876.10 L455.48,876.21 L455.72,876.31 L455.97,876.42 L456.21,876.52 L456.45,876.63 L456.70,876.74 L456.94,876.84 L457.19,876.95 L457.43,877.06 L457.68,877.17 L457.92,877.27 L458.17,877.38 L458.41,877.49 L458.65,877.60 L458.90,877.71 L459.14,877.82 L459.39,877.93 L459.63,878.04 L459.88,878.15 L460.12,878.26 L460.36,878.38 L460.61,878.49 L460.85,878.60 L461.10,878.71 L461.34,878.83 L461.59,878.94 L461.83,879.05 L462.08,879.17 L462.32,879.28 L462.56,879.40 L462.81,879.51 L463.05,879.63 L463.30,879.74 L463.54,879.86 L463.79,879.98 L464.03,880.09 L464.28,880.21 L464.52,880.33 L464.76,880.45 L465.01,880.56 L465.25,880.68 L465.50,880.80 L465.74,880.92 L465.99,881.04 L466.23,881.16 L466.47,881.28 L466.72,881.40 L466.96,881.53 L467.21,881.65 L467.45,881.77 L467.70,881.89 L467.94,882.01 L468.19,882.14 L468.43,882.26 L468.67,882.39 L468.92,882.51 L469.16,882.64 L469.41,882.76 L469.65,882.89 L469.90,883.01 L470.14,883.14 L470.39,883.27 L470.63,883.39 L470.87,883.52 L471.12,883.65 L471.36,883.78 L471.61,883.91 L471.85,884.04 L472.10,884.17 L472.34,884.30 L472.58,884.43 L472.83,884.56 L473.07,884.69 L473.32,884.82 L473.56,884.95 L473.81,885.09 L474.05,885.22 L474.30,885.35 L474.54,885.49 L474.78,885.62 L475.03,885.76 L475.27,885.89 L475.52,886.03 L475.76,886.16 L476.01,886.30 L476.25,886.44 L476.50,886.57 L476.74,886.71 L476.98,886.85 L477.23,886.99 L477.47,887.13 L477.72,887.27 L477.96,887.41 L478.21,887.55 L478.45,887.69 L478.69,887.83 L478.94,887.97 L479.18,888.11 L479.43,888.26 L479.67,888.40 L479.92,888.54 L480.16,888.69 L480.41,888.83 L480.65,888.98 L480.89,889.12 L481.14,889.27 L481.38,889.41 L481.63,889.56 L481.87,889.71 L482.12,889.85 L482.36,890.00 L482.61,890.15 L482.85,890.30 L483.09,890.45 L483.34,890.60 L483.58,890.75 L483.83,890.90 L484.07,891.05 L484.32,891.20 L484.56,891.36 L484.80,891.51 L485.05,891.66 L485.29,891.82 L485.54,891.97 L485.78,892.13 L486.03,892.28 L486.27,892.44 L486.52,892.59 L486.76,892.75 L487.00,892.91 L487.25,893.06 L487.49,893.22 L487.74,893.38 L487.98,893.54 L488.23,893.70 L488.47,893.86 L488.72,894.02 L488.96,894.18 L489.20,894.34 L489.45,894.51 L489.69,894.67 L489.94,894.83 L490.18,895.00 L490.43,895.16 L490.67,895.32 L490.91,895.49 L491.16,895.66 L491.40,895.82 L491.65,895.99 L491.89,896.16 L492.14,896.32 L492.38,896.49 L492.63,896.66 L492.87,896.83 L493.11,897.00 L493.36,897.17 L493.60,897.34 L493.85,897.51 L494.09,897.69 L494.34,897.86 L494.58,898.03 L494.83,898.21 L495.07,898.38 L495.31,898.56 L495.56,898.73 L495.80,898.91 L496.05,899.08 L496.29,899.26 L496.54,899.44 L496.78,899.62 L497.02,899.80 L497.27,899.97 L497.51,900.15 L497.76,900.34 L498.00,900.52 L498.25,900.70 L498.49,900.88 L498.74,901.06 L498.98,901.25 L499.22,901.43 L499.47,901.61 L499.71,901.80 L499.96,901.99 L500.20,902.17 L500.45,902.36 L500.69,902.55 L500.94,902.73 L501.18,902.92 L501.42,903.11 L501.67,903.30 L501.91,903.49 L502.16,903.68 L502.40,903.87 L502.65,904.07 L502.89,904.26 L503.13,904.45 L503.38,904.65 L503.62,904.84 L503.87,905.04 L504.11,905.23 L504.36,905.43 L504.60,905.63 L504.85,905.82 L505.09,906.02 L505.33,906.22 L505.58,906.42 L505.82,906.62 L506.07,906.82 L506.31,907.02 L506.56,907.23 L506.80,907.43 L507.05,907.63 L507.29,907.84 L507.53,908.04 L507.78,908.25 L508.02,908.45 L508.27,908.66 L508.51,908.87 L508.76,909.07 L509.00,909.28 L509.24,909.49 L509.49,909.70 L509.73,909.91 L509.98,910.12 L510.22,910.34 L510.47,910.55 L510.71,910.76 L510.96,910.97 L511.02,911.03 L511.08,911.08 L511.14,911.14 L511.20,911.19 L511.26,911.58 L511.32,911.96 L511.44,912.71 L511.69,914.19 L511.93,915.62 L512.18,916.99 L512.42,918.32 L512.67,919.59 L512.91,920.81 L513.16,921.97 L513.40,923.08 L513.64,924.13 L513.89,925.13 L514.13,926.07 L514.38,926.95 L514.62,927.77 L514.87,928.53 L515.11,929.23 L515.35,929.87 L515.60,930.45 L515.84,930.97 L516.09,931.43 L516.33,931.83 L516.58,932.16 L516.82,932.44 L517.07,932.65 L517.31,932.79 L517.55,932.88 L517.80,932.90 L518.04,932.86 L518.29,932.75 L518.53,932.59 L518.78,932.36 L519.02,932.06 L519.27,931.71 L519.51,931.29 L519.75,930.82 L520.00,930.28 L520.24,929.67 L520.49,929.01 L520.73,928.29 L520.98,927.51 L521.22,926.67 L521.46,925.77 L521.71,924.82 L521.95,923.80 L522.20,922.73 L522.44,921.60 L522.69,920.42 L522.93,919.19 L523.18,917.90 L523.42,916.56 L523.66,915.17 L523.91,913.72 L524.15,912.23 L524.40,910.69 L524.64,909.10 L524.89,907.47 L525.13,905.79 L525.38,904.06 L525.62,902.30 L525.86,900.49 L526.11,898.64 L526.35,896.76 L526.60,894.83 L526.84,892.87 L527.09,890.87 L527.33,888.85 L527.57,886.78 L527.82,884.69 L528.06,882.57 L528.31,880.42 L528.55,878.25 L528.80,876.05 L529.04,873.82 L529.29,871.58 L529.53,869.31 L529.77,867.03 L530.02,864.73 L530.26,862.41 L530.51,860.08 L530.75,857.74 L531.00,855.39 L531.24,853.03 L531.49,850.66 L531.73,848.29 L531.97,845.91 L532.22,843.53 L532.46,841.15 L532.71,838.77 L532.95,836.40 L533.20,834.02 L533.44,831.66 L533.68,829.30 L533.93,826.95 L534.17,824.62 L534.42,822.29 L534.66,819.98 L534.91,817.69 L535.15,815.41 L535.40,813.15 L535.64,810.92 L535.88,808.70 L536.13,806.51 L536.37,804.35 L536.62,802.21 L536.86,800.10 L537.11,798.02 L537.35,795.97 L537.60,793.95 L537.84,791.97 L538.08,790.02 L538.33,788.11 L538.57,786.24 L538.82,784.41 L539.06,782.61 L539.31,780.86 L539.55,779.16 L539.79,777.50 L540.04,775.88 L540.28,774.31 L540.53,772.79 L540.77,771.31 L541.02,769.89 L541.26,768.52 L541.51,767.20 L541.75,765.93 L541.99,764.71 L542.24,763.55 L542.48,762.45 L542.73,761.40 L542.97,760.41 L543.22,759.47 L543.46,758.60 L543.71,757.78 L543.95,757.02 L544.19,756.32 L544.44,755.69 L544.68,755.11 L544.93,754.59 L545.17,754.14 L545.42,753.75 L545.66,753.42 L545.90,753.15 L546.15,752.94 L546.39,752.80 L546.64,752.72 L546.88,752.70 L547.13,752.75 L547.37,752.86 L547.62,753.03 L547.86,753.26 L548.10,753.56 L548.35,753.92 L548.59,754.34 L548.84,754.82 L549.08,755.36 L549.33,755.97 L549.57,756.63 L549.82,757.36 L550.06,758.14 L550.30,758.99 L550.55,759.89 L550.79,760.85 L551.04,761.87 L551.28,762.94 L551.53,764.07 L551.77,765.26 L552.01,766.49 L552.26,767.79 L552.50,769.13 L552.75,770.53 L552.99,771.97 L553.24,773.47 L553.48,775.01 L553.73,776.60 L553.97,778.24 L554.21,779.92 L554.46,781.65 L554.70,783.42 L554.95,785.23 L555.19,787.08 L555.44,788.97 L555.68,790.90 L555.93,792.86 L556.17,794.86 L556.41,796.89 L556.66,798.95 L556.90,801.05 L557.15,803.17 L557.39,805.32 L557.64,807.50 L557.88,809.70 L558.12,811.93 L558.37,814.17 L558.61,816.44 L558.86,818.72 L559.10,821.02 L559.35,823.34 L559.59,825.67 L559.84,828.01 L559.90,828.60 L559.96,829.19 L560.02,829.78 L560.08,830.37 L560.14,830.40 L560.20,830.43 L560.26,830.46 L560.32,830.49 L560.57,830.62 L560.81,830.75 L561.06,830.87 L561.30,831.00 L561.55,831.12 L561.79,831.24 L562.04,831.36 L562.28,831.48 L562.52,831.59 L562.77,831.71 L563.01,831.82 L563.26,831.94 L563.50,832.05 L563.75,832.16 L563.99,832.27 L564.23,832.38 L564.48,832.49 L564.72,832.59 L564.97,832.70 L565.21,832.80 L565.46,832.91 L565.70,833.01 L565.95,833.11 L566.19,833.21 L566.43,833.31 L566.68,833.41 L566.92,833.50 L567.17,833.60 L567.41,833.70 L567.66,833.79 L567.90,833.88 L568.15,833.98 L568.39,834.07 L568.63,834.16 L568.88,834.25 L569.12,834.33 L569.37,834.42 L569.61,834.51 L569.86,834.59 L570.10,834.68 L570.34,834.76 L570.59,834.85 L570.83,834.93 L571.08,835.01 L571.32,835.09 L571.57,835.17 L571.81,835.25 L572.06,835.33 L572.30,835.40 L572.54,835.48 L572.79,835.56 L573.03,835.63 L573.28,835.71 L573.52,835.78 L573.77,835.85 L574.01,835.92 L574.26,835.99 L574.50,836.06 L574.74,836.13 L574.99,836.20 L575.23,836.27 L575.48,836.34 L575.72,836.41 L575.97,836.47 L576.21,836.54 L576.45,836.60 L576.70,836.67 L576.94,836.73 L577.19,836.79 L577.43,836.85 L577.68,836.92 L577.92,836.98 L578.17,837.04 L578.41,837.10 L578.65,837.15 L578.90,837.21 L579.14,837.27 L579.39,837.33 L579.63,837.38 L579.88,837.44 L580.12,837.50 L580.37,837.55 L580.61,837.60 L580.85,837.66 L581.10,837.71 L581.34,837.76 L581.59,837.82 L581.83,837.87 L582.08,837.92 L582.32,837.97 L582.56,838.02 L582.81,838.07 L583.05,838.12 L583.30,838.17 L583.54,838.21 L583.79,838.26 L584.03,838.31 L584.28,838.35 L584.52,838.40 L584.76,838.45 L585.01,838.49 L585.25,838.54 L585.50,838.58 L585.74,838.62 L585.99,838.67 L586.23,838.71 L586.48,838.75 L586.72,838.79 L586.96,838.83 L587.21,838.88 L587.45,838.92 L587.70,838.96 L587.94,839.00 L588.19,839.04 L588.43,839.07 L588.67,839.11 L588.92,839.15 L589.16,839.19 L589.41,839.23 L589.65,839.26 L589.90,839.30 L590.14,839.34 L590.39,839.37 L590.63,839.41 L590.87,839.44 L591.12,839.48 L591.36,839.51 L591.61,839.55 L591.85,839.58 L592.10,839.61 L592.34,839.64 L592.59,839.68 L592.83,839.71 L593.07,839.74 L593.32,839.77 L593.56,839.80 L593.81,839.84 L594.05,839.87 L594.30,839.90 L594.54,839.93 L594.78,839.96 L595.03,839.99 L595.27,840.01 L595.52,840.04 L595.76,840.07 L596.01,840.10 L596.25,840.13 L596.50,840.16 L596.74,840.18 L596.98,840.21 L597.23,840.24 L597.47,840.26 L597.72,840.29 L597.96,840.32 L598.21,840.34 L598.45,840.37 L598.70,840.39 L598.94,840.42 L599.18,840.44 L599.43,840.47 L599.67,840.49 L599.92,840.51 L600.16,840.54 L600.41,840.56 L600.65,840.58 L600.89,840.61 L601.14,840.63 L601.38,840.65 L601.63,840.67 L601.87,840.70 L602.12,840.72 L602.36,840.74 L602.61,840.76 L602.85,840.78 L603.09,840.80 L603.34,840.82 L603.58,840.84 L603.83,840.86 L604.07,840.88 L604.32,840.90 L604.56,840.92 L604.81,840.94 L605.05,840.96 L605.29,840.98 L605.54,841.00 L605.78,841.02 L606.03,841.04 L606.27,841.05 L606.52,841.07 L606.76,841.09 L607.00,841.11 L607.25,841.13 L607.49,841.14 L607.74,841.16 L607.98,841.18 L608.23,841.19 L608.47,841.21 L608.72,841.23 L608.96,841.24 L609.20,841.26 L609.45,841.28 L609.69,841.29 L609.94,841.31 L610.18,841.32 L610.43,841.34 L610.67,841.35 L610.92,841.37 L611.16,841.38 L611.40,841.40 L611.65,841.41 L611.89,841.43 L612.14,841.44 L612.38,841.45 L612.63,841.47 L612.87,841.48 L613.11,841.50 L613.36,841.51 L613.60,841.52 L613.85,841.54 L614.09,841.55 L614.34,841.56 L614.58,841.57 L614.83,841.59 L615.07,841.60 L615.31,841.61 L615.56,841.62 L615.80,841.64 L616.05,841.65 L616.29,841.66 L616.54,841.67 L616.78,841.68 L617.03,841.70 L617.27,841.71 L617.51,841.72 L617.76,841.73 L618.00,841.74 L618.25,841.75 L618.49,841.76 L618.74,841.77 L618.98,841.78 L619.22,841.79 L619.47,841.80 L619.71,841.81 L619.96,841.82 L620.20,841.83 L620.45,841.84 L620.69,841.85 L620.94,841.86 L621.18,841.87 L621.42,841.88 L621.67,841.89 L621.91,841.90 L622.16,841.91 L622.40,841.92 L622.65,841.93 L622.89,841.94 L623.14,841.95 L623.38,841.96 L623.62,841.97 L623.87,841.97 L624.11,841.98 L624.36,841.99 L624.60,842.00 L624.85,842.01 L625.09,842.02 L625.33,842.02 L625.58,842.03 L625.82,842.04 L626.07,842.05 L626.31,842.06 L626.56,842.06 L626.80,842.07 L627.05,842.08 L627.29,842.09 L627.53,842.09 L627.78,842.10 L628.02,842.11 L628.27,842.11 L628.51,842.12 L628.76,842.13 L629.00,842.14 L629.25,842.14 L629.49,842.15 L629.73,842.16 L629.98,842.16 L630.22,842.17 L630.47,842.18 L630.71,842.18 L630.96,842.19 L631.20,842.20 L631.44,842.20 L631.69,842.21 L631.93,842.21 L632.18,842.22 L632.42,842.23 L632.67,842.23 L632.91,842.24 L633.16,842.24 L633.40,842.25" fill="none" stroke="#0000ff" stroke-width="4.00" stroke-linejoin="round" stroke-linecap="round"/>
<path clip-path="url(#cb2)" d="M722.80,842.83 L723.04,842.83 L723.29,842.83 L723.53,842.83 L723.78,842.83 L724.02,842.83 L724.27,842.83 L724.51,842.83 L724.76,842.83 L725.00,842.83 L725.24,842.83 L725.49,842.83 L725.73,842.83 L725.98,842.83 L726.22,842.83 L726.47,842.83 L726.71,842.84 L726.95,842.84 L727.20,842.84 L727.44,842.84 L727.69,842.84 L727.93,842.84 L728.18,842.84 L728.42,842.84 L728.67,842.84 L728.91,842.84 L729.15,842.84 L729.40,842.84 L729.64,842.84 L729.89,842.84 L730.13,842.84 L730.38,842.84 L730.62,842.84 L730.87,842.84 L731.11,842.85 L731.35,842.85 L731.60,842.85 L731.84,842.85 L732.09,842.85 L732.33,842.85 L732.58,842.85 L732.82,842.85 L733.06,842.85 L733.31,842.85 L733.55,842.85 L733.80,842.85 L734.04,842.85 L734.29,842.85 L734.53,842.85 L734.78,842.86 L735.02,842.86 L735.26,842.86 L735.51,842.86 L735.75,842.86 L736.00,842.86 L736.24,842.86 L736.49,842.86 L736.73,842.86 L736.98,842.86 L737.22,842.86 L737.46,842.86 L737.71,842.87 L737.95,842.87 L738.20,842.87 L738.44,842.87 L738.69,842.87 L738.93,842.87 L739.17,842.87 L739.42,842.87 L739.66,842.87 L739.91,842.87 L740.15,842.87 L740.40,842.88 L740.64,842.88 L740.89,842.88 L741.13,842.88 L741.37,842.88 L741.62,842.88 L741.86,842.88 L742.11,842.88 L742.35,842.88 L742.60,842.89 L742.84,842.89 L743.09,842.89 L743.33,842.89 L743.57,842.89 L743.82,842.89 L744.06,842.89 L744.31,842.89 L744.55,842.90 L744.80,842.90 L745.04,842.90 L745.28,842.90 L745.53,842.90 L745.77,842.90 L746.02,842.90 L746.26,842.90 L746.51,842.91 L746.75,842.91 L747.00,842.91 L747.24,842.91 L747.48,842.91 L747.73,842.91 L747.97,842.92 L748.22,842.92 L748.46,842.92 L748.71,842.92 L748.95,842.92 L749.20,842.92 L749.44,842.93 L749.68,842.93 L749.93,842.93 L750.17,842.93 L750.42,842.93 L750.66,842.93 L750.91,842.94 L751.15,842.94 L751.39,842.94 L751.64,842.94 L751.88,842.94 L752.13,842.95 L752.37,842.95 L752.62,842.95 L752.86,842.95 L753.11,842.95 L753.35,842.96 L753.59,842.96 L753.84,842.96 L754.08,842.96 L754.33,842.96 L754.57,842.97 L754.82,842.97 L755.06,842.97 L755.31,842.97 L755.55,842.98 L755.79,842.98 L756.04,842.98 L756.28,842.98 L756.53,842.99 L756.77,842.99 L757.02,842.99 L757.26,842.99 L757.50,843.00 L757.75,843.00 L757.99,843.00 L758.24,843.00 L758.48,843.01 L758.73,843.01 L758.97,843.01 L759.22,843.02 L759.46,843.02 L759.70,843.02 L759.95,843.02 L760.19,843.03 L760.44,843.03 L760.68,843.03 L760.93,843.04 L761.17,843.04 L761.42,843.04 L761.66,843.05 L761.90,843.05 L762.15,843.05 L762.39,843.06 L762.64,843.06 L762.88,843.06 L763.13,843.07 L763.37,843.07 L763.61,843.08 L763.86,843.08 L764.10,843.08 L764.35,843.09 L764.59,843.09 L764.84,843.10 L765.08,843.10 L765.33,843.10 L765.57,843.11 L765.81,843.11 L766.06,843.12 L766.30,843.12 L766.55,843.12 L766.79,843.13 L767.04,843.13 L767.28,843.14 L767.53,843.14 L767.77,843.15 L768.01,843.15 L768.26,843.16 L768.50,843.16 L768.75,843.17 L768.99,843.17 L769.24,843.18 L769.48,843.18 L769.72,843.19 L769.97,843.19 L770.21,843.20 L770.46,843.20 L770.70,843.21 L770.95,843.21 L771.19,843.22 L771.44,843.23 L771.68,843.23 L771.92,843.24 L772.17,843.24 L772.41,843.25 L772.66,843.26 L772.90,843.26 L773.15,843.27 L773.39,843.28 L773.64,843.28 L773.88,843.29 L774.12,843.30 L774.37,843.30 L774.61,843.31 L774.86,843.32 L775.10,843.32 L775.35,843.33 L775.59,843.34 L775.83,843.34 L776.08,843.35 L776.32,843.36 L776.57,843.37 L776.81,843.38 L777.06,843.38 L777.30,843.39 L777.55,843.40 L777.79,843.41 L778.03,843.42 L778.28,843.42 L778.52,843.43 L778.77,843.44 L779.01,843.45 L779.26,843.46 L779.50,843.47 L779.75,843.48 L779.99,843.49 L780.23,843.50 L780.48,843.51 L780.72,843.52 L780.97,843.53 L781.21,843.54 L781.46,843.55 L781.70,843.56 L781.94,843.57 L782.19,843.58 L782.43,843.59 L782.68,843.60 L782.92,843.61 L783.17,843.62 L783.41,843.63 L783.66,843.64 L783.90,843.65 L784.14,843.67 L784.39,843.68 L784.63,843.69 L784.88,843.70 L785.12,843.71 L785.37,843.73 L785.61,843.74 L785.86,843.75 L786.10,843.77 L786.34,843.78 L786.59,843.79 L786.83,843.81 L787.08,843.82 L787.32,843.83 L787.57,843.85 L787.81,843.86 L788.05,843.88 L788.30,843.89 L788.54,843.91 L788.79,843.92 L789.03,843.94 L789.28,843.95 L789.52,843.97 L789.77,843.98 L790.01,844.00 L790.25,844.02 L790.50,844.03 L790.74,844.05 L790.99,844.07 L791.23,844.08 L791.48,844.10 L791.72,844.12 L791.97,844.14 L792.21,844.16 L792.45,844.18 L792.70,844.19 L792.94,844.21 L793.19,844.23 L793.43,844.25 L793.68,844.27 L793.92,844.29 L794.16,844.31 L794.41,844.33 L794.65,844.35 L794.90,844.38 L795.14,844.40 L795.39,844.42 L795.63,844.44 L795.88,844.46 L796.12,844.49 L796.36,844.51 L796.61,844.53 L796.85,844.56 L797.10,844.58 L797.34,844.61 L797.59,844.63 L797.83,844.66 L798.08,844.68 L798.32,844.71 L798.56,844.73 L798.81,844.76 L799.05,844.79 L799.30,844.81 L799.54,844.84 L799.79,844.87 L800.03,844.90 L800.27,844.93 L800.52,844.96 L800.76,844.98 L801.01,845.01 L801.25,845.04 L801.50,845.08 L801.74,845.11 L801.99,845.14 L802.23,845.17 L802.47,845.20 L802.72,845.24 L802.96,845.27 L803.21,845.30 L803.45,845.34 L803.70,845.37 L803.94,845.41 L804.19,845.44 L804.43,845.48 L804.67,845.52 L804.92,845.55 L805.16,845.59 L805.41,845.63 L805.65,845.67 L805.90,845.71 L806.14,845.75 L806.38,845.79 L806.63,845.83 L806.87,845.87 L807.12,845.91 L807.36,845.96 L807.61,846.00 L807.85,846.04 L808.10,846.09 L808.34,846.13 L808.58,846.18 L808.83,846.22 L809.07,846.27 L809.32,846.32 L809.56,846.37 L809.81,846.42 L810.05,846.47 L810.30,846.52 L810.54,846.57 L810.78,846.62 L811.03,846.67 L811.27,846.72 L811.52,846.78 L811.76,846.83 L812.01,846.89 L812.25,846.94 L812.49,847.00 L812.74,847.06 L812.98,847.12 L813.23,847.17 L813.47,847.23 L813.72,847.30 L813.96,847.36 L814.21,847.42 L814.45,847.48 L814.69,847.55 L814.94,847.61 L815.18,847.68 L815.43,847.75 L815.67,847.81 L815.92,847.88 L816.16,847.95 L816.41,848.02 L816.65,848.09 L816.89,848.17 L817.14,848.24 L817.38,848.31 L817.63,848.39 L817.87,848.47 L818.12,848.54 L818.36,848.62 L818.60,848.70 L818.85,848.78 L819.09,848.87 L819.34,848.95 L819.58,849.03 L819.83,849.12 L820.07,849.21 L820.32,849.29 L820.56,849.38 L820.80,849.47 L821.05,849.56 L821.29,849.66 L821.54,849.75 L821.78,849.85 L822.03,849.94 L822.27,850.04 L822.52,850.14 L822.76,850.24 L823.00,850.34 L823.25,850.45 L823.49,850.55 L823.74,850.66 L823.98,850.76 L824.23,850.87 L824.47,850.98 L824.71,851.10 L824.96,851.21 L825.20,851.33 L825.45,851.44 L825.69,851.56 L825.94,851.68 L826.18,851.80 L826.43,851.93 L826.67,852.05 L826.91,852.18 L827.16,852.31 L827.40,852.44 L827.65,852.57 L827.89,852.70 L828.14,852.84 L828.38,852.98 L828.63,853.12 L828.87,853.26 L829.11,853.40 L829.36,853.55 L829.60,853.69 L829.85,853.84 L830.09,853.99 L830.34,854.15 L830.58,854.30 L830.82,854.46 L831.07,854.62 L831.31,854.78 L831.56,854.95 L831.80,855.11 L832.05,855.28 L832.29,855.45 L832.54,855.63 L832.78,855.80 L833.02,855.98 L833.27,856.16 L833.51,856.34 L833.76,856.53 L834.00,856.72 L834.25,856.91 L834.49,857.10 L834.74,857.30 L834.98,857.50 L835.22,857.70 L835.47,857.90 L835.71,858.11 L835.96,858.32 L836.20,858.53 L836.45,858.75 L836.69,858.97 L836.93,859.19 L837.18,859.41 L837.42,859.64 L837.67,859.87 L837.91,860.11 L838.16,860.34 L838.40,860.58 L838.65,860.83 L838.89,861.07 L839.13,861.32 L839.38,861.58 L839.62,861.84 L839.87,862.10 L840.11,862.36 L840.36,862.63 L840.60,862.90 L840.85,863.18 L841.09,863.46 L841.33,863.74 L841.58,864.03 L841.82,864.32 L842.07,864.61 L842.31,864.91 L842.56,865.21 L842.80,865.52 L843.04,865.83 L843.29,866.15 L843.53,866.47 L843.78,866.79 L844.02,867.12 L844.27,867.46 L844.51,867.79 L844.76,868.14 L844.82,868.22 L844.88,868.31 L844.94,868.40 L845.00,868.48 L845.06,868.47 L845.12,868.46 L845.24,868.42 L845.49,868.36 L845.73,868.29 L845.98,868.21 L846.22,868.13 L846.47,868.04 L846.71,867.95 L846.96,867.85 L847.20,867.75 L847.44,867.64 L847.69,867.53 L847.93,867.41 L848.18,867.28 L848.42,867.15 L848.67,867.02 L848.91,866.88 L849.15,866.73 L849.40,866.58 L849.64,866.42 L849.89,866.26 L850.13,866.09 L850.38,865.92 L850.62,865.75 L850.87,865.56 L851.11,865.38 L851.35,865.19 L851.60,864.99 L851.84,864.79 L852.09,864.58 L852.33,864.37 L852.58,864.16 L852.82,863.94 L853.07,863.71 L853.31,863.48 L853.55,863.25 L853.80,863.01 L854.04,862.77 L854.29,862.52 L854.53,862.27 L854.78,862.02 L855.02,861.76 L855.26,861.49 L855.51,861.23 L855.75,860.96 L856.00,860.68 L856.24,860.40 L856.49,860.12 L856.73,859.83 L856.98,859.54 L857.22,859.25 L857.46,858.95 L857.71,858.65 L857.95,858.34 L858.20,858.03 L858.44,857.72 L858.69,857.41 L858.93,857.09 L859.18,856.77 L859.42,856.45 L859.66,856.12 L859.91,855.79 L860.15,855.46 L860.40,855.12 L860.64,854.78 L860.89,854.44 L861.13,854.10 L861.37,853.75 L861.62,853.41 L861.86,853.06 L862.11,852.70 L862.35,852.35 L862.60,851.99 L862.84,851.63 L863.09,851.27 L863.33,850.91 L863.57,850.55 L863.82,850.18 L864.06,849.81 L864.31,849.44 L864.55,849.07 L864.80,848.70 L865.04,848.33 L865.29,847.96 L865.53,847.58 L865.77,847.20 L866.02,846.83 L866.26,846.45 L866.51,846.07 L866.75,845.69 L867.00,845.31 L867.24,844.93 L867.48,844.55 L867.73,844.16 L867.97,843.78 L868.22,843.40 L868.46,843.02 L868.71,842.64 L868.95,842.25 L869.20,841.87 L869.44,841.49 L869.68,841.11 L869.93,840.73 L870.17,840.35 L870.42,839.96 L870.66,839.58 L870.91,839.21 L871.15,838.83 L871.40,838.45 L871.64,838.07 L871.88,837.70 L872.13,837.32 L872.37,836.95 L872.62,836.58 L872.86,836.21 L873.11,835.84 L873.35,835.47 L873.59,835.11 L873.84,834.74 L874.08,834.38 L874.33,834.02 L874.57,833.66 L874.82,833.30 L875.06,832.95 L875.31,832.59 L875.55,832.24 L875.79,831.89 L876.04,831.55 L876.28,831.21 L876.53,830.86 L876.77,830.53 L877.02,830.19 L877.26,829.86 L877.51,829.53 L877.75,829.20 L877.99,828.88 L878.24,828.55 L878.48,828.24 L878.73,827.92 L878.97,827.61 L879.22,827.30 L879.46,827.00 L879.70,826.69 L879.95,826.40 L880.19,826.10 L880.44,825.81 L880.68,825.52 L880.93,825.24 L881.17,824.96 L881.42,824.68 L881.66,824.41 L881.90,824.14 L882.15,823.88 L882.39,823.62 L882.64,823.36 L882.88,823.11 L883.13,822.86 L883.37,822.62 L883.62,822.38 L883.86,822.15 L884.10,821.92 L884.35,821.69 L884.59,821.47 L884.84,821.26 L885.08,821.05 L885.33,820.84 L885.57,820.64 L885.81,820.44 L886.06,820.25 L886.30,820.06 L886.55,819.88 L886.79,819.70 L887.04,819.53 L887.28,819.36 L887.53,819.20 L887.77,819.04 L888.01,818.89 L888.26,818.74 L888.50,818.60 L888.75,818.47 L888.99,818.34 L889.24,818.21 L889.48,818.09 L889.73,817.97 L889.97,817.86 L890.21,817.76 L890.46,817.66 L890.70,817.57 L890.95,817.48 L891.19,817.40 L891.44,817.32 L891.68,817.25 L891.92,817.18 L892.17,817.12 L892.41,817.07 L892.66,817.02 L892.90,816.98 L893.15,816.94 L893.39,816.91 L893.64,816.88 L893.70,816.87 L893.76,816.87 L893.82,816.86 L893.88,816.86 L893.94,816.97 L894.00,817.08 L894.06,817.18 L894.12,817.29 L894.37,817.72 L894.61,818.14 L894.86,818.55 L895.10,818.95 L895.35,819.35 L895.59,819.74 L895.84,820.13 L896.08,820.51 L896.32,820.88 L896.57,821.24 L896.81,821.60 L897.06,821.96 L897.30,822.31 L897.55,822.65 L897.79,822.98 L898.03,823.31 L898.28,823.64 L898.52,823.96 L898.77,824.27 L899.01,824.58 L899.26,824.89 L899.50,825.19 L899.75,825.48 L899.99,825.77 L900.23,826.05 L900.48,826.33 L900.72,826.61 L900.97,826.88 L901.21,827.15 L901.46,827.41 L901.70,827.66 L901.95,827.92 L902.19,828.16 L902.43,828.41 L902.68,828.65 L902.92,828.89 L903.17,829.12 L903.41,829.35 L903.66,829.57 L903.90,829.79 L904.14,830.01 L904.39,830.22 L904.63,830.43 L904.88,830.64 L905.12,830.84 L905.37,831.04 L905.61,831.24 L905.86,831.43 L906.10,831.62 L906.34,831.81 L906.59,831.99 L906.83,832.17 L907.08,832.35 L907.32,832.52 L907.57,832.69 L907.81,832.86 L908.06,833.03 L908.30,833.19 L908.54,833.35 L908.79,833.51 L909.03,833.67 L909.28,833.82 L909.52,833.97 L909.77,834.12 L910.01,834.26 L910.25,834.40 L910.50,834.54 L910.74,834.68 L910.99,834.82 L911.23,834.95 L911.48,835.08 L911.72,835.21 L911.97,835.34 L912.21,835.46 L912.45,835.58 L912.70,835.70 L912.94,835.82 L913.19,835.94 L913.43,836.05 L913.68,836.17 L913.92,836.28 L914.17,836.39 L914.41,836.49 L914.65,836.60 L914.90,836.70 L915.14,836.80 L915.39,836.90 L915.63,837.00 L915.88,837.10 L916.12,837.19 L916.36,837.29 L916.61,837.38 L916.85,837.47 L917.10,837.56 L917.34,837.65 L917.59,837.73 L917.83,837.82 L918.08,837.90 L918.32,837.98 L918.56,838.06 L918.81,838.14 L919.05,838.22 L919.30,838.30 L919.54,838.37 L919.79,838.45 L920.03,838.52 L920.28,838.59 L920.52,838.66 L920.76,838.73 L921.01,838.80 L921.25,838.86 L921.50,838.93 L921.74,838.99 L921.99,839.06 L922.23,839.12 L922.47,839.18 L922.72,839.24 L922.96,839.30 L923.21,839.36 L923.45,839.42 L923.70,839.47 L923.94,839.53 L924.19,839.58 L924.43,839.64 L924.67,839.69 L924.92,839.74 L925.16,839.79 L925.41,839.84 L925.65,839.89 L925.90,839.94 L926.14,839.99 L926.39,840.04 L926.63,840.08 L926.87,840.13 L927.12,840.17 L927.36,840.22 L927.61,840.26 L927.85,840.30 L928.10,840.34 L928.34,840.38 L928.58,840.42 L928.83,840.46 L929.07,840.50 L929.32,840.54 L929.56,840.58 L929.81,840.62 L930.05,840.65 L930.30,840.69 L930.54,840.72 L930.78,840.76 L931.03,840.79 L931.27,840.83 L931.52,840.86 L931.76,840.89 L932.01,840.92 L932.25,840.95 L932.50,840.99 L932.74,841.02 L932.98,841.05 L933.23,841.07 L933.47,841.10 L933.72,841.13 L933.96,841.16 L934.21,841.19 L934.45,841.21 L934.69,841.24 L934.94,841.27 L935.18,841.29 L935.43,841.32 L935.67,841.34 L935.92,841.37 L936.16,841.39 L936.41,841.41 L936.65,841.44 L936.89,841.46 L937.14,841.48 L937.38,841.50 L937.63,841.53 L937.87,841.55 L938.12,841.57 L938.36,841.59 L938.61,841.61 L938.85,841.63 L939.09,841.65 L939.34,841.67 L939.58,841.69 L939.83,841.71 L940.07,841.72 L940.32,841.74 L940.56,841.76 L940.80,841.78 L941.05,841.79 L941.29,841.81 L941.54,841.83 L941.78,841.84 L942.03,841.86 L942.27,841.87 L942.52,841.89 L942.76,841.91 L943.00,841.92 L943.25,841.93 L943.49,841.95 L943.74,841.96 L943.98,841.98 L944.23,841.99 L944.47,842.00 L944.72,842.02 L944.96,842.03 L945.20,842.04 L945.45,842.06 L945.69,842.07 L945.94,842.08 L946.18,842.09 L946.43,842.11 L946.67,842.12 L946.91,842.13 L947.16,842.14 L947.40,842.15 L947.65,842.16 L947.89,842.17 L948.14,842.18 L948.38,842.19 L948.63,842.20 L948.87,842.21 L949.11,842.22 L949.36,842.23 L949.60,842.24 L949.85,842.25 L950.09,842.26 L950.34,842.27 L950.58,842.28 L950.83,842.29 L951.07,842.30 L951.31,842.30 L951.56,842.31 L951.80,842.32 L952.05,842.33 L952.29,842.34 L952.54,842.34 L952.78,842.35 L953.02,842.36 L953.27,842.37 L953.51,842.37 L953.76,842.38 L954.00,842.39 L954.25,842.39 L954.49,842.40 L954.74,842.41 L954.98,842.41 L955.22,842.42 L955.47,842.43 L955.71,842.43 L955.96,842.44 L956.20,842.45 L956.45,842.45 L956.69,842.46 L956.94,842.46 L957.18,842.47 L957.42,842.47 L957.67,842.48 L957.91,842.48 L958.16,842.49 L958.40,842.50 L958.65,842.50 L958.89,842.51 L959.13,842.51 L959.38,842.52 L959.62,842.52 L959.87,842.52 L960.11,842.53 L960.36,842.53 L960.60,842.54 L960.85,842.54 L961.09,842.55 L961.33,842.55 L961.58,842.56 L961.82,842.56 L962.07,842.56 L962.31,842.57 L962.56,842.57 L962.80,842.58 L963.05,842.58 L963.29,842.58 L963.53,842.59 L963.78,842.59 L964.02,842.59 L964.27,842.60 L964.51,842.60 L964.76,842.60 L965.00,842.61 L965.24,842.61 L965.49,842.61 L965.73,842.62 L965.98,842.62 L966.22,842.62 L966.47,842.63 L966.71,842.63 L966.96,842.63 L967.20,842.63" fill="none" stroke="#000000" stroke-width="4.20" stroke-linejoin="round" stroke-linecap="butt" stroke-dasharray="17 15"/>
<path clip-path="url(#cb2)" d="M722.80,842.76 L723.04,842.76 L723.29,842.76 L723.53,842.76 L723.78,842.76 L724.02,842.76 L724.27,842.76 L724.51,842.76 L724.76,842.76 L725.00,842.76 L725.24,842.76 L725.49,842.75 L725.73,842.75 L725.98,842.75 L726.22,842.75 L726.47,842.75 L726.71,842.75 L726.95,842.75 L727.20,842.75 L727.44,842.75 L727.69,842.75 L727.93,842.75 L728.18,842.75 L728.42,842.75 L728.67,842.75 L728.91,842.75 L729.15,842.74 L729.40,842.74 L729.64,842.74 L729.89,842.74 L730.13,842.74 L730.38,842.74 L730.62,842.74 L730.87,842.74 L731.11,842.74 L731.35,842.74 L731.60,842.74 L731.84,842.74 L732.09,842.73 L732.33,842.73 L732.58,842.73 L732.82,842.73 L733.06,842.73 L733.31,842.73 L733.55,842.73 L733.80,842.73 L734.04,842.73 L734.29,842.73 L734.53,842.73 L734.78,842.72 L735.02,842.72 L735.26,842.72 L735.51,842.72 L735.75,842.72 L736.00,842.72 L736.24,842.72 L736.49,842.72 L736.73,842.72 L736.98,842.71 L737.22,842.71 L737.46,842.71 L737.71,842.71 L737.95,842.71 L738.20,842.71 L738.44,842.71 L738.69,842.71 L738.93,842.70 L739.17,842.70 L739.42,842.70 L739.66,842.70 L739.91,842.70 L740.15,842.70 L740.40,842.70 L740.64,842.70 L740.89,842.69 L741.13,842.69 L741.37,842.69 L741.62,842.69 L741.86,842.69 L742.11,842.69 L742.35,842.68 L742.60,842.68 L742.84,842.68 L743.09,842.68 L743.33,842.68 L743.57,842.68 L743.82,842.67 L744.06,842.67 L744.31,842.67 L744.55,842.67 L744.80,842.67 L745.04,842.67 L745.28,842.66 L745.53,842.66 L745.77,842.66 L746.02,842.66 L746.26,842.66 L746.51,842.65 L746.75,842.65 L747.00,842.65 L747.24,842.65 L747.48,842.65 L747.73,842.64 L747.97,842.64 L748.22,842.64 L748.46,842.64 L748.71,842.64 L748.95,842.63 L749.20,842.63 L749.44,842.63 L749.68,842.63 L749.93,842.62 L750.17,842.62 L750.42,842.62 L750.66,842.62 L750.91,842.61 L751.15,842.61 L751.39,842.61 L751.64,842.61 L751.88,842.60 L752.13,842.60 L752.37,842.60 L752.62,842.60 L752.86,842.59 L753.11,842.59 L753.35,842.59 L753.59,842.58 L753.84,842.58 L754.08,842.58 L754.33,842.57 L754.57,842.57 L754.82,842.57 L755.06,842.57 L755.31,842.56 L755.55,842.56 L755.79,842.56 L756.04,842.55 L756.28,842.55 L756.53,842.55 L756.77,842.54 L757.02,842.54 L757.26,842.53 L757.50,842.53 L757.75,842.53 L757.99,842.52 L758.24,842.52 L758.48,842.52 L758.73,842.51 L758.97,842.51 L759.22,842.50 L759.46,842.50 L759.70,842.50 L759.95,842.49 L760.19,842.49 L760.44,842.48 L760.68,842.48 L760.93,842.47 L761.17,842.47 L761.42,842.47 L761.66,842.46 L761.90,842.46 L762.15,842.45 L762.39,842.45 L762.64,842.44 L762.88,842.44 L763.13,842.43 L763.37,842.43 L763.61,842.42 L763.86,842.42 L764.10,842.41 L764.35,842.41 L764.59,842.40 L764.84,842.40 L765.08,842.39 L765.33,842.38 L765.57,842.38 L765.81,842.37 L766.06,842.37 L766.30,842.36 L766.55,842.36 L766.79,842.35 L767.04,842.34 L767.28,842.34 L767.53,842.33 L767.77,842.32 L768.01,842.32 L768.26,842.31 L768.50,842.30 L768.75,842.30 L768.99,842.29 L769.24,842.28 L769.48,842.28 L769.72,842.27 L769.97,842.26 L770.21,842.25 L770.46,842.25 L770.70,842.24 L770.95,842.23 L771.19,842.22 L771.44,842.22 L771.68,842.21 L771.92,842.20 L772.17,842.19 L772.41,842.18 L772.66,842.18 L772.90,842.17 L773.15,842.16 L773.39,842.15 L773.64,842.14 L773.88,842.13 L774.12,842.12 L774.37,842.11 L774.61,842.10 L774.86,842.09 L775.10,842.08 L775.35,842.07 L775.59,842.06 L775.83,842.05 L776.08,842.04 L776.32,842.03 L776.57,842.02 L776.81,842.01 L777.06,842.00 L777.30,841.99 L777.55,841.98 L777.79,841.97 L778.03,841.96 L778.28,841.95 L778.52,841.93 L778.77,841.92 L779.01,841.91 L779.26,841.90 L779.50,841.89 L779.75,841.87 L779.99,841.86 L780.23,841.85 L780.48,841.83 L780.72,841.82 L780.97,841.81 L781.21,841.79 L781.46,841.78 L781.70,841.77 L781.94,841.75 L782.19,841.74 L782.43,841.72 L782.68,841.71 L782.92,841.69 L783.17,841.68 L783.41,841.66 L783.66,841.65 L783.90,841.63 L784.14,841.61 L784.39,841.60 L784.63,841.58 L784.88,841.57 L785.12,841.55 L785.37,841.53 L785.61,841.51 L785.86,841.50 L786.10,841.48 L786.34,841.46 L786.59,841.44 L786.83,841.42 L787.08,841.40 L787.32,841.39 L787.57,841.37 L787.81,841.35 L788.05,841.33 L788.30,841.31 L788.54,841.29 L788.79,841.27 L789.03,841.24 L789.28,841.22 L789.52,841.20 L789.77,841.18 L790.01,841.16 L790.25,841.13 L790.50,841.11 L790.74,841.09 L790.99,841.07 L791.23,841.04 L791.48,841.02 L791.72,840.99 L791.97,840.97 L792.21,840.94 L792.45,840.92 L792.70,840.89 L792.94,840.87 L793.19,840.84 L793.43,840.81 L793.68,840.78 L793.92,840.76 L794.16,840.73 L794.41,840.70 L794.65,840.67 L794.90,840.64 L795.14,840.61 L795.39,840.58 L795.63,840.55 L795.88,840.52 L796.12,840.49 L796.36,840.46 L796.61,840.43 L796.85,840.39 L797.10,840.36 L797.34,840.33 L797.59,840.29 L797.83,840.26 L798.08,840.22 L798.32,840.19 L798.56,840.15 L798.81,840.12 L799.05,840.08 L799.30,840.04 L799.54,840.01 L799.79,839.97 L800.03,839.93 L800.27,839.89 L800.52,839.85 L800.76,839.81 L801.01,839.77 L801.25,839.73 L801.50,839.68 L801.74,839.64 L801.99,839.60 L802.23,839.55 L802.47,839.51 L802.72,839.46 L802.96,839.42 L803.21,839.37 L803.45,839.33 L803.70,839.28 L803.94,839.23 L804.19,839.18 L804.43,839.13 L804.67,839.08 L804.92,839.03 L805.16,838.98 L805.41,838.93 L805.65,838.87 L805.90,838.82 L806.14,838.76 L806.38,838.71 L806.63,838.65 L806.87,838.60 L807.12,838.54 L807.36,838.48 L807.61,838.42 L807.85,838.36 L808.10,838.30 L808.34,838.24 L808.58,838.18 L808.83,838.11 L809.07,838.05 L809.32,837.98 L809.56,837.92 L809.81,837.85 L810.05,837.78 L810.30,837.71 L810.54,837.64 L810.78,837.57 L811.03,837.50 L811.27,837.43 L811.52,837.35 L811.76,837.28 L812.01,837.20 L812.25,837.13 L812.49,837.05 L812.74,836.97 L812.98,836.89 L813.23,836.81 L813.47,836.73 L813.72,836.65 L813.96,836.56 L814.21,836.48 L814.45,836.39 L814.69,836.30 L814.94,836.21 L815.18,836.12 L815.43,836.03 L815.67,835.94 L815.92,835.84 L816.16,835.75 L816.41,835.65 L816.65,835.55 L816.89,835.45 L817.14,835.35 L817.38,835.25 L817.63,835.15 L817.87,835.04 L818.12,834.94 L818.36,834.83 L818.60,834.72 L818.85,834.61 L819.09,834.50 L819.34,834.38 L819.58,834.27 L819.83,834.15 L820.07,834.03 L820.32,833.91 L820.56,833.79 L820.80,833.66 L821.05,833.54 L821.29,833.41 L821.54,833.28 L821.78,833.15 L822.03,833.02 L822.27,832.89 L822.52,832.75 L822.76,832.61 L823.00,832.47 L823.25,832.33 L823.49,832.19 L823.74,832.04 L823.98,831.90 L824.23,831.75 L824.47,831.60 L824.71,831.44 L824.96,831.29 L825.20,831.13 L825.45,830.97 L825.69,830.81 L825.94,830.64 L826.18,830.47 L826.43,830.31 L826.67,830.13 L826.91,829.96 L827.16,829.78 L827.40,829.61 L827.65,829.43 L827.89,829.24 L828.14,829.06 L828.38,828.87 L828.63,828.68 L828.87,828.48 L829.11,828.29 L829.36,828.09 L829.60,827.89 L829.85,827.68 L830.09,827.47 L830.34,827.26 L830.58,827.05 L830.82,826.84 L831.07,826.62 L831.31,826.39 L831.56,826.17 L831.80,825.94 L832.05,825.71 L832.29,825.48 L832.54,825.24 L832.78,825.00 L833.02,824.75 L833.27,824.51 L833.51,824.26 L833.76,824.00 L834.00,823.74 L834.25,823.48 L834.49,823.22 L834.74,822.95 L834.98,822.68 L835.22,822.40 L835.47,822.12 L835.71,821.84 L835.96,821.55 L836.20,821.26 L836.45,820.96 L836.69,820.67 L836.93,820.36 L837.18,820.05 L837.42,819.74 L837.67,819.43 L837.91,819.11 L838.16,818.78 L838.40,818.45 L838.65,818.12 L838.89,817.78 L839.13,817.44 L839.38,817.09 L839.62,816.74 L839.87,816.38 L840.11,816.02 L840.36,815.65 L840.60,815.28 L840.85,814.90 L841.09,814.52 L841.33,814.13 L841.58,813.74 L841.82,813.34 L842.07,812.94 L842.31,812.53 L842.56,812.11 L842.80,811.69 L843.04,811.26 L843.29,810.83 L843.53,810.39 L843.78,809.95 L844.02,809.50 L844.27,809.04 L844.51,808.58 L844.76,808.11 L844.82,807.99 L844.88,807.87 L844.94,807.75 L845.00,829.44 L845.06,829.11 L845.12,828.78 L845.24,828.13 L845.49,826.82 L845.73,825.51 L845.98,824.21 L846.22,822.92 L846.47,821.63 L846.71,820.34 L846.96,819.06 L847.20,817.78 L847.44,816.51 L847.69,815.24 L847.93,813.98 L848.18,812.73 L848.42,811.48 L848.67,810.24 L848.91,809.01 L849.15,807.78 L849.40,806.56 L849.64,805.35 L849.89,804.15 L850.13,802.96 L850.38,801.77 L850.62,800.59 L850.87,799.43 L851.11,798.27 L851.35,797.12 L851.60,795.98 L851.84,794.85 L852.09,793.73 L852.33,792.63 L852.58,791.53 L852.82,790.45 L853.07,789.37 L853.31,788.31 L853.55,787.26 L853.80,786.22 L854.04,785.19 L854.29,784.18 L854.53,783.18 L854.78,782.19 L855.02,781.22 L855.26,780.25 L855.51,779.31 L855.75,778.37 L856.00,777.45 L856.24,776.55 L856.49,775.65 L856.73,774.78 L856.98,773.91 L857.22,773.07 L857.46,772.23 L857.71,771.42 L857.95,770.61 L858.20,769.83 L858.44,769.06 L858.69,768.30 L858.93,767.57 L859.18,766.84 L859.42,766.14 L859.66,765.45 L859.91,764.78 L860.15,764.12 L860.40,763.49 L860.64,762.86 L860.89,762.26 L861.13,761.67 L861.37,761.11 L861.62,760.56 L861.86,760.02 L862.11,759.51 L862.35,759.01 L862.60,758.53 L862.84,758.07 L863.09,757.63 L863.33,757.21 L863.57,756.80 L863.82,756.42 L864.06,756.05 L864.31,755.70 L864.55,755.37 L864.80,755.06 L865.04,754.77 L865.29,754.49 L865.53,754.24 L865.77,754.00 L866.02,753.79 L866.26,753.59 L866.51,753.42 L866.75,753.26 L867.00,753.12 L867.24,753.00 L867.48,752.90 L867.73,752.82 L867.97,752.76 L868.22,752.72 L868.46,752.70 L868.71,752.70 L868.95,752.72 L869.20,752.76 L869.44,752.81 L869.68,752.89 L869.93,752.99 L870.17,753.10 L870.42,753.24 L870.66,753.39 L870.91,753.57 L871.15,753.76 L871.40,753.97 L871.64,754.20 L871.88,754.46 L872.13,754.73 L872.37,755.02 L872.62,755.32 L872.86,755.65 L873.11,756.00 L873.35,756.36 L873.59,756.75 L873.84,757.15 L874.08,757.57 L874.33,758.01 L874.57,758.47 L874.82,758.94 L875.06,759.44 L875.31,759.95 L875.55,760.48 L875.79,761.03 L876.04,761.59 L876.28,762.18 L876.53,762.78 L876.77,763.40 L877.02,764.03 L877.26,764.68 L877.51,765.35 L877.75,766.04 L877.99,766.74 L878.24,767.46 L878.48,768.20 L878.73,768.95 L878.97,769.72 L879.22,770.50 L879.46,771.30 L879.70,772.12 L879.95,772.95 L880.19,773.79 L880.44,774.65 L880.68,775.53 L880.93,776.42 L881.17,777.32 L881.42,778.24 L881.66,779.17 L881.90,780.12 L882.15,781.08 L882.39,782.05 L882.64,783.04 L882.88,784.04 L883.13,785.05 L883.37,786.07 L883.62,787.11 L883.86,788.16 L884.10,789.22 L884.35,790.29 L884.59,791.38 L884.84,792.47 L885.08,793.58 L885.33,794.69 L885.57,795.82 L885.81,796.96 L886.06,798.10 L886.30,799.26 L886.55,800.43 L886.79,801.60 L887.04,802.79 L887.28,803.98 L887.53,805.18 L887.77,806.39 L888.01,807.61 L888.26,808.83 L888.50,810.07 L888.75,811.30 L888.99,812.55 L889.24,813.80 L889.48,815.06 L889.73,816.33 L889.97,817.60 L890.21,818.88 L890.46,820.16 L890.70,821.44 L890.95,822.73 L891.19,824.03 L891.44,825.33 L891.68,826.63 L891.92,827.94 L892.17,829.25 L892.41,830.56 L892.66,831.88 L892.90,833.20 L893.15,834.52 L893.39,835.84 L893.64,837.16 L893.70,837.49 L893.76,837.82 L893.82,838.16 L893.88,814.08 L893.94,814.20 L894.00,814.32 L894.06,814.44 L894.12,814.56 L894.37,815.03 L894.61,815.49 L894.86,815.95 L895.10,816.39 L895.35,816.84 L895.59,817.27 L895.84,817.70 L896.08,818.11 L896.32,818.53 L896.57,818.93 L896.81,819.33 L897.06,819.72 L897.30,820.11 L897.55,820.49 L897.79,820.86 L898.03,821.23 L898.28,821.59 L898.52,821.94 L898.77,822.29 L899.01,822.63 L899.26,822.97 L899.50,823.30 L899.75,823.62 L899.99,823.94 L900.23,824.26 L900.48,824.57 L900.72,824.87 L900.97,825.17 L901.21,825.47 L901.46,825.76 L901.70,826.04 L901.95,826.32 L902.19,826.60 L902.43,826.87 L902.68,827.13 L902.92,827.39 L903.17,827.65 L903.41,827.90 L903.66,828.15 L903.90,828.40 L904.14,828.64 L904.39,828.87 L904.63,829.11 L904.88,829.33 L905.12,829.56 L905.37,829.78 L905.61,830.00 L905.86,830.21 L906.10,830.42 L906.34,830.63 L906.59,830.83 L906.83,831.03 L907.08,831.23 L907.32,831.42 L907.57,831.61 L907.81,831.80 L908.06,831.98 L908.30,832.16 L908.54,832.34 L908.79,832.51 L909.03,832.69 L909.28,832.85 L909.52,833.02 L909.77,833.18 L910.01,833.34 L910.25,833.50 L910.50,833.66 L910.74,833.81 L910.99,833.96 L911.23,834.11 L911.48,834.25 L911.72,834.40 L911.97,834.54 L912.21,834.67 L912.45,834.81 L912.70,834.94 L912.94,835.07 L913.19,835.20 L913.43,835.33 L913.68,835.45 L913.92,835.58 L914.17,835.70 L914.41,835.82 L914.65,835.93 L914.90,836.05 L915.14,836.16 L915.39,836.27 L915.63,836.38 L915.88,836.49 L916.12,836.59 L916.36,836.70 L916.61,836.80 L916.85,836.90 L917.10,837.00 L917.34,837.09 L917.59,837.19 L917.83,837.28 L918.08,837.38 L918.32,837.47 L918.56,837.55 L918.81,837.64 L919.05,837.73 L919.30,837.81 L919.54,837.90 L919.79,837.98 L920.03,838.06 L920.28,838.14 L920.52,838.22 L920.76,838.29 L921.01,838.37 L921.25,838.44 L921.50,838.51 L921.74,838.59 L921.99,838.66 L922.23,838.73 L922.47,838.79 L922.72,838.86 L922.96,838.93 L923.21,838.99 L923.45,839.05 L923.70,839.12 L923.94,839.18 L924.19,839.24 L924.43,839.30 L924.67,839.36 L924.92,839.41 L925.16,839.47 L925.41,839.53 L925.65,839.58 L925.90,839.63 L926.14,839.69 L926.39,839.74 L926.63,839.79 L926.87,839.84 L927.12,839.89 L927.36,839.94 L927.61,839.99 L927.85,840.03 L928.10,840.08 L928.34,840.13 L928.58,840.17 L928.83,840.21 L929.07,840.26 L929.32,840.30 L929.56,840.34 L929.81,840.38 L930.05,840.42 L930.30,840.46 L930.54,840.50 L930.78,840.54 L931.03,840.58 L931.27,840.61 L931.52,840.65 L931.76,840.69 L932.01,840.72 L932.25,840.76 L932.50,840.79 L932.74,840.82 L932.98,840.86 L933.23,840.89 L933.47,840.92 L933.72,840.95 L933.96,840.98 L934.21,841.01 L934.45,841.04 L934.69,841.07 L934.94,841.10 L935.18,841.13 L935.43,841.16 L935.67,841.19 L935.92,841.21 L936.16,841.24 L936.41,841.27 L936.65,841.29 L936.89,841.32 L937.14,841.34 L937.38,841.37 L937.63,841.39 L937.87,841.41 L938.12,841.44 L938.36,841.46 L938.61,841.48 L938.85,841.50 L939.09,841.52 L939.34,841.55 L939.58,841.57 L939.83,841.59 L940.07,841.61 L940.32,841.63 L940.56,841.65 L940.80,841.67 L941.05,841.69 L941.29,841.70 L941.54,841.72 L941.78,841.74 L942.03,841.76 L942.27,841.78 L942.52,841.79 L942.76,841.81 L943.00,841.83 L943.25,841.84 L943.49,841.86 L943.74,841.87 L943.98,841.89 L944.23,841.90 L944.47,841.92 L944.72,841.93 L944.96,841.95 L945.20,841.96 L945.45,841.98 L945.69,841.99 L945.94,842.00 L946.18,842.02 L946.43,842.03 L946.67,842.04 L946.91,842.06 L947.16,842.07 L947.40,842.08 L947.65,842.09 L947.89,842.10 L948.14,842.12 L948.38,842.13 L948.63,842.14 L948.87,842.15 L949.11,842.16 L949.36,842.17 L949.60,842.18 L949.85,842.19 L950.09,842.20 L950.34,842.21 L950.58,842.22 L950.83,842.23 L951.07,842.24 L951.31,842.25 L951.56,842.26 L951.80,842.27 L952.05,842.28 L952.29,842.29 L952.54,842.29 L952.78,842.30 L953.02,842.31 L953.27,842.32 L953.51,842.33 L953.76,842.34 L954.00,842.34 L954.25,842.35 L954.49,842.36 L954.74,842.37 L954.98,842.37 L955.22,842.38 L955.47,842.39 L955.71,842.39 L955.96,842.40 L956.20,842.41 L956.45,842.41 L956.69,842.42 L956.94,842.43 L957.18,842.43 L957.42,842.44 L957.67,842.45 L957.91,842.45 L958.16,842.46 L958.40,842.46 L958.65,842.47 L958.89,842.47 L959.13,842.48 L959.38,842.48 L959.62,842.49 L959.87,842.50 L960.11,842.50 L960.36,842.51 L960.60,842.51 L960.85,842.52 L961.09,842.52 L961.33,842.52 L961.58,842.53 L961.82,842.53 L962.07,842.54 L962.31,842.54 L962.56,842.55 L962.80,842.55 L963.05,842.56 L963.29,842.56 L963.53,842.56 L963.78,842.57 L964.02,842.57 L964.27,842.57 L964.51,842.58 L964.76,842.58 L965.00,842.59 L965.24,842.59 L965.49,842.59 L965.73,842.60 L965.98,842.60 L966.22,842.60 L966.47,842.61 L966.71,842.61 L966.96,842.61 L967.20,842.62" fill="none" stroke="#000000" stroke-width="4.20" stroke-linejoin="round" stroke-linecap="round" stroke-dasharray="1.6 5.8"/>
<path clip-path="url(#cb2)" d="M722.80,838.31 L723.04,838.30 L723.29,838.28 L723.53,838.27 L723.78,838.25 L724.02,838.24 L724.27,838.22 L724.51,838.21 L724.76,838.20 L725.00,838.18 L725.24,838.17 L725.49,838.15 L725.73,838.14 L725.98,838.12 L726.22,838.11 L726.47,838.09 L726.71,838.08 L726.95,838.06 L727.20,838.05 L727.44,838.03 L727.69,838.02 L727.93,838.00 L728.18,837.99 L728.42,837.97 L728.67,837.96 L728.91,837.94 L729.15,837.93 L729.40,837.91 L729.64,837.90 L729.89,837.88 L730.13,837.87 L730.38,837.85 L730.62,837.84 L730.87,837.82 L731.11,837.80 L731.35,837.79 L731.60,837.77 L731.84,837.76 L732.09,837.74 L732.33,837.73 L732.58,837.71 L732.82,837.69 L733.06,837.68 L733.31,837.66 L733.55,837.64 L733.80,837.63 L734.04,837.61 L734.29,837.60 L734.53,837.58 L734.78,837.56 L735.02,837.55 L735.26,837.53 L735.51,837.51 L735.75,837.50 L736.00,837.48 L736.24,837.46 L736.49,837.45 L736.73,837.43 L736.98,837.41 L737.22,837.40 L737.46,837.38 L737.71,837.36 L737.95,837.34 L738.20,837.33 L738.44,837.31 L738.69,837.29 L738.93,837.28 L739.17,837.26 L739.42,837.24 L739.66,837.22 L739.91,837.21 L740.15,837.19 L740.40,837.17 L740.64,837.15 L740.89,837.14 L741.13,837.12 L741.37,837.10 L741.62,837.08 L741.86,837.06 L742.11,837.05 L742.35,837.03 L742.60,837.01 L742.84,836.99 L743.09,836.97 L743.33,836.95 L743.57,836.94 L743.82,836.92 L744.06,836.90 L744.31,836.88 L744.55,836.86 L744.80,836.84 L745.04,836.82 L745.28,836.81 L745.53,836.79 L745.77,836.77 L746.02,836.75 L746.26,836.73 L746.51,836.71 L746.75,836.69 L747.00,836.67 L747.24,836.65 L747.48,836.63 L747.73,836.61 L747.97,836.59 L748.22,836.58 L748.46,836.56 L748.71,836.54 L748.95,836.52 L749.20,836.50 L749.44,836.48 L749.68,836.46 L749.93,836.44 L750.17,836.42 L750.42,836.40 L750.66,836.38 L750.91,836.36 L751.15,836.34 L751.39,836.32 L751.64,836.30 L751.88,836.27 L752.13,836.25 L752.37,836.23 L752.62,836.21 L752.86,836.19 L753.11,836.17 L753.35,836.15 L753.59,836.13 L753.84,836.11 L754.08,836.09 L754.33,836.07 L754.57,836.05 L754.82,836.02 L755.06,836.00 L755.31,835.98 L755.55,835.96 L755.79,835.94 L756.04,835.92 L756.28,835.89 L756.53,835.87 L756.77,835.85 L757.02,835.83 L757.26,835.81 L757.50,835.79 L757.75,835.76 L757.99,835.74 L758.24,835.72 L758.48,835.70 L758.73,835.67 L758.97,835.65 L759.22,835.63 L759.46,835.61 L759.70,835.58 L759.95,835.56 L760.19,835.54 L760.44,835.52 L760.68,835.49 L760.93,835.47 L761.17,835.45 L761.42,835.42 L761.66,835.40 L761.90,835.38 L762.15,835.35 L762.39,835.33 L762.64,835.31 L762.88,835.28 L763.13,835.26 L763.37,835.24 L763.61,835.21 L763.86,835.19 L764.10,835.16 L764.35,835.14 L764.59,835.12 L764.84,835.09 L765.08,835.07 L765.33,835.04 L765.57,835.02 L765.81,834.99 L766.06,834.97 L766.30,834.95 L766.55,834.92 L766.79,834.90 L767.04,834.87 L767.28,834.85 L767.53,834.82 L767.77,834.80 L768.01,834.77 L768.26,834.75 L768.50,834.72 L768.75,834.69 L768.99,834.67 L769.24,834.64 L769.48,834.62 L769.72,834.59 L769.97,834.57 L770.21,834.54 L770.46,834.51 L770.70,834.49 L770.95,834.46 L771.19,834.44 L771.44,834.41 L771.68,834.38 L771.92,834.36 L772.17,834.33 L772.41,834.30 L772.66,834.28 L772.90,834.25 L773.15,834.22 L773.39,834.20 L773.64,834.17 L773.88,834.14 L774.12,834.11 L774.37,834.09 L774.61,834.06 L774.86,834.03 L775.10,834.00 L775.35,833.98 L775.59,833.95 L775.83,833.92 L776.08,833.89 L776.32,833.87 L776.57,833.84 L776.81,833.81 L777.06,833.78 L777.30,833.75 L777.55,833.72 L777.79,833.70 L778.03,833.67 L778.28,833.64 L778.52,833.61 L778.77,833.58 L779.01,833.55 L779.26,833.52 L779.50,833.49 L779.75,833.46 L779.99,833.43 L780.23,833.40 L780.48,833.38 L780.72,833.35 L780.97,833.32 L781.21,833.29 L781.46,833.26 L781.70,833.23 L781.94,833.20 L782.19,833.17 L782.43,833.14 L782.68,833.11 L782.92,833.07 L783.17,833.04 L783.41,833.01 L783.66,832.98 L783.90,832.95 L784.14,832.92 L784.39,832.89 L784.63,832.86 L784.88,832.83 L785.12,832.80 L785.37,832.76 L785.61,832.73 L785.86,832.70 L786.10,832.67 L786.34,832.64 L786.59,832.61 L786.83,832.57 L787.08,832.54 L787.32,832.51 L787.57,832.48 L787.81,832.44 L788.05,832.41 L788.30,832.38 L788.54,832.35 L788.79,832.31 L789.03,832.28 L789.28,832.25 L789.52,832.21 L789.77,832.18 L790.01,832.15 L790.25,832.11 L790.50,832.08 L790.74,832.05 L790.99,832.01 L791.23,831.98 L791.48,831.94 L791.72,831.91 L791.97,831.88 L792.21,831.84 L792.45,831.81 L792.70,831.77 L792.94,831.74 L793.19,831.70 L793.43,831.67 L793.68,831.63 L793.92,831.60 L794.16,831.56 L794.41,831.53 L794.65,831.49 L794.90,831.46 L795.14,831.42 L795.39,831.38 L795.63,831.35 L795.88,831.31 L796.12,831.28 L796.36,831.24 L796.61,831.20 L796.85,831.17 L797.10,831.13 L797.34,831.09 L797.59,831.06 L797.83,831.02 L798.08,830.98 L798.32,830.95 L798.56,830.91 L798.81,830.87 L799.05,830.83 L799.30,830.80 L799.54,830.76 L799.79,830.72 L800.03,830.68 L800.27,830.64 L800.52,830.61 L800.76,830.57 L801.01,830.53 L801.25,830.49 L801.50,830.45 L801.74,830.41 L801.99,830.37 L802.23,830.33 L802.47,830.30 L802.72,830.26 L802.96,830.22 L803.21,830.18 L803.45,830.14 L803.70,830.10 L803.94,830.06 L804.19,830.02 L804.43,829.98 L804.67,829.94 L804.92,829.90 L805.16,829.86 L805.41,829.81 L805.65,829.77 L805.90,829.73 L806.14,829.69 L806.38,829.65 L806.63,829.61 L806.87,829.57 L807.12,829.53 L807.36,829.48 L807.61,829.44 L807.85,829.40 L808.10,829.36 L808.34,829.32 L808.58,829.27 L808.83,829.23 L809.07,829.19 L809.32,829.15 L809.56,829.10 L809.81,829.06 L810.05,829.02 L810.30,828.97 L810.54,828.93 L810.78,828.89 L811.03,828.84 L811.27,828.80 L811.52,828.75 L811.76,828.71 L812.01,828.66 L812.25,828.62 L812.49,828.58 L812.74,828.53 L812.98,828.49 L813.23,828.44 L813.47,828.40 L813.72,828.35 L813.96,828.30 L814.21,828.26 L814.45,828.21 L814.69,828.17 L814.94,828.12 L815.18,828.08 L815.43,828.03 L815.67,827.98 L815.92,827.94 L816.16,827.89 L816.41,827.84 L816.65,827.80 L816.89,827.75 L817.14,827.70 L817.38,827.65 L817.63,827.61 L817.87,827.56 L818.12,827.51 L818.36,827.46 L818.60,827.41 L818.85,827.36 L819.09,827.32 L819.34,827.27 L819.58,827.22 L819.83,827.17 L820.07,827.12 L820.32,827.07 L820.56,827.02 L820.80,826.97 L821.05,826.92 L821.29,826.87 L821.54,826.82 L821.78,826.77 L822.03,826.72 L822.27,826.67 L822.52,826.62 L822.76,826.57 L823.00,826.52 L823.25,826.47 L823.49,826.42 L823.74,826.36 L823.98,826.31 L824.23,826.26 L824.47,826.21 L824.71,826.16 L824.96,826.10 L825.20,826.05 L825.45,826.00 L825.69,825.95 L825.94,825.89 L826.18,825.84 L826.43,825.79 L826.67,825.73 L826.91,825.68 L827.16,825.62 L827.40,825.57 L827.65,825.52 L827.89,825.46 L828.14,825.41 L828.38,825.35 L828.63,825.30 L828.87,825.24 L829.11,825.19 L829.36,825.13 L829.60,825.08 L829.85,825.02 L830.09,824.96 L830.34,824.91 L830.58,824.85 L830.82,824.80 L831.07,824.74 L831.31,824.68 L831.56,824.63 L831.80,824.57 L832.05,824.51 L832.29,824.45 L832.54,824.40 L832.78,824.34 L833.02,824.28 L833.27,824.22 L833.51,824.16 L833.76,824.10 L834.00,824.04 L834.25,823.99 L834.49,823.93 L834.74,823.87 L834.98,823.81 L835.22,823.75 L835.47,823.69 L835.71,823.63 L835.96,823.57 L836.20,823.51 L836.45,823.45 L836.69,823.39 L836.93,823.32 L837.18,823.26 L837.42,823.20 L837.67,823.14 L837.91,823.08 L838.16,823.02 L838.40,822.95 L838.65,822.89 L838.89,822.83 L839.13,822.77 L839.38,822.70 L839.62,822.64 L839.87,822.58 L840.11,822.51 L840.36,822.45 L840.60,822.38 L840.85,822.32 L841.09,822.26 L841.33,822.19 L841.58,822.13 L841.82,822.06 L842.07,822.00 L842.31,821.93 L842.56,821.86 L842.80,821.80 L843.04,821.73 L843.29,821.67 L843.53,821.60 L843.78,821.53 L844.02,821.47 L844.27,821.40 L844.51,821.33 L844.76,821.26 L844.82,821.25 L844.88,821.23 L844.94,821.21 L845.00,821.20 L845.06,821.36 L845.12,821.53 L845.24,821.87 L845.49,822.56 L845.73,823.26 L845.98,823.97 L846.22,824.70 L846.47,825.44 L846.71,826.20 L846.96,826.96 L847.20,827.74 L847.44,828.52 L847.69,829.32 L847.93,830.12 L848.18,830.94 L848.42,831.76 L848.67,832.59 L848.91,833.43 L849.15,834.27 L849.40,835.12 L849.64,835.98 L849.89,836.84 L850.13,837.70 L850.38,838.57 L850.62,839.44 L850.87,840.31 L851.11,841.19 L851.35,842.06 L851.60,842.94 L851.84,843.82 L852.09,844.69 L852.33,845.57 L852.58,846.44 L852.82,847.31 L853.07,848.18 L853.31,849.04 L853.55,849.90 L853.80,850.75 L854.04,851.60 L854.29,852.44 L854.53,853.28 L854.78,854.10 L855.02,854.92 L855.26,855.74 L855.51,856.54 L855.75,857.33 L856.00,858.11 L856.24,858.89 L856.49,859.65 L856.73,860.40 L856.98,861.13 L857.22,861.86 L857.46,862.57 L857.71,863.27 L857.95,863.95 L858.20,864.62 L858.44,865.27 L858.69,865.91 L858.93,866.53 L859.18,867.13 L859.42,867.72 L859.66,868.29 L859.91,868.84 L860.15,869.37 L860.40,869.89 L860.64,870.39 L860.89,870.86 L861.13,871.32 L861.37,871.76 L861.62,872.18 L861.86,872.58 L862.11,872.95 L862.35,873.31 L862.60,873.64 L862.84,873.95 L863.09,874.24 L863.33,874.51 L863.57,874.76 L863.82,874.99 L864.06,875.19 L864.31,875.37 L864.55,875.52 L864.80,875.66 L865.04,875.77 L865.29,875.86 L865.53,875.92 L865.77,875.96 L866.02,875.98 L866.26,875.98 L866.51,875.95 L866.75,875.90 L867.00,875.83 L867.24,875.73 L867.48,875.61 L867.73,875.47 L867.97,875.30 L868.22,875.11 L868.46,874.90 L868.71,874.67 L868.95,874.41 L869.20,874.14 L869.44,873.84 L869.68,873.51 L869.93,873.17 L870.17,872.81 L870.42,872.42 L870.66,872.02 L870.91,871.59 L871.15,871.15 L871.40,870.68 L871.64,870.20 L871.88,869.69 L872.13,869.17 L872.37,868.63 L872.62,868.07 L872.86,867.49 L873.11,866.90 L873.35,866.29 L873.59,865.66 L873.84,865.02 L874.08,864.36 L874.33,863.69 L874.57,863.00 L874.82,862.30 L875.06,861.58 L875.31,860.85 L875.55,860.11 L875.79,859.35 L876.04,858.59 L876.28,857.81 L876.53,857.03 L876.77,856.23 L877.02,855.42 L877.26,854.61 L877.51,853.79 L877.75,852.95 L877.99,852.12 L878.24,851.27 L878.48,850.42 L878.73,849.57 L878.97,848.71 L879.22,847.84 L879.46,846.97 L879.70,846.10 L879.95,845.23 L880.19,844.35 L880.44,843.48 L880.68,842.60 L880.93,841.73 L881.17,840.85 L881.42,839.98 L881.66,839.10 L881.90,838.23 L882.15,837.37 L882.39,836.50 L882.64,835.65 L882.88,834.79 L883.13,833.95 L883.37,833.10 L883.62,832.27 L883.86,831.44 L884.10,830.62 L884.35,829.81 L884.59,829.01 L884.84,828.22 L885.08,827.43 L885.33,826.66 L885.57,825.90 L885.81,825.15 L886.06,824.42 L886.30,823.70 L886.55,822.99 L886.79,822.29 L887.04,821.61 L887.28,820.94 L887.53,820.29 L887.77,819.65 L888.01,819.03 L888.26,818.43 L888.50,817.84 L888.75,817.27 L888.99,816.72 L889.24,816.19 L889.48,815.68 L889.73,815.18 L889.97,814.70 L890.21,814.25 L890.46,813.81 L890.70,813.40 L890.95,813.00 L891.19,812.62 L891.44,812.27 L891.68,811.94 L891.92,811.63 L892.17,811.34 L892.41,811.07 L892.66,810.82 L892.90,810.60 L893.15,810.40 L893.39,810.22 L893.64,810.07 L893.70,810.03 L893.76,810.00 L893.82,809.97 L893.88,809.93 L893.94,810.02 L894.00,810.10 L894.06,810.19 L894.12,810.27 L894.37,810.61 L894.61,810.94 L894.86,811.27 L895.10,811.60 L895.35,811.92 L895.59,812.24 L895.84,812.56 L896.08,812.87 L896.32,813.18 L896.57,813.48 L896.81,813.79 L897.06,814.09 L897.30,814.38 L897.55,814.68 L897.79,814.97 L898.03,815.26 L898.28,815.54 L898.52,815.82 L898.77,816.10 L899.01,816.38 L899.26,816.65 L899.50,816.92 L899.75,817.19 L899.99,817.45 L900.23,817.71 L900.48,817.97 L900.72,818.23 L900.97,818.48 L901.21,818.74 L901.46,818.98 L901.70,819.23 L901.95,819.47 L902.19,819.72 L902.43,819.95 L902.68,820.19 L902.92,820.42 L903.17,820.65 L903.41,820.88 L903.66,821.11 L903.90,821.33 L904.14,821.56 L904.39,821.78 L904.63,821.99 L904.88,822.21 L905.12,822.42 L905.37,822.63 L905.61,822.84 L905.86,823.05 L906.10,823.25 L906.34,823.45 L906.59,823.65 L906.83,823.85 L907.08,824.05 L907.32,824.24 L907.57,824.43 L907.81,824.62 L908.06,824.81 L908.30,825.00 L908.54,825.18 L908.79,825.36 L909.03,825.54 L909.28,825.72 L909.52,825.90 L909.77,826.07 L910.01,826.24 L910.25,826.42 L910.50,826.58 L910.74,826.75 L910.99,826.92 L911.23,827.08 L911.48,827.24 L911.72,827.41 L911.97,827.56 L912.21,827.72 L912.45,827.88 L912.70,828.03 L912.94,828.18 L913.19,828.34 L913.43,828.49 L913.68,828.63 L913.92,828.78 L914.17,828.92 L914.41,829.07 L914.65,829.21 L914.90,829.35 L915.14,829.49 L915.39,829.63 L915.63,829.76 L915.88,829.90 L916.12,830.03 L916.36,830.16 L916.61,830.29 L916.85,830.42 L917.10,830.55 L917.34,830.68 L917.59,830.80 L917.83,830.93 L918.08,831.05 L918.32,831.17 L918.56,831.29 L918.81,831.41 L919.05,831.53 L919.30,831.64 L919.54,831.76 L919.79,831.87 L920.03,831.99 L920.28,832.10 L920.52,832.21 L920.76,832.32 L921.01,832.43 L921.25,832.53 L921.50,832.64 L921.74,832.75 L921.99,832.85 L922.23,832.95 L922.47,833.05 L922.72,833.15 L922.96,833.25 L923.21,833.35 L923.45,833.45 L923.70,833.55 L923.94,833.64 L924.19,833.74 L924.43,833.83 L924.67,833.92 L924.92,834.02 L925.16,834.11 L925.41,834.20 L925.65,834.29 L925.90,834.37 L926.14,834.46 L926.39,834.55 L926.63,834.63 L926.87,834.72 L927.12,834.80 L927.36,834.88 L927.61,834.96 L927.85,835.05 L928.10,835.13 L928.34,835.20 L928.58,835.28 L928.83,835.36 L929.07,835.44 L929.32,835.51 L929.56,835.59 L929.81,835.66 L930.05,835.74 L930.30,835.81 L930.54,835.88 L930.78,835.95 L931.03,836.02 L931.27,836.10 L931.52,836.16 L931.76,836.23 L932.01,836.30 L932.25,836.37 L932.50,836.43 L932.74,836.50 L932.98,836.57 L933.23,836.63 L933.47,836.69 L933.72,836.76 L933.96,836.82 L934.21,836.88 L934.45,836.94 L934.69,837.00 L934.94,837.06 L935.18,837.12 L935.43,837.18 L935.67,837.24 L935.92,837.30 L936.16,837.35 L936.41,837.41 L936.65,837.47 L936.89,837.52 L937.14,837.57 L937.38,837.63 L937.63,837.68 L937.87,837.74 L938.12,837.79 L938.36,837.84 L938.61,837.89 L938.85,837.94 L939.09,837.99 L939.34,838.04 L939.58,838.09 L939.83,838.14 L940.07,838.19 L940.32,838.23 L940.56,838.28 L940.80,838.33 L941.05,838.37 L941.29,838.42 L941.54,838.47 L941.78,838.51 L942.03,838.56 L942.27,838.60 L942.52,838.64 L942.76,838.69 L943.00,838.73 L943.25,838.77 L943.49,838.81 L943.74,838.85 L943.98,838.89 L944.23,838.93 L944.47,838.97 L944.72,839.01 L944.96,839.05 L945.20,839.09 L945.45,839.13 L945.69,839.17 L945.94,839.21 L946.18,839.24 L946.43,839.28 L946.67,839.32 L946.91,839.35 L947.16,839.39 L947.40,839.42 L947.65,839.46 L947.89,839.49 L948.14,839.53 L948.38,839.56 L948.63,839.59 L948.87,839.63 L949.11,839.66 L949.36,839.69 L949.60,839.72 L949.85,839.76 L950.09,839.79 L950.34,839.82 L950.58,839.85 L950.83,839.88 L951.07,839.91 L951.31,839.94 L951.56,839.97 L951.80,840.00 L952.05,840.03 L952.29,840.06 L952.54,840.08 L952.78,840.11 L953.02,840.14 L953.27,840.17 L953.51,840.20 L953.76,840.22 L954.00,840.25 L954.25,840.27 L954.49,840.30 L954.74,840.33 L954.98,840.35 L955.22,840.38 L955.47,840.40 L955.71,840.43 L955.96,840.45 L956.20,840.48 L956.45,840.50 L956.69,840.52 L956.94,840.55 L957.18,840.57 L957.42,840.59 L957.67,840.62 L957.91,840.64 L958.16,840.66 L958.40,840.68 L958.65,840.71 L958.89,840.73 L959.13,840.75 L959.38,840.77 L959.62,840.79 L959.87,840.81 L960.11,840.83 L960.36,840.85 L960.60,840.87 L960.85,840.89 L961.09,840.91 L961.33,840.93 L961.58,840.95 L961.82,840.97 L962.07,840.99 L962.31,841.01 L962.56,841.03 L962.80,841.04 L963.05,841.06 L963.29,841.08 L963.53,841.10 L963.78,841.12 L964.02,841.13 L964.27,841.15 L964.51,841.17 L964.76,841.18 L965.00,841.20 L965.24,841.22 L965.49,841.23 L965.73,841.25 L965.98,841.27 L966.22,841.28 L966.47,841.30 L966.71,841.31 L966.96,841.33 L967.20,841.34" fill="none" stroke="#0000ff" stroke-width="4.20" stroke-linejoin="round" stroke-linecap="butt" stroke-dasharray="17 15"/>
<path clip-path="url(#cb2)" d="M722.80,861.54 L723.04,861.60 L723.29,861.66 L723.53,861.72 L723.78,861.78 L724.02,861.84 L724.27,861.90 L724.51,861.96 L724.76,862.02 L725.00,862.08 L725.24,862.14 L725.49,862.20 L725.73,862.26 L725.98,862.32 L726.22,862.38 L726.47,862.44 L726.71,862.51 L726.95,862.57 L727.20,862.63 L727.44,862.69 L727.69,862.75 L727.93,862.82 L728.18,862.88 L728.42,862.94 L728.67,863.01 L728.91,863.07 L729.15,863.13 L729.40,863.20 L729.64,863.26 L729.89,863.33 L730.13,863.39 L730.38,863.46 L730.62,863.52 L730.87,863.59 L731.11,863.65 L731.35,863.72 L731.60,863.78 L731.84,863.85 L732.09,863.92 L732.33,863.98 L732.58,864.05 L732.82,864.12 L733.06,864.18 L733.31,864.25 L733.55,864.32 L733.80,864.39 L734.04,864.45 L734.29,864.52 L734.53,864.59 L734.78,864.66 L735.02,864.73 L735.26,864.80 L735.51,864.87 L735.75,864.94 L736.00,865.00 L736.24,865.07 L736.49,865.14 L736.73,865.21 L736.98,865.29 L737.22,865.36 L737.46,865.43 L737.71,865.50 L737.95,865.57 L738.20,865.64 L738.44,865.71 L738.69,865.79 L738.93,865.86 L739.17,865.93 L739.42,866.00 L739.66,866.08 L739.91,866.15 L740.15,866.22 L740.40,866.30 L740.64,866.37 L740.89,866.44 L741.13,866.52 L741.37,866.59 L741.62,866.67 L741.86,866.74 L742.11,866.82 L742.35,866.89 L742.60,866.97 L742.84,867.05 L743.09,867.12 L743.33,867.20 L743.57,867.28 L743.82,867.35 L744.06,867.43 L744.31,867.51 L744.55,867.59 L744.80,867.66 L745.04,867.74 L745.28,867.82 L745.53,867.90 L745.77,867.98 L746.02,868.06 L746.26,868.14 L746.51,868.22 L746.75,868.30 L747.00,868.38 L747.24,868.46 L747.48,868.54 L747.73,868.62 L747.97,868.70 L748.22,868.78 L748.46,868.86 L748.71,868.95 L748.95,869.03 L749.20,869.11 L749.44,869.19 L749.68,869.28 L749.93,869.36 L750.17,869.44 L750.42,869.53 L750.66,869.61 L750.91,869.70 L751.15,869.78 L751.39,869.87 L751.64,869.95 L751.88,870.04 L752.13,870.12 L752.37,870.21 L752.62,870.29 L752.86,870.38 L753.11,870.47 L753.35,870.55 L753.59,870.64 L753.84,870.73 L754.08,870.82 L754.33,870.91 L754.57,870.99 L754.82,871.08 L755.06,871.17 L755.31,871.26 L755.55,871.35 L755.79,871.44 L756.04,871.53 L756.28,871.62 L756.53,871.71 L756.77,871.80 L757.02,871.89 L757.26,871.99 L757.50,872.08 L757.75,872.17 L757.99,872.26 L758.24,872.35 L758.48,872.45 L758.73,872.54 L758.97,872.63 L759.22,872.73 L759.46,872.82 L759.70,872.92 L759.95,873.01 L760.19,873.11 L760.44,873.20 L760.68,873.30 L760.93,873.39 L761.17,873.49 L761.42,873.59 L761.66,873.68 L761.90,873.78 L762.15,873.88 L762.39,873.98 L762.64,874.07 L762.88,874.17 L763.13,874.27 L763.37,874.37 L763.61,874.47 L763.86,874.57 L764.10,874.67 L764.35,874.77 L764.59,874.87 L764.84,874.97 L765.08,875.07 L765.33,875.17 L765.57,875.28 L765.81,875.38 L766.06,875.48 L766.30,875.58 L766.55,875.69 L766.79,875.79 L767.04,875.89 L767.28,876.00 L767.53,876.10 L767.77,876.21 L768.01,876.31 L768.26,876.42 L768.50,876.52 L768.75,876.63 L768.99,876.74 L769.24,876.84 L769.48,876.95 L769.72,877.06 L769.97,877.17 L770.21,877.27 L770.46,877.38 L770.70,877.49 L770.95,877.60 L771.19,877.71 L771.44,877.82 L771.68,877.93 L771.92,878.04 L772.17,878.15 L772.41,878.26 L772.66,878.37 L772.90,878.49 L773.15,878.60 L773.39,878.71 L773.64,878.82 L773.88,878.94 L774.12,879.05 L774.37,879.17 L774.61,879.28 L774.86,879.39 L775.10,879.51 L775.35,879.63 L775.59,879.74 L775.83,879.86 L776.08,879.97 L776.32,880.09 L776.57,880.21 L776.81,880.33 L777.06,880.44 L777.30,880.56 L777.55,880.68 L777.79,880.80 L778.03,880.92 L778.28,881.04 L778.52,881.16 L778.77,881.28 L779.01,881.40 L779.26,881.52 L779.50,881.65 L779.75,881.77 L779.99,881.89 L780.23,882.01 L780.48,882.14 L780.72,882.26 L780.97,882.39 L781.21,882.51 L781.46,882.63 L781.70,882.76 L781.94,882.89 L782.19,883.01 L782.43,883.14 L782.68,883.27 L782.92,883.39 L783.17,883.52 L783.41,883.65 L783.66,883.78 L783.90,883.91 L784.14,884.04 L784.39,884.17 L784.63,884.30 L784.88,884.43 L785.12,884.56 L785.37,884.69 L785.61,884.82 L785.86,884.95 L786.10,885.09 L786.34,885.22 L786.59,885.35 L786.83,885.49 L787.08,885.62 L787.32,885.76 L787.57,885.89 L787.81,886.03 L788.05,886.16 L788.30,886.30 L788.54,886.44 L788.79,886.57 L789.03,886.71 L789.28,886.85 L789.52,886.99 L789.77,887.13 L790.01,887.27 L790.25,887.41 L790.50,887.55 L790.74,887.69 L790.99,887.83 L791.23,887.97 L791.48,888.11 L791.72,888.25 L791.97,888.40 L792.21,888.54 L792.45,888.69 L792.70,888.83 L792.94,888.97 L793.19,889.12 L793.43,889.27 L793.68,889.41 L793.92,889.56 L794.16,889.71 L794.41,889.85 L794.65,890.00 L794.90,890.15 L795.14,890.30 L795.39,890.45 L795.63,890.60 L795.88,890.75 L796.12,890.90 L796.36,891.05 L796.61,891.20 L796.85,891.36 L797.10,891.51 L797.34,891.66 L797.59,891.82 L797.83,891.97 L798.08,892.12 L798.32,892.28 L798.56,892.43 L798.81,892.59 L799.05,892.75 L799.30,892.91 L799.54,893.06 L799.79,893.22 L800.03,893.38 L800.27,893.54 L800.52,893.70 L800.76,893.86 L801.01,894.02 L801.25,894.18 L801.50,894.34 L801.74,894.50 L801.99,894.67 L802.23,894.83 L802.47,894.99 L802.72,895.16 L802.96,895.32 L803.21,895.49 L803.45,895.65 L803.70,895.82 L803.94,895.99 L804.19,896.15 L804.43,896.32 L804.67,896.49 L804.92,896.66 L805.16,896.83 L805.41,897.00 L805.65,897.17 L805.90,897.34 L806.14,897.51 L806.38,897.69 L806.63,897.86 L806.87,898.03 L807.12,898.21 L807.36,898.38 L807.61,898.55 L807.85,898.73 L808.10,898.91 L808.34,899.08 L808.58,899.26 L808.83,899.44 L809.07,899.62 L809.32,899.79 L809.56,899.97 L809.81,900.15 L810.05,900.33 L810.30,900.52 L810.54,900.70 L810.78,900.88 L811.03,901.06 L811.27,901.25 L811.52,901.43 L811.76,901.61 L812.01,901.80 L812.25,901.98 L812.49,902.17 L812.74,902.36 L812.98,902.54 L813.23,902.73 L813.47,902.92 L813.72,903.11 L813.96,903.30 L814.21,903.49 L814.45,903.68 L814.69,903.87 L814.94,904.07 L815.18,904.26 L815.43,904.45 L815.67,904.65 L815.92,904.84 L816.16,905.04 L816.41,905.23 L816.65,905.43 L816.89,905.63 L817.14,905.82 L817.38,906.02 L817.63,906.22 L817.87,906.42 L818.12,906.62 L818.36,906.82 L818.60,907.02 L818.85,907.22 L819.09,907.43 L819.34,907.63 L819.58,907.83 L819.83,908.04 L820.07,908.24 L820.32,908.45 L820.56,908.66 L820.80,908.86 L821.05,909.07 L821.29,909.28 L821.54,909.49 L821.78,909.70 L822.03,909.91 L822.27,910.12 L822.52,910.33 L822.76,910.55 L823.00,910.76 L823.25,910.97 L823.49,911.19 L823.74,911.40 L823.98,911.62 L824.23,911.84 L824.47,912.05 L824.71,912.27 L824.96,912.49 L825.20,912.71 L825.45,912.93 L825.69,913.15 L825.94,913.37 L826.18,913.59 L826.43,913.82 L826.67,914.04 L826.91,914.26 L827.16,914.49 L827.40,914.71 L827.65,914.94 L827.89,915.17 L828.14,915.40 L828.38,915.62 L828.63,915.85 L828.87,916.08 L829.11,916.31 L829.36,916.54 L829.60,916.78 L829.85,917.01 L830.09,917.24 L830.34,917.48 L830.58,917.71 L830.82,917.95 L831.07,918.18 L831.31,918.42 L831.56,918.66 L831.80,918.90 L832.05,919.14 L832.29,919.38 L832.54,919.62 L832.78,919.86 L833.02,920.10 L833.27,920.35 L833.51,920.59 L833.76,920.84 L834.00,921.08 L834.25,921.33 L834.49,921.57 L834.74,921.82 L834.98,922.07 L835.22,922.32 L835.47,922.57 L835.71,922.82 L835.96,923.07 L836.20,923.33 L836.45,923.58 L836.69,923.83 L836.93,924.09 L837.18,924.35 L837.42,924.60 L837.67,924.86 L837.91,925.12 L838.16,925.38 L838.40,925.64 L838.65,925.90 L838.89,926.16 L839.13,926.42 L839.38,926.68 L839.62,926.95 L839.87,927.21 L840.11,927.48 L840.36,927.75 L840.60,928.01 L840.85,928.28 L841.09,928.55 L841.33,928.82 L841.58,929.09 L841.82,929.36 L842.07,929.63 L842.31,929.91 L842.56,930.18 L842.80,930.46 L843.04,930.73 L843.29,931.01 L843.53,931.29 L843.78,931.57 L844.02,931.84 L844.27,932.12 L844.51,932.41 L844.76,932.69 L844.82,932.76 L844.88,932.83 L844.94,932.90 L845.00,877.07 L845.06,877.26 L845.12,877.45 L845.24,877.83 L845.49,878.57 L845.73,879.29 L845.98,879.97 L846.22,880.64 L846.47,881.28 L846.71,881.89 L846.96,882.47 L847.20,883.02 L847.44,883.55 L847.69,884.05 L847.93,884.52 L848.18,884.96 L848.42,885.37 L848.67,885.75 L848.91,886.11 L849.15,886.43 L849.40,886.72 L849.64,886.98 L849.89,887.21 L850.13,887.41 L850.38,887.58 L850.62,887.71 L850.87,887.82 L851.11,887.89 L851.35,887.93 L851.60,887.94 L851.84,887.92 L852.09,887.87 L852.33,887.79 L852.58,887.67 L852.82,887.53 L853.07,887.35 L853.31,887.14 L853.55,886.90 L853.80,886.63 L854.04,886.33 L854.29,886.00 L854.53,885.64 L854.78,885.24 L855.02,884.82 L855.26,884.37 L855.51,883.89 L855.75,883.39 L856.00,882.85 L856.24,882.29 L856.49,881.69 L856.73,881.07 L856.98,880.43 L857.22,879.76 L857.46,879.06 L857.71,878.34 L857.95,877.59 L858.20,876.82 L858.44,876.02 L858.69,875.20 L858.93,874.36 L859.18,873.50 L859.42,872.61 L859.66,871.71 L859.91,870.78 L860.15,869.83 L860.40,868.87 L860.64,867.89 L860.89,866.89 L861.13,865.87 L861.37,864.84 L861.62,863.79 L861.86,862.73 L862.11,861.65 L862.35,860.56 L862.60,859.46 L862.84,858.34 L863.09,857.22 L863.33,856.08 L863.57,854.94 L863.82,853.79 L864.06,852.63 L864.31,851.46 L864.55,850.29 L864.80,849.11 L865.04,847.92 L865.29,846.74 L865.53,845.55 L865.77,844.36 L866.02,843.17 L866.26,841.97 L866.51,840.78 L866.75,839.59 L867.00,838.40 L867.24,837.22 L867.48,836.04 L867.73,834.86 L867.97,833.69 L868.22,832.52 L868.46,831.37 L868.71,830.22 L868.95,829.08 L869.20,827.95 L869.44,826.83 L869.68,825.72 L869.93,824.62 L870.17,823.53 L870.42,822.46 L870.66,821.40 L870.91,820.36 L871.15,819.33 L871.40,818.32 L871.64,817.33 L871.88,816.36 L872.13,815.40 L872.37,814.46 L872.62,813.54 L872.86,812.64 L873.11,811.77 L873.35,810.91 L873.59,810.08 L873.84,809.27 L874.08,808.48 L874.33,807.72 L874.57,806.98 L874.82,806.27 L875.06,805.58 L875.31,804.92 L875.55,804.28 L875.79,803.67 L876.04,803.09 L876.28,802.54 L876.53,802.01 L876.77,801.52 L877.02,801.05 L877.26,800.61 L877.51,800.20 L877.75,799.82 L877.99,799.47 L878.24,799.15 L878.48,798.86 L878.73,798.60 L878.97,798.38 L879.22,798.18 L879.46,798.01 L879.70,797.88 L879.95,797.78 L880.19,797.70 L880.44,797.66 L880.68,797.66 L880.93,797.68 L881.17,797.73 L881.42,797.82 L881.66,797.94 L881.90,798.08 L882.15,798.26 L882.39,798.48 L882.64,798.72 L882.88,798.99 L883.13,799.29 L883.37,799.63 L883.62,799.99 L883.86,800.38 L884.10,800.81 L884.35,801.26 L884.59,801.74 L884.84,802.25 L885.08,802.79 L885.33,803.35 L885.57,803.95 L885.81,804.57 L886.06,805.21 L886.30,805.89 L886.55,806.59 L886.79,807.31 L887.04,808.06 L887.28,808.84 L887.53,809.63 L887.77,810.45 L888.01,811.30 L888.26,812.16 L888.50,813.05 L888.75,813.95 L888.99,814.88 L889.24,815.83 L889.48,816.79 L889.73,817.78 L889.97,818.78 L890.21,819.80 L890.46,820.83 L890.70,821.88 L890.95,822.94 L891.19,824.02 L891.44,825.11 L891.68,826.22 L891.92,827.33 L892.17,828.46 L892.41,829.59 L892.66,830.74 L892.90,831.89 L893.15,833.05 L893.39,834.22 L893.64,835.39 L893.70,835.69 L893.76,835.98 L893.82,836.27 L893.88,801.31 L893.94,801.42 L894.00,801.53 L894.06,801.63 L894.12,801.74 L894.37,802.17 L894.61,802.59 L894.86,803.00 L895.10,803.41 L895.35,803.82 L895.59,804.22 L895.84,804.62 L896.08,805.02 L896.32,805.41 L896.57,805.79 L896.81,806.18 L897.06,806.55 L897.30,806.93 L897.55,807.30 L897.79,807.67 L898.03,808.03 L898.28,808.39 L898.52,808.74 L898.77,809.10 L899.01,809.44 L899.26,809.79 L899.50,810.13 L899.75,810.47 L899.99,810.80 L900.23,811.13 L900.48,811.46 L900.72,811.78 L900.97,812.10 L901.21,812.42 L901.46,812.74 L901.70,813.05 L901.95,813.35 L902.19,813.66 L902.43,813.96 L902.68,814.26 L902.92,814.55 L903.17,814.84 L903.41,815.13 L903.66,815.42 L903.90,815.70 L904.14,815.98 L904.39,816.26 L904.63,816.53 L904.88,816.81 L905.12,817.07 L905.37,817.34 L905.61,817.60 L905.86,817.86 L906.10,818.12 L906.34,818.38 L906.59,818.63 L906.83,818.88 L907.08,819.13 L907.32,819.37 L907.57,819.61 L907.81,819.85 L908.06,820.09 L908.30,820.32 L908.54,820.56 L908.79,820.79 L909.03,821.01 L909.28,821.24 L909.52,821.46 L909.77,821.68 L910.01,821.90 L910.25,822.12 L910.50,822.33 L910.74,822.54 L910.99,822.75 L911.23,822.96 L911.48,823.16 L911.72,823.37 L911.97,823.57 L912.21,823.77 L912.45,823.96 L912.70,824.16 L912.94,824.35 L913.19,824.54 L913.43,824.73 L913.68,824.92 L913.92,825.10 L914.17,825.28 L914.41,825.47 L914.65,825.64 L914.90,825.82 L915.14,826.00 L915.39,826.17 L915.63,826.34 L915.88,826.51 L916.12,826.68 L916.36,826.85 L916.61,827.01 L916.85,827.18 L917.10,827.34 L917.34,827.50 L917.59,827.66 L917.83,827.81 L918.08,827.97 L918.32,828.12 L918.56,828.27 L918.81,828.42 L919.05,828.57 L919.30,828.72 L919.54,828.86 L919.79,829.01 L920.03,829.15 L920.28,829.29 L920.52,829.43 L920.76,829.57 L921.01,829.71 L921.25,829.84 L921.50,829.97 L921.74,830.11 L921.99,830.24 L922.23,830.37 L922.47,830.50 L922.72,830.62 L922.96,830.75 L923.21,830.87 L923.45,831.00 L923.70,831.12 L923.94,831.24 L924.19,831.36 L924.43,831.48 L924.67,831.60 L924.92,831.71 L925.16,831.83 L925.41,831.94 L925.65,832.05 L925.90,832.16 L926.14,832.27 L926.39,832.38 L926.63,832.49 L926.87,832.60 L927.12,832.70 L927.36,832.81 L927.61,832.91 L927.85,833.01 L928.10,833.11 L928.34,833.21 L928.58,833.31 L928.83,833.41 L929.07,833.51 L929.32,833.60 L929.56,833.70 L929.81,833.79 L930.05,833.88 L930.30,833.98 L930.54,834.07 L930.78,834.16 L931.03,834.25 L931.27,834.34 L931.52,834.42 L931.76,834.51 L932.01,834.60 L932.25,834.68 L932.50,834.76 L932.74,834.85 L932.98,834.93 L933.23,835.01 L933.47,835.09 L933.72,835.17 L933.96,835.25 L934.21,835.33 L934.45,835.41 L934.69,835.48 L934.94,835.56 L935.18,835.63 L935.43,835.71 L935.67,835.78 L935.92,835.85 L936.16,835.92 L936.41,836.00 L936.65,836.07 L936.89,836.13 L937.14,836.20 L937.38,836.27 L937.63,836.34 L937.87,836.41 L938.12,836.47 L938.36,836.54 L938.61,836.60 L938.85,836.67 L939.09,836.73 L939.34,836.79 L939.58,836.85 L939.83,836.92 L940.07,836.98 L940.32,837.04 L940.56,837.10 L940.80,837.16 L941.05,837.21 L941.29,837.27 L941.54,837.33 L941.78,837.39 L942.03,837.44 L942.27,837.50 L942.52,837.55 L942.76,837.61 L943.00,837.66 L943.25,837.71 L943.49,837.77 L943.74,837.82 L943.98,837.87 L944.23,837.92 L944.47,837.97 L944.72,838.02 L944.96,838.07 L945.20,838.12 L945.45,838.17 L945.69,838.21 L945.94,838.26 L946.18,838.31 L946.43,838.36 L946.67,838.40 L946.91,838.45 L947.16,838.49 L947.40,838.54 L947.65,838.58 L947.89,838.62 L948.14,838.67 L948.38,838.71 L948.63,838.75 L948.87,838.79 L949.11,838.84 L949.36,838.88 L949.60,838.92 L949.85,838.96 L950.09,839.00 L950.34,839.04 L950.58,839.07 L950.83,839.11 L951.07,839.15 L951.31,839.19 L951.56,839.23 L951.80,839.26 L952.05,839.30 L952.29,839.34 L952.54,839.37 L952.78,839.41 L953.02,839.44 L953.27,839.48 L953.51,839.51 L953.76,839.55 L954.00,839.58 L954.25,839.61 L954.49,839.65 L954.74,839.68 L954.98,839.71 L955.22,839.74 L955.47,839.77 L955.71,839.81 L955.96,839.84 L956.20,839.87 L956.45,839.90 L956.69,839.93 L956.94,839.96 L957.18,839.99 L957.42,840.02 L957.67,840.04 L957.91,840.07 L958.16,840.10 L958.40,840.13 L958.65,840.16 L958.89,840.18 L959.13,840.21 L959.38,840.24 L959.62,840.26 L959.87,840.29 L960.11,840.32 L960.36,840.34 L960.60,840.37 L960.85,840.39 L961.09,840.42 L961.33,840.44 L961.58,840.47 L961.82,840.49 L962.07,840.51 L962.31,840.54 L962.56,840.56 L962.80,840.58 L963.05,840.61 L963.29,840.63 L963.53,840.65 L963.78,840.67 L964.02,840.70 L964.27,840.72 L964.51,840.74 L964.76,840.76 L965.00,840.78 L965.24,840.80 L965.49,840.82 L965.73,840.84 L965.98,840.86 L966.22,840.88 L966.47,840.90 L966.71,840.92 L966.96,840.94 L967.20,840.96" fill="none" stroke="#0000ff" stroke-width="4.20" stroke-linejoin="round" stroke-linecap="round" stroke-dasharray="1.6 5.8"/>
<path clip-path="url(#cb0)" d="M54.50,842.80 L300.30,842.80" stroke="#000" stroke-width="2.6" stroke-dasharray="2.6 12.4" stroke-linecap="round" stroke-dashoffset="0.00"/>
<rect x="55.00" y="743.00" width="245.30" height="198.00" fill="none" stroke="#000" stroke-width="2.6"/>
<path d="M55.00,932.90 L63.50,932.90 M55.00,842.80 L63.50,842.80 M55.00,752.70 L63.50,752.70 M55.00,887.85 L60.00,887.85 M55.00,797.75 L60.00,797.75 M79.94,941.00 L79.94,933.50 M128.82,941.00 L128.82,933.50 M177.70,941.00 L177.70,933.50 M226.58,941.00 L226.58,933.50 M275.46,941.00 L275.46,933.50 M104.38,941.00 L104.38,936.50 M153.26,941.00 L153.26,936.50 M202.14,941.00 L202.14,936.50 M251.02,941.00 L251.02,936.50" stroke="#000" stroke-width="2.6" fill="none"/>
<g transform="translate(46.00,761.00)" fill="#000"><text xml:space="preserve" transform="translate(-12.81,0.00) scale(0.960,1)" font-size="24.00">1</text></g>
<g transform="translate(46.00,851.10)" fill="#000"><text xml:space="preserve" transform="translate(-12.81,0.00) scale(0.960,1)" font-size="24.00">0</text></g>
<g transform="translate(46.00,941.20)" fill="#000"><text xml:space="preserve" transform="translate(-20.49,0.00) scale(0.960,1)" font-size="24.00">-1</text></g>
<g transform="translate(79.94,965.30)" fill="#000"><text xml:space="preserve" transform="translate(-18.73,0.00) scale(0.960,1)" font-size="19.50">-800</text></g>
<g transform="translate(128.82,965.30)" fill="#000"><text xml:space="preserve" transform="translate(-18.73,0.00) scale(0.960,1)" font-size="19.50">-400</text></g>
<g transform="translate(177.70,965.30)" fill="#000"><text xml:space="preserve" transform="translate(-5.21,0.00) scale(0.960,1)" font-size="19.50">0</text></g>
<g transform="translate(226.58,965.30)" fill="#000"><text xml:space="preserve" transform="translate(-15.62,0.00) scale(0.960,1)" font-size="19.50">400</text></g>
<g transform="translate(275.46,965.30)" fill="#000"><text xml:space="preserve" transform="translate(-15.62,0.00) scale(0.960,1)" font-size="19.50">800</text></g>
<g transform="translate(178.15,985.50)" fill="#000"><text xml:space="preserve" transform="translate(-32.97,0.00) scale(0.950,1)" font-size="24.50">z (nm)</text></g>
<path clip-path="url(#cb1)" d="M387.50,842.80 L633.00,842.80" stroke="#000" stroke-width="2.6" stroke-dasharray="2.6 12.4" stroke-linecap="round" stroke-dashoffset="0.00"/>
<rect x="388.00" y="743.00" width="245.00" height="198.00" fill="none" stroke="#000" stroke-width="2.6"/>
<path d="M388.00,932.90 L396.50,932.90 M388.00,842.80 L396.50,842.80 M388.00,752.70 L396.50,752.70 M388.00,887.85 L393.00,887.85 M388.00,797.75 L393.00,797.75 M413.44,941.00 L413.44,933.50 M462.32,941.00 L462.32,933.50 M511.20,941.00 L511.20,933.50 M560.08,941.00 L560.08,933.50 M608.96,941.00 L608.96,933.50 M437.88,941.00 L437.88,936.50 M486.76,941.00 L486.76,936.50 M535.64,941.00 L535.64,936.50 M584.52,941.00 L584.52,936.50" stroke="#000" stroke-width="2.6" fill="none"/>
<g transform="translate(379.00,761.00)" fill="#000"><text xml:space="preserve" transform="translate(-12.81,0.00) scale(0.960,1)" font-size="24.00">1</text></g>
<g transform="translate(379.00,851.10)" fill="#000"><text xml:space="preserve" transform="translate(-12.81,0.00) scale(0.960,1)" font-size="24.00">0</text></g>
<g transform="translate(379.00,941.20)" fill="#000"><text xml:space="preserve" transform="translate(-20.49,0.00) scale(0.960,1)" font-size="24.00">-1</text></g>
<g transform="translate(413.44,965.30)" fill="#000"><text xml:space="preserve" transform="translate(-18.73,0.00) scale(0.960,1)" font-size="19.50">-800</text></g>
<g transform="translate(462.32,965.30)" fill="#000"><text xml:space="preserve" transform="translate(-18.73,0.00) scale(0.960,1)" font-size="19.50">-400</text></g>
<g transform="translate(511.20,965.30)" fill="#000"><text xml:space="preserve" transform="translate(-5.21,0.00) scale(0.960,1)" font-size="19.50">0</text></g>
<g transform="translate(560.08,965.30)" fill="#000"><text xml:space="preserve" transform="translate(-15.62,0.00) scale(0.960,1)" font-size="19.50">400</text></g>
<g transform="translate(608.96,965.30)" fill="#000"><text xml:space="preserve" transform="translate(-15.62,0.00) scale(0.960,1)" font-size="19.50">800</text></g>
<g transform="translate(511.00,985.50)" fill="#000"><text xml:space="preserve" transform="translate(-32.97,0.00) scale(0.950,1)" font-size="24.50">z (nm)</text></g>
<path clip-path="url(#cb2)" d="M721.70,842.80 L966.50,842.80" stroke="#000" stroke-width="2.6" stroke-dasharray="2.6 12.4" stroke-linecap="round" stroke-dashoffset="0.00"/>
<rect x="722.20" y="743.00" width="244.30" height="198.00" fill="none" stroke="#000" stroke-width="2.6"/>
<path d="M722.20,932.90 L730.70,932.90 M722.20,842.80 L730.70,842.80 M722.20,752.70 L730.70,752.70 M722.20,887.85 L727.20,887.85 M722.20,797.75 L727.20,797.75 M747.24,941.00 L747.24,933.50 M796.12,941.00 L796.12,933.50 M845.00,941.00 L845.00,933.50 M893.88,941.00 L893.88,933.50 M942.76,941.00 L942.76,933.50 M771.68,941.00 L771.68,936.50 M820.56,941.00 L820.56,936.50 M869.44,941.00 L869.44,936.50 M918.32,941.00 L918.32,936.50" stroke="#000" stroke-width="2.6" fill="none"/>
<g transform="translate(713.20,761.00)" fill="#000"><text xml:space="preserve" transform="translate(-12.81,0.00) scale(0.960,1)" font-size="24.00">1</text></g>
<g transform="translate(713.20,851.10)" fill="#000"><text xml:space="preserve" transform="translate(-12.81,0.00) scale(0.960,1)" font-size="24.00">0</text></g>
<g transform="translate(713.20,941.20)" fill="#000"><text xml:space="preserve" transform="translate(-20.49,0.00) scale(0.960,1)" font-size="24.00">-1</text></g>
<g transform="translate(747.24,965.30)" fill="#000"><text xml:space="preserve" transform="translate(-18.73,0.00) scale(0.960,1)" font-size="19.50">-800</text></g>
<g transform="translate(796.12,965.30)" fill="#000"><text xml:space="preserve" transform="translate(-18.73,0.00) scale(0.960,1)" font-size="19.50">-400</text></g>
<g transform="translate(845.00,965.30)" fill="#000"><text xml:space="preserve" transform="translate(-5.21,0.00) scale(0.960,1)" font-size="19.50">0</text></g>
<g transform="translate(893.88,965.30)" fill="#000"><text xml:space="preserve" transform="translate(-15.62,0.00) scale(0.960,1)" font-size="19.50">400</text></g>
<g transform="translate(942.76,965.30)" fill="#000"><text xml:space="preserve" transform="translate(-15.62,0.00) scale(0.960,1)" font-size="19.50">800</text></g>
<g transform="translate(844.85,985.50)" fill="#000"><text xml:space="preserve" transform="translate(-32.97,0.00) scale(0.950,1)" font-size="24.50">z (nm)</text></g>
<g transform="translate(22.00,845.50) rotate(-90)" fill="#000"><text xml:space="preserve" transform="translate(-112.99,0.00) scale(0.945,1)" font-size="25.00">Electric field, </text><text xml:space="preserve" transform="translate(27.49,0.00) scale(0.945,1)" font-size="25.00" font-style="italic">E</text><text xml:space="preserve" transform="translate(43.25,6.00) scale(0.945,1)" font-size="17.00" font-style="italic">y</text><text xml:space="preserve" transform="translate(51.28,0.00) scale(0.945,1)" font-size="25.00"> (a.u.)</text></g>
<g transform="translate(349.00,845.50) rotate(-90)" fill="#000"><text xml:space="preserve" transform="translate(-122.85,0.00) scale(0.945,1)" font-size="25.00">Magnetic field, </text><text xml:space="preserve" transform="translate(36.05,0.00) scale(0.945,1)" font-size="25.00" font-style="italic">H</text><text xml:space="preserve" transform="translate(53.11,6.00) scale(0.945,1)" font-size="17.00" font-style="italic">y</text><text xml:space="preserve" transform="translate(61.14,0.00) scale(0.945,1)" font-size="25.00"> (a.u.)</text></g>
<g transform="translate(686.00,845.50) rotate(-90)" fill="#000"><text xml:space="preserve" transform="translate(-94.53,0.00) scale(0.945,1)" font-size="25.00">Electric field (a.u.)</text></g>
<path d="M59.4,722.8 L114.4,722.8" stroke="#ff0000" stroke-width="4" stroke-linecap="round"/>
<g transform="translate(119.50,731.50)" fill="#000"><text xml:space="preserve" transform="translate(0.00,0.00) scale(0.950,1)" font-size="24.00">TE</text><text xml:space="preserve" transform="translate(29.14,8.00) scale(0.920,1)" font-size="16.50">0</text></g>
<path d="M186.8,722.8 L241.8,722.8" stroke="#008000" stroke-width="4" stroke-linecap="round"/>
<g transform="translate(248.00,731.50)" fill="#000"><text xml:space="preserve" transform="translate(0.00,0.00) scale(0.950,1)" font-size="24.00">TE</text><text xml:space="preserve" transform="translate(29.14,8.00) scale(0.920,1)" font-size="16.50">1</text></g>
<path d="M391,722.5 L445.5,722.5" stroke="#000" stroke-width="4" stroke-linecap="round"/>
<g transform="translate(452.00,731.50)" fill="#000"><text xml:space="preserve" transform="translate(0.00,0.00) scale(0.950,1)" font-size="24.00">TM</text><text xml:space="preserve" transform="translate(32.92,8.00) scale(0.920,1)" font-size="16.50">0</text></g>
<path d="M509.9,722.5 L564.4,722.5" stroke="#0000ff" stroke-width="4" stroke-linecap="round"/>
<g transform="translate(572.50,731.50)" fill="#000"><text xml:space="preserve" transform="translate(0.00,0.00) scale(0.950,1)" font-size="24.00">TM</text><text xml:space="preserve" transform="translate(32.92,8.00) scale(0.920,1)" font-size="16.50">1</text></g>
<path d="M727.8,722.8 L745.8,722.8 M760.5,722.8 L779.1,722.8" stroke="#000" stroke-width="4" stroke-linecap="round"/>
<g transform="translate(788.50,731.50)" fill="#000"><text xml:space="preserve" transform="translate(0.00,0.00) scale(0.950,1)" font-size="24.00">TM</text><text xml:space="preserve" transform="translate(32.92,8.00) scale(0.920,1)" font-size="16.50">0</text></g>
<path d="M852.7,722.8 L870.7,722.8 M885.5,722.8 L904,722.8" stroke="#0000ff" stroke-width="4" stroke-linecap="round"/>
<g transform="translate(913.50,731.50)" fill="#000"><text xml:space="preserve" transform="translate(0.00,0.00) scale(0.950,1)" font-size="24.00">TM</text><text xml:space="preserve" transform="translate(32.92,8.00) scale(0.920,1)" font-size="16.50">1</text></g>
<path d="M740.6,763.8 L757.6,763.8 M772.6,763.8 L789.6,763.8" stroke="#000" stroke-width="4.2" stroke-linecap="round"/>
<path d="M742,800.5 L790,800.5" stroke="#000" stroke-width="4.2" stroke-dasharray="1.6 5.8" stroke-linecap="round"/>
<g transform="translate(801.50,772.00)" fill="#000"><text xml:space="preserve" transform="translate(0.00,0.00) scale(1.040,1)" font-size="24.00" font-style="italic">iE</text><text xml:space="preserve" transform="translate(22.19,8.00) scale(1.000,1)" font-size="17.00" font-style="italic">x</text></g>
<g transform="translate(801.50,809.00)" fill="#000"><text xml:space="preserve" transform="translate(0.00,0.00) scale(1.040,1)" font-size="24.00" font-style="italic">E</text><text xml:space="preserve" transform="translate(16.65,8.00) scale(1.000,1)" font-size="17.00" font-style="italic">z</text></g>
<g transform="translate(0.00,715.30)" fill="#000"><text xml:space="preserve" transform="translate(0.00,0.00) scale(1.000,1)" font-size="41.00" font-weight="bold">(b)</text></g>
</svg></body></html>
